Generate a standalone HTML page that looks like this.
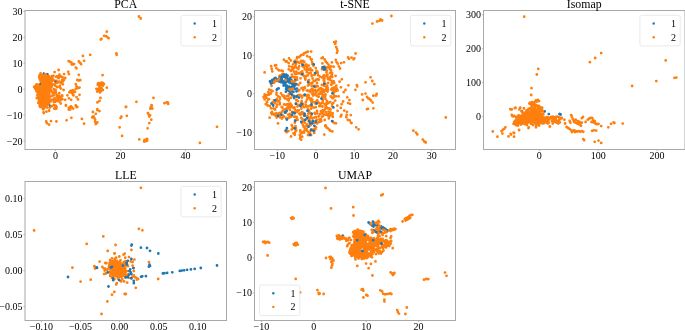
<!DOCTYPE html><html><head><meta charset="utf-8"><style>html,body{margin:0;padding:0;background:#fff;overflow:hidden;}svg{display:block;}text{font-family:"Liberation Serif",serif;fill:#000;}svg{will-change:transform;}</style></head><body>
<svg width="685" height="330" viewBox="0 0 685 330">
<rect width="685" height="330" fill="#fff"/>
<clipPath id="c0"><rect x="25.0" y="10.5" width="201.5" height="139.0"/></clipPath>
<g clip-path="url(#c0)">
<path d="M40.9 74.7L43.7 73.8L46.9 75.1L50.1 76.4L52.6 79.0L51.8 81.7L53.0 84.2L52.2 87.3L50.8 90.3L49.7 93.3L49.3 97.2L48.8 101.2L47.5 104.5L45.0 107.2L41.7 106.6L39.2 103.9L38.0 99.9L38.3 94.6L37.8 90.9L35.1 87.9L34.4 86.0L38.3 84.7L40.3 82.2L39.9 78.5Z" fill="#ff7f0e"/>
<path d="M97.8 84.5L98.6 83.9L99.7 83.4L101.1 83.5L102.5 83.2L103.2 83.9L103.0 84.8L102.2 85.5L100.5 86.1L100.1 87.3L101.8 89.0L102.4 90.1L101.8 90.9L100.4 91.6L98.8 91.3L97.2 90.9L96.6 90.1L97.0 89.2L99.0 88.4L100.0 87.0L98.3 85.4L97.7 84.9Z" fill="#ff7f0e"/>
<path d="M106.8 31.7m-1.40 0a1.40 1.40 0 1 0 2.80 0a1.40 1.40 0 1 0 -2.80 0M104.1 35.8m-1.40 0a1.40 1.40 0 1 0 2.80 0a1.40 1.40 0 1 0 -2.80 0M106.1 36.1m-1.40 0a1.40 1.40 0 1 0 2.80 0a1.40 1.40 0 1 0 -2.80 0M107.6 37.3m-1.40 0a1.40 1.40 0 1 0 2.80 0a1.40 1.40 0 1 0 -2.80 0M108.6 38.2m-1.40 0a1.40 1.40 0 1 0 2.80 0a1.40 1.40 0 1 0 -2.80 0M100.8 39.5m-1.40 0a1.40 1.40 0 1 0 2.80 0a1.40 1.40 0 1 0 -2.80 0M101.5 38.8m-1.40 0a1.40 1.40 0 1 0 2.80 0a1.40 1.40 0 1 0 -2.80 0M116.4 53.5m-1.40 0a1.40 1.40 0 1 0 2.80 0a1.40 1.40 0 1 0 -2.80 0M116.7 54.8m-1.40 0a1.40 1.40 0 1 0 2.80 0a1.40 1.40 0 1 0 -2.80 0M90.2 54.8m-1.40 0a1.40 1.40 0 1 0 2.80 0a1.40 1.40 0 1 0 -2.80 0M82.9 55.9m-1.40 0a1.40 1.40 0 1 0 2.80 0a1.40 1.40 0 1 0 -2.80 0M84.1 60.8m-1.40 0a1.40 1.40 0 1 0 2.80 0a1.40 1.40 0 1 0 -2.80 0M138.9 16.5m-1.40 0a1.40 1.40 0 1 0 2.80 0a1.40 1.40 0 1 0 -2.80 0M140.8 18.5m-1.40 0a1.40 1.40 0 1 0 2.80 0a1.40 1.40 0 1 0 -2.80 0M41.9 75.1m-1.40 0a1.40 1.40 0 1 0 2.80 0a1.40 1.40 0 1 0 -2.80 0M44.1 73.9m-1.40 0a1.40 1.40 0 1 0 2.80 0a1.40 1.40 0 1 0 -2.80 0M46.8 74.2m-1.40 0a1.40 1.40 0 1 0 2.80 0a1.40 1.40 0 1 0 -2.80 0M47.5 75.0m-1.40 0a1.40 1.40 0 1 0 2.80 0a1.40 1.40 0 1 0 -2.80 0M48.8 76.2m-1.40 0a1.40 1.40 0 1 0 2.80 0a1.40 1.40 0 1 0 -2.80 0M50.5 78.2m-1.40 0a1.40 1.40 0 1 0 2.80 0a1.40 1.40 0 1 0 -2.80 0M51.6 78.0m-1.40 0a1.40 1.40 0 1 0 2.80 0a1.40 1.40 0 1 0 -2.80 0M52.9 80.2m-1.40 0a1.40 1.40 0 1 0 2.80 0a1.40 1.40 0 1 0 -2.80 0M51.9 81.4m-1.40 0a1.40 1.40 0 1 0 2.80 0a1.40 1.40 0 1 0 -2.80 0M52.8 84.5m-1.40 0a1.40 1.40 0 1 0 2.80 0a1.40 1.40 0 1 0 -2.80 0M52.0 85.6m-1.40 0a1.40 1.40 0 1 0 2.80 0a1.40 1.40 0 1 0 -2.80 0M51.5 87.2m-1.40 0a1.40 1.40 0 1 0 2.80 0a1.40 1.40 0 1 0 -2.80 0M51.1 90.3m-1.40 0a1.40 1.40 0 1 0 2.80 0a1.40 1.40 0 1 0 -2.80 0M51.5 91.5m-1.40 0a1.40 1.40 0 1 0 2.80 0a1.40 1.40 0 1 0 -2.80 0M49.3 93.9m-1.40 0a1.40 1.40 0 1 0 2.80 0a1.40 1.40 0 1 0 -2.80 0M50.1 96.5m-1.40 0a1.40 1.40 0 1 0 2.80 0a1.40 1.40 0 1 0 -2.80 0M49.4 98.5m-1.40 0a1.40 1.40 0 1 0 2.80 0a1.40 1.40 0 1 0 -2.80 0M49.5 101.0m-1.40 0a1.40 1.40 0 1 0 2.80 0a1.40 1.40 0 1 0 -2.80 0M48.6 101.2m-1.40 0a1.40 1.40 0 1 0 2.80 0a1.40 1.40 0 1 0 -2.80 0M48.5 103.1m-1.40 0a1.40 1.40 0 1 0 2.80 0a1.40 1.40 0 1 0 -2.80 0M47.4 105.1m-1.40 0a1.40 1.40 0 1 0 2.80 0a1.40 1.40 0 1 0 -2.80 0M45.2 106.7m-1.40 0a1.40 1.40 0 1 0 2.80 0a1.40 1.40 0 1 0 -2.80 0M44.7 107.1m-1.40 0a1.40 1.40 0 1 0 2.80 0a1.40 1.40 0 1 0 -2.80 0M42.7 105.9m-1.40 0a1.40 1.40 0 1 0 2.80 0a1.40 1.40 0 1 0 -2.80 0M42.1 107.4m-1.40 0a1.40 1.40 0 1 0 2.80 0a1.40 1.40 0 1 0 -2.80 0M39.5 103.8m-1.40 0a1.40 1.40 0 1 0 2.80 0a1.40 1.40 0 1 0 -2.80 0M39.8 103.4m-1.40 0a1.40 1.40 0 1 0 2.80 0a1.40 1.40 0 1 0 -2.80 0M38.9 100.3m-1.40 0a1.40 1.40 0 1 0 2.80 0a1.40 1.40 0 1 0 -2.80 0M38.9 99.1m-1.40 0a1.40 1.40 0 1 0 2.80 0a1.40 1.40 0 1 0 -2.80 0M37.7 97.4m-1.40 0a1.40 1.40 0 1 0 2.80 0a1.40 1.40 0 1 0 -2.80 0M37.4 95.2m-1.40 0a1.40 1.40 0 1 0 2.80 0a1.40 1.40 0 1 0 -2.80 0M38.8 93.5m-1.40 0a1.40 1.40 0 1 0 2.80 0a1.40 1.40 0 1 0 -2.80 0M37.9 91.4m-1.40 0a1.40 1.40 0 1 0 2.80 0a1.40 1.40 0 1 0 -2.80 0M36.4 91.0m-1.40 0a1.40 1.40 0 1 0 2.80 0a1.40 1.40 0 1 0 -2.80 0M35.1 88.6m-1.40 0a1.40 1.40 0 1 0 2.80 0a1.40 1.40 0 1 0 -2.80 0M34.5 86.7m-1.40 0a1.40 1.40 0 1 0 2.80 0a1.40 1.40 0 1 0 -2.80 0M35.6 85.9m-1.40 0a1.40 1.40 0 1 0 2.80 0a1.40 1.40 0 1 0 -2.80 0M36.4 84.6m-1.40 0a1.40 1.40 0 1 0 2.80 0a1.40 1.40 0 1 0 -2.80 0M38.8 84.9m-1.40 0a1.40 1.40 0 1 0 2.80 0a1.40 1.40 0 1 0 -2.80 0M40.7 81.3m-1.40 0a1.40 1.40 0 1 0 2.80 0a1.40 1.40 0 1 0 -2.80 0M40.7 80.2m-1.40 0a1.40 1.40 0 1 0 2.80 0a1.40 1.40 0 1 0 -2.80 0M39.1 77.4m-1.40 0a1.40 1.40 0 1 0 2.80 0a1.40 1.40 0 1 0 -2.80 0M40.3 74.5m-1.40 0a1.40 1.40 0 1 0 2.80 0a1.40 1.40 0 1 0 -2.80 0M54.6 72.1m-1.40 0a1.40 1.40 0 1 0 2.80 0a1.40 1.40 0 1 0 -2.80 0M58.6 70.0m-1.40 0a1.40 1.40 0 1 0 2.80 0a1.40 1.40 0 1 0 -2.80 0M64.1 74.1m-1.40 0a1.40 1.40 0 1 0 2.80 0a1.40 1.40 0 1 0 -2.80 0M61.4 76.9m-1.40 0a1.40 1.40 0 1 0 2.80 0a1.40 1.40 0 1 0 -2.80 0M58.6 78.2m-1.40 0a1.40 1.40 0 1 0 2.80 0a1.40 1.40 0 1 0 -2.80 0M56.6 81.0m-1.40 0a1.40 1.40 0 1 0 2.80 0a1.40 1.40 0 1 0 -2.80 0M59.3 81.6m-1.40 0a1.40 1.40 0 1 0 2.80 0a1.40 1.40 0 1 0 -2.80 0M62.7 81.6m-1.40 0a1.40 1.40 0 1 0 2.80 0a1.40 1.40 0 1 0 -2.80 0M55.2 85.7m-1.40 0a1.40 1.40 0 1 0 2.80 0a1.40 1.40 0 1 0 -2.80 0M57.3 87.1m-1.40 0a1.40 1.40 0 1 0 2.80 0a1.40 1.40 0 1 0 -2.80 0M60.7 88.5m-1.40 0a1.40 1.40 0 1 0 2.80 0a1.40 1.40 0 1 0 -2.80 0M63.4 89.8m-1.40 0a1.40 1.40 0 1 0 2.80 0a1.40 1.40 0 1 0 -2.80 0M55.9 91.9m-1.40 0a1.40 1.40 0 1 0 2.80 0a1.40 1.40 0 1 0 -2.80 0M59.3 93.2m-1.40 0a1.40 1.40 0 1 0 2.80 0a1.40 1.40 0 1 0 -2.80 0M62.1 95.3m-1.40 0a1.40 1.40 0 1 0 2.80 0a1.40 1.40 0 1 0 -2.80 0M53.9 95.3m-1.40 0a1.40 1.40 0 1 0 2.80 0a1.40 1.40 0 1 0 -2.80 0M57.3 97.3m-1.40 0a1.40 1.40 0 1 0 2.80 0a1.40 1.40 0 1 0 -2.80 0M55.2 100.7m-1.40 0a1.40 1.40 0 1 0 2.80 0a1.40 1.40 0 1 0 -2.80 0M58.6 101.4m-1.40 0a1.40 1.40 0 1 0 2.80 0a1.40 1.40 0 1 0 -2.80 0M60.7 103.5m-1.40 0a1.40 1.40 0 1 0 2.80 0a1.40 1.40 0 1 0 -2.80 0M53.9 104.8m-1.40 0a1.40 1.40 0 1 0 2.80 0a1.40 1.40 0 1 0 -2.80 0M56.6 106.9m-1.40 0a1.40 1.40 0 1 0 2.80 0a1.40 1.40 0 1 0 -2.80 0M55.2 108.9m-1.40 0a1.40 1.40 0 1 0 2.80 0a1.40 1.40 0 1 0 -2.80 0M49.1 110.3m-1.40 0a1.40 1.40 0 1 0 2.80 0a1.40 1.40 0 1 0 -2.80 0M46.4 111.7m-1.40 0a1.40 1.40 0 1 0 2.80 0a1.40 1.40 0 1 0 -2.80 0M43.6 112.3m-1.40 0a1.40 1.40 0 1 0 2.80 0a1.40 1.40 0 1 0 -2.80 0M49.8 107.6m-1.40 0a1.40 1.40 0 1 0 2.80 0a1.40 1.40 0 1 0 -2.80 0M51.8 106.2m-1.40 0a1.40 1.40 0 1 0 2.80 0a1.40 1.40 0 1 0 -2.80 0M40.6 73.5m-1.40 0a1.40 1.40 0 1 0 2.80 0a1.40 1.40 0 1 0 -2.80 0M39.5 75.5m-1.40 0a1.40 1.40 0 1 0 2.80 0a1.40 1.40 0 1 0 -2.80 0M39.8 79.6m-1.40 0a1.40 1.40 0 1 0 2.80 0a1.40 1.40 0 1 0 -2.80 0M36.8 84.4m-1.40 0a1.40 1.40 0 1 0 2.80 0a1.40 1.40 0 1 0 -2.80 0M34.1 87.1m-1.40 0a1.40 1.40 0 1 0 2.80 0a1.40 1.40 0 1 0 -2.80 0M35.5 89.1m-1.40 0a1.40 1.40 0 1 0 2.80 0a1.40 1.40 0 1 0 -2.80 0M37.5 92.6m-1.40 0a1.40 1.40 0 1 0 2.80 0a1.40 1.40 0 1 0 -2.80 0M36.8 98.0m-1.40 0a1.40 1.40 0 1 0 2.80 0a1.40 1.40 0 1 0 -2.80 0M38.2 102.8m-1.40 0a1.40 1.40 0 1 0 2.80 0a1.40 1.40 0 1 0 -2.80 0M40.2 106.9m-1.40 0a1.40 1.40 0 1 0 2.80 0a1.40 1.40 0 1 0 -2.80 0M43.0 108.9m-1.40 0a1.40 1.40 0 1 0 2.80 0a1.40 1.40 0 1 0 -2.80 0M47.1 107.6m-1.40 0a1.40 1.40 0 1 0 2.80 0a1.40 1.40 0 1 0 -2.80 0M49.1 104.2m-1.40 0a1.40 1.40 0 1 0 2.80 0a1.40 1.40 0 1 0 -2.80 0M51.1 100.1m-1.40 0a1.40 1.40 0 1 0 2.80 0a1.40 1.40 0 1 0 -2.80 0M51.8 96.0m-1.40 0a1.40 1.40 0 1 0 2.80 0a1.40 1.40 0 1 0 -2.80 0M52.5 92.6m-1.40 0a1.40 1.40 0 1 0 2.80 0a1.40 1.40 0 1 0 -2.80 0M53.9 89.1m-1.40 0a1.40 1.40 0 1 0 2.80 0a1.40 1.40 0 1 0 -2.80 0M54.6 84.4m-1.40 0a1.40 1.40 0 1 0 2.80 0a1.40 1.40 0 1 0 -2.80 0M53.2 79.6m-1.40 0a1.40 1.40 0 1 0 2.80 0a1.40 1.40 0 1 0 -2.80 0M51.8 76.2m-1.40 0a1.40 1.40 0 1 0 2.80 0a1.40 1.40 0 1 0 -2.80 0M68.2 71.8m-1.40 0a1.40 1.40 0 1 0 2.80 0a1.40 1.40 0 1 0 -2.80 0M68.9 74.1m-1.40 0a1.40 1.40 0 1 0 2.80 0a1.40 1.40 0 1 0 -2.80 0M65.2 77.9m-1.40 0a1.40 1.40 0 1 0 2.80 0a1.40 1.40 0 1 0 -2.80 0M62.1 80.2m-1.40 0a1.40 1.40 0 1 0 2.80 0a1.40 1.40 0 1 0 -2.80 0M65.9 105.2m-1.40 0a1.40 1.40 0 1 0 2.80 0a1.40 1.40 0 1 0 -2.80 0M70.5 106.7m-1.40 0a1.40 1.40 0 1 0 2.80 0a1.40 1.40 0 1 0 -2.80 0M68.9 109.7m-1.40 0a1.40 1.40 0 1 0 2.80 0a1.40 1.40 0 1 0 -2.80 0M70.5 90.8m-1.40 0a1.40 1.40 0 1 0 2.80 0a1.40 1.40 0 1 0 -2.80 0M72.0 93.0m-1.40 0a1.40 1.40 0 1 0 2.80 0a1.40 1.40 0 1 0 -2.80 0M73.5 95.3m-1.40 0a1.40 1.40 0 1 0 2.80 0a1.40 1.40 0 1 0 -2.80 0M67.4 95.3m-1.40 0a1.40 1.40 0 1 0 2.80 0a1.40 1.40 0 1 0 -2.80 0M68.9 98.3m-1.40 0a1.40 1.40 0 1 0 2.80 0a1.40 1.40 0 1 0 -2.80 0M71.2 99.8m-1.40 0a1.40 1.40 0 1 0 2.80 0a1.40 1.40 0 1 0 -2.80 0M65.2 99.8m-1.40 0a1.40 1.40 0 1 0 2.80 0a1.40 1.40 0 1 0 -2.80 0M78.8 61.5m-1.40 0a1.40 1.40 0 1 0 2.80 0a1.40 1.40 0 1 0 -2.80 0M80.3 63.0m-1.40 0a1.40 1.40 0 1 0 2.80 0a1.40 1.40 0 1 0 -2.80 0M81.1 64.2m-1.40 0a1.40 1.40 0 1 0 2.80 0a1.40 1.40 0 1 0 -2.80 0M79.5 62.3m-1.40 0a1.40 1.40 0 1 0 2.80 0a1.40 1.40 0 1 0 -2.80 0M84.1 60.8m-1.40 0a1.40 1.40 0 1 0 2.80 0a1.40 1.40 0 1 0 -2.80 0M76.5 68.3m-1.40 0a1.40 1.40 0 1 0 2.80 0a1.40 1.40 0 1 0 -2.80 0M75.8 67.6m-1.40 0a1.40 1.40 0 1 0 2.80 0a1.40 1.40 0 1 0 -2.80 0M78.8 74.8m-1.40 0a1.40 1.40 0 1 0 2.80 0a1.40 1.40 0 1 0 -2.80 0M77.3 80.0m-1.40 0a1.40 1.40 0 1 0 2.80 0a1.40 1.40 0 1 0 -2.80 0M78.8 80.5m-1.40 0a1.40 1.40 0 1 0 2.80 0a1.40 1.40 0 1 0 -2.80 0M80.3 80.2m-1.40 0a1.40 1.40 0 1 0 2.80 0a1.40 1.40 0 1 0 -2.80 0M75.8 84.2m-1.40 0a1.40 1.40 0 1 0 2.80 0a1.40 1.40 0 1 0 -2.80 0M76.5 86.5m-1.40 0a1.40 1.40 0 1 0 2.80 0a1.40 1.40 0 1 0 -2.80 0M78.0 88.0m-1.40 0a1.40 1.40 0 1 0 2.80 0a1.40 1.40 0 1 0 -2.80 0M79.5 87.6m-1.40 0a1.40 1.40 0 1 0 2.80 0a1.40 1.40 0 1 0 -2.80 0M75.8 88.8m-1.40 0a1.40 1.40 0 1 0 2.80 0a1.40 1.40 0 1 0 -2.80 0M75.0 91.8m-1.40 0a1.40 1.40 0 1 0 2.80 0a1.40 1.40 0 1 0 -2.80 0M79.5 94.8m-1.40 0a1.40 1.40 0 1 0 2.80 0a1.40 1.40 0 1 0 -2.80 0M76.5 97.1m-1.40 0a1.40 1.40 0 1 0 2.80 0a1.40 1.40 0 1 0 -2.80 0M78.0 99.4m-1.40 0a1.40 1.40 0 1 0 2.80 0a1.40 1.40 0 1 0 -2.80 0M75.8 105.5m-1.40 0a1.40 1.40 0 1 0 2.80 0a1.40 1.40 0 1 0 -2.80 0M77.3 107.0m-1.40 0a1.40 1.40 0 1 0 2.80 0a1.40 1.40 0 1 0 -2.80 0M102.6 75.2m-1.40 0a1.40 1.40 0 1 0 2.80 0a1.40 1.40 0 1 0 -2.80 0M106.8 87.7m-1.40 0a1.40 1.40 0 1 0 2.80 0a1.40 1.40 0 1 0 -2.80 0M100.5 97.9m-1.40 0a1.40 1.40 0 1 0 2.80 0a1.40 1.40 0 1 0 -2.80 0M99.5 100.9m-1.40 0a1.40 1.40 0 1 0 2.80 0a1.40 1.40 0 1 0 -2.80 0M97.4 102.4m-1.40 0a1.40 1.40 0 1 0 2.80 0a1.40 1.40 0 1 0 -2.80 0M97.4 109.2m-1.40 0a1.40 1.40 0 1 0 2.80 0a1.40 1.40 0 1 0 -2.80 0M125.8 107.0m-1.40 0a1.40 1.40 0 1 0 2.80 0a1.40 1.40 0 1 0 -2.80 0M136.4 101.8m-1.40 0a1.40 1.40 0 1 0 2.80 0a1.40 1.40 0 1 0 -2.80 0M153.5 97.9m-1.40 0a1.40 1.40 0 1 0 2.80 0a1.40 1.40 0 1 0 -2.80 0M151.5 105.2m-1.40 0a1.40 1.40 0 1 0 2.80 0a1.40 1.40 0 1 0 -2.80 0M150.8 107.7m-1.40 0a1.40 1.40 0 1 0 2.80 0a1.40 1.40 0 1 0 -2.80 0M152.3 108.5m-1.40 0a1.40 1.40 0 1 0 2.80 0a1.40 1.40 0 1 0 -2.80 0M164.4 103.2m-1.40 0a1.40 1.40 0 1 0 2.80 0a1.40 1.40 0 1 0 -2.80 0M166.7 102.4m-1.40 0a1.40 1.40 0 1 0 2.80 0a1.40 1.40 0 1 0 -2.80 0M168.2 103.9m-1.40 0a1.40 1.40 0 1 0 2.80 0a1.40 1.40 0 1 0 -2.80 0M167.7 102.4m-1.40 0a1.40 1.40 0 1 0 2.80 0a1.40 1.40 0 1 0 -2.80 0M98.0 83.3m-1.40 0a1.40 1.40 0 1 0 2.80 0a1.40 1.40 0 1 0 -2.80 0M98.8 83.2m-1.40 0a1.40 1.40 0 1 0 2.80 0a1.40 1.40 0 1 0 -2.80 0M100.5 83.4m-1.40 0a1.40 1.40 0 1 0 2.80 0a1.40 1.40 0 1 0 -2.80 0M101.5 82.6m-1.40 0a1.40 1.40 0 1 0 2.80 0a1.40 1.40 0 1 0 -2.80 0M102.6 82.9m-1.40 0a1.40 1.40 0 1 0 2.80 0a1.40 1.40 0 1 0 -2.80 0M103.9 84.0m-1.40 0a1.40 1.40 0 1 0 2.80 0a1.40 1.40 0 1 0 -2.80 0M103.1 85.5m-1.40 0a1.40 1.40 0 1 0 2.80 0a1.40 1.40 0 1 0 -2.80 0M101.3 84.9m-1.40 0a1.40 1.40 0 1 0 2.80 0a1.40 1.40 0 1 0 -2.80 0M99.6 87.3m-1.40 0a1.40 1.40 0 1 0 2.80 0a1.40 1.40 0 1 0 -2.80 0M101.4 88.0m-1.40 0a1.40 1.40 0 1 0 2.80 0a1.40 1.40 0 1 0 -2.80 0M102.9 90.1m-1.40 0a1.40 1.40 0 1 0 2.80 0a1.40 1.40 0 1 0 -2.80 0M102.6 90.1m-1.40 0a1.40 1.40 0 1 0 2.80 0a1.40 1.40 0 1 0 -2.80 0M100.7 91.5m-1.40 0a1.40 1.40 0 1 0 2.80 0a1.40 1.40 0 1 0 -2.80 0M99.9 92.4m-1.40 0a1.40 1.40 0 1 0 2.80 0a1.40 1.40 0 1 0 -2.80 0M97.1 91.6m-1.40 0a1.40 1.40 0 1 0 2.80 0a1.40 1.40 0 1 0 -2.80 0M97.8 91.1m-1.40 0a1.40 1.40 0 1 0 2.80 0a1.40 1.40 0 1 0 -2.80 0M96.4 88.8m-1.40 0a1.40 1.40 0 1 0 2.80 0a1.40 1.40 0 1 0 -2.80 0M98.0 89.1m-1.40 0a1.40 1.40 0 1 0 2.80 0a1.40 1.40 0 1 0 -2.80 0M100.1 86.5m-1.40 0a1.40 1.40 0 1 0 2.80 0a1.40 1.40 0 1 0 -2.80 0M99.4 86.0m-1.40 0a1.40 1.40 0 1 0 2.80 0a1.40 1.40 0 1 0 -2.80 0M97.8 84.9m-1.40 0a1.40 1.40 0 1 0 2.80 0a1.40 1.40 0 1 0 -2.80 0M98.0 84.7m-1.40 0a1.40 1.40 0 1 0 2.80 0a1.40 1.40 0 1 0 -2.80 0M39.6 105.7m-1.40 0a1.40 1.40 0 1 0 2.80 0a1.40 1.40 0 1 0 -2.80 0M42.5 106.5m-1.40 0a1.40 1.40 0 1 0 2.80 0a1.40 1.40 0 1 0 -2.80 0M44.0 108.6m-1.40 0a1.40 1.40 0 1 0 2.80 0a1.40 1.40 0 1 0 -2.80 0M44.7 107.2m-1.40 0a1.40 1.40 0 1 0 2.80 0a1.40 1.40 0 1 0 -2.80 0M43.2 109.4m-1.40 0a1.40 1.40 0 1 0 2.80 0a1.40 1.40 0 1 0 -2.80 0M49.1 110.8m-1.40 0a1.40 1.40 0 1 0 2.80 0a1.40 1.40 0 1 0 -2.80 0M43.7 113.0m-1.40 0a1.40 1.40 0 1 0 2.80 0a1.40 1.40 0 1 0 -2.80 0M54.9 107.2m-1.40 0a1.40 1.40 0 1 0 2.80 0a1.40 1.40 0 1 0 -2.80 0M56.4 108.6m-1.40 0a1.40 1.40 0 1 0 2.80 0a1.40 1.40 0 1 0 -2.80 0M54.2 108.6m-1.40 0a1.40 1.40 0 1 0 2.80 0a1.40 1.40 0 1 0 -2.80 0M55.7 105.7m-1.40 0a1.40 1.40 0 1 0 2.80 0a1.40 1.40 0 1 0 -2.80 0M65.9 105.7m-1.40 0a1.40 1.40 0 1 0 2.80 0a1.40 1.40 0 1 0 -2.80 0M68.8 107.9m-1.40 0a1.40 1.40 0 1 0 2.80 0a1.40 1.40 0 1 0 -2.80 0M70.3 109.4m-1.40 0a1.40 1.40 0 1 0 2.80 0a1.40 1.40 0 1 0 -2.80 0M71.7 107.2m-1.40 0a1.40 1.40 0 1 0 2.80 0a1.40 1.40 0 1 0 -2.80 0M73.2 108.6m-1.40 0a1.40 1.40 0 1 0 2.80 0a1.40 1.40 0 1 0 -2.80 0M71.0 106.5m-1.40 0a1.40 1.40 0 1 0 2.80 0a1.40 1.40 0 1 0 -2.80 0M68.8 109.4m-1.40 0a1.40 1.40 0 1 0 2.80 0a1.40 1.40 0 1 0 -2.80 0M76.1 106.5m-1.40 0a1.40 1.40 0 1 0 2.80 0a1.40 1.40 0 1 0 -2.80 0M76.8 107.2m-1.40 0a1.40 1.40 0 1 0 2.80 0a1.40 1.40 0 1 0 -2.80 0M46.2 121.4m-1.40 0a1.40 1.40 0 1 0 2.80 0a1.40 1.40 0 1 0 -2.80 0M46.9 123.2m-1.40 0a1.40 1.40 0 1 0 2.80 0a1.40 1.40 0 1 0 -2.80 0M49.1 124.7m-1.40 0a1.40 1.40 0 1 0 2.80 0a1.40 1.40 0 1 0 -2.80 0M51.0 121.1m-1.40 0a1.40 1.40 0 1 0 2.80 0a1.40 1.40 0 1 0 -2.80 0M56.4 121.5m-1.40 0a1.40 1.40 0 1 0 2.80 0a1.40 1.40 0 1 0 -2.80 0M66.6 120.3m-1.40 0a1.40 1.40 0 1 0 2.80 0a1.40 1.40 0 1 0 -2.80 0M71.4 117.8m-1.40 0a1.40 1.40 0 1 0 2.80 0a1.40 1.40 0 1 0 -2.80 0M81.9 118.9m-1.40 0a1.40 1.40 0 1 0 2.80 0a1.40 1.40 0 1 0 -2.80 0M84.1 123.7m-1.40 0a1.40 1.40 0 1 0 2.80 0a1.40 1.40 0 1 0 -2.80 0M92.9 112.0m-1.40 0a1.40 1.40 0 1 0 2.80 0a1.40 1.40 0 1 0 -2.80 0M95.8 113.8m-1.40 0a1.40 1.40 0 1 0 2.80 0a1.40 1.40 0 1 0 -2.80 0M97.3 110.1m-1.40 0a1.40 1.40 0 1 0 2.80 0a1.40 1.40 0 1 0 -2.80 0M99.5 111.1m-1.40 0a1.40 1.40 0 1 0 2.80 0a1.40 1.40 0 1 0 -2.80 0M92.9 116.7m-1.40 0a1.40 1.40 0 1 0 2.80 0a1.40 1.40 0 1 0 -2.80 0M94.3 118.1m-1.40 0a1.40 1.40 0 1 0 2.80 0a1.40 1.40 0 1 0 -2.80 0M95.1 119.6m-1.40 0a1.40 1.40 0 1 0 2.80 0a1.40 1.40 0 1 0 -2.80 0M93.6 116.4m-1.40 0a1.40 1.40 0 1 0 2.80 0a1.40 1.40 0 1 0 -2.80 0M92.2 117.4m-1.40 0a1.40 1.40 0 1 0 2.80 0a1.40 1.40 0 1 0 -2.80 0M95.1 121.8m-1.40 0a1.40 1.40 0 1 0 2.80 0a1.40 1.40 0 1 0 -2.80 0M96.5 123.2m-1.40 0a1.40 1.40 0 1 0 2.80 0a1.40 1.40 0 1 0 -2.80 0M97.3 122.5m-1.40 0a1.40 1.40 0 1 0 2.80 0a1.40 1.40 0 1 0 -2.80 0M95.8 124.0m-1.40 0a1.40 1.40 0 1 0 2.80 0a1.40 1.40 0 1 0 -2.80 0M121.4 116.7m-1.40 0a1.40 1.40 0 1 0 2.80 0a1.40 1.40 0 1 0 -2.80 0M120.6 118.1m-1.40 0a1.40 1.40 0 1 0 2.80 0a1.40 1.40 0 1 0 -2.80 0M119.6 127.3m-1.40 0a1.40 1.40 0 1 0 2.80 0a1.40 1.40 0 1 0 -2.80 0M122.1 135.9m-1.40 0a1.40 1.40 0 1 0 2.80 0a1.40 1.40 0 1 0 -2.80 0M126.2 106.8m-1.40 0a1.40 1.40 0 1 0 2.80 0a1.40 1.40 0 1 0 -2.80 0M126.8 115.8m-1.40 0a1.40 1.40 0 1 0 2.80 0a1.40 1.40 0 1 0 -2.80 0M150.8 107.2m-1.40 0a1.40 1.40 0 1 0 2.80 0a1.40 1.40 0 1 0 -2.80 0M151.5 108.2m-1.40 0a1.40 1.40 0 1 0 2.80 0a1.40 1.40 0 1 0 -2.80 0M151.8 105.7m-1.40 0a1.40 1.40 0 1 0 2.80 0a1.40 1.40 0 1 0 -2.80 0M150.4 108.7m-1.40 0a1.40 1.40 0 1 0 2.80 0a1.40 1.40 0 1 0 -2.80 0M147.9 113.1m-1.40 0a1.40 1.40 0 1 0 2.80 0a1.40 1.40 0 1 0 -2.80 0M148.6 114.6m-1.40 0a1.40 1.40 0 1 0 2.80 0a1.40 1.40 0 1 0 -2.80 0M150.1 115.3m-1.40 0a1.40 1.40 0 1 0 2.80 0a1.40 1.40 0 1 0 -2.80 0M149.3 116.5m-1.40 0a1.40 1.40 0 1 0 2.80 0a1.40 1.40 0 1 0 -2.80 0M148.3 113.8m-1.40 0a1.40 1.40 0 1 0 2.80 0a1.40 1.40 0 1 0 -2.80 0M151.3 119.7m-1.40 0a1.40 1.40 0 1 0 2.80 0a1.40 1.40 0 1 0 -2.80 0M149.3 123.1m-1.40 0a1.40 1.40 0 1 0 2.80 0a1.40 1.40 0 1 0 -2.80 0M147.6 128.3m-1.40 0a1.40 1.40 0 1 0 2.80 0a1.40 1.40 0 1 0 -2.80 0M139.3 139.4m-1.40 0a1.40 1.40 0 1 0 2.80 0a1.40 1.40 0 1 0 -2.80 0M144.2 140.4m-1.40 0a1.40 1.40 0 1 0 2.80 0a1.40 1.40 0 1 0 -2.80 0M145.6 139.7m-1.40 0a1.40 1.40 0 1 0 2.80 0a1.40 1.40 0 1 0 -2.80 0M147.1 138.9m-1.40 0a1.40 1.40 0 1 0 2.80 0a1.40 1.40 0 1 0 -2.80 0M146.4 141.1m-1.40 0a1.40 1.40 0 1 0 2.80 0a1.40 1.40 0 1 0 -2.80 0M144.2 141.6m-1.40 0a1.40 1.40 0 1 0 2.80 0a1.40 1.40 0 1 0 -2.80 0M147.1 140.4m-1.40 0a1.40 1.40 0 1 0 2.80 0a1.40 1.40 0 1 0 -2.80 0M199.9 142.9m-1.40 0a1.40 1.40 0 1 0 2.80 0a1.40 1.40 0 1 0 -2.80 0M217.0 126.8m-1.40 0a1.40 1.40 0 1 0 2.80 0a1.40 1.40 0 1 0 -2.80 0M53.1 76.4m-1.40 0a1.40 1.40 0 1 0 2.80 0a1.40 1.40 0 1 0 -2.80 0M59.5 81.9m-1.40 0a1.40 1.40 0 1 0 2.80 0a1.40 1.40 0 1 0 -2.80 0M57.3 82.8m-1.40 0a1.40 1.40 0 1 0 2.80 0a1.40 1.40 0 1 0 -2.80 0M62.4 99.2m-1.40 0a1.40 1.40 0 1 0 2.80 0a1.40 1.40 0 1 0 -2.80 0M54.9 101.7m-1.40 0a1.40 1.40 0 1 0 2.80 0a1.40 1.40 0 1 0 -2.80 0M61.1 83.2m-1.40 0a1.40 1.40 0 1 0 2.80 0a1.40 1.40 0 1 0 -2.80 0M53.4 92.8m-1.40 0a1.40 1.40 0 1 0 2.80 0a1.40 1.40 0 1 0 -2.80 0M55.2 98.7m-1.40 0a1.40 1.40 0 1 0 2.80 0a1.40 1.40 0 1 0 -2.80 0M59.8 87.3m-1.40 0a1.40 1.40 0 1 0 2.80 0a1.40 1.40 0 1 0 -2.80 0M63.9 80.2m-1.40 0a1.40 1.40 0 1 0 2.80 0a1.40 1.40 0 1 0 -2.80 0M60.4 75.9m-1.40 0a1.40 1.40 0 1 0 2.80 0a1.40 1.40 0 1 0 -2.80 0M52.8 99.6m-1.40 0a1.40 1.40 0 1 0 2.80 0a1.40 1.40 0 1 0 -2.80 0M53.4 95.2m-1.40 0a1.40 1.40 0 1 0 2.80 0a1.40 1.40 0 1 0 -2.80 0M58.7 97.6m-1.40 0a1.40 1.40 0 1 0 2.80 0a1.40 1.40 0 1 0 -2.80 0M55.5 83.2m-1.40 0a1.40 1.40 0 1 0 2.80 0a1.40 1.40 0 1 0 -2.80 0M54.4 98.3m-1.40 0a1.40 1.40 0 1 0 2.80 0a1.40 1.40 0 1 0 -2.80 0M58.7 100.8m-1.40 0a1.40 1.40 0 1 0 2.80 0a1.40 1.40 0 1 0 -2.80 0M62.6 77.3m-1.40 0a1.40 1.40 0 1 0 2.80 0a1.40 1.40 0 1 0 -2.80 0M58.0 76.4m-1.40 0a1.40 1.40 0 1 0 2.80 0a1.40 1.40 0 1 0 -2.80 0M62.3 96.0m-1.40 0a1.40 1.40 0 1 0 2.80 0a1.40 1.40 0 1 0 -2.80 0M61.8 83.2m-1.40 0a1.40 1.40 0 1 0 2.80 0a1.40 1.40 0 1 0 -2.80 0M58.9 95.9m-1.40 0a1.40 1.40 0 1 0 2.80 0a1.40 1.40 0 1 0 -2.80 0M55.6 89.8m-1.40 0a1.40 1.40 0 1 0 2.80 0a1.40 1.40 0 1 0 -2.80 0M53.5 75.8m-1.40 0a1.40 1.40 0 1 0 2.80 0a1.40 1.40 0 1 0 -2.80 0M54.1 99.0m-1.40 0a1.40 1.40 0 1 0 2.80 0a1.40 1.40 0 1 0 -2.80 0M58.2 100.0m-1.40 0a1.40 1.40 0 1 0 2.80 0a1.40 1.40 0 1 0 -2.80 0M56.7 81.4m-1.40 0a1.40 1.40 0 1 0 2.80 0a1.40 1.40 0 1 0 -2.80 0M61.2 97.2m-1.40 0a1.40 1.40 0 1 0 2.80 0a1.40 1.40 0 1 0 -2.80 0M53.7 101.8m-1.40 0a1.40 1.40 0 1 0 2.80 0a1.40 1.40 0 1 0 -2.80 0M56.2 76.8m-1.40 0a1.40 1.40 0 1 0 2.80 0a1.40 1.40 0 1 0 -2.80 0M60.6 76.4m-1.40 0a1.40 1.40 0 1 0 2.80 0a1.40 1.40 0 1 0 -2.80 0M62.9 84.3m-1.40 0a1.40 1.40 0 1 0 2.80 0a1.40 1.40 0 1 0 -2.80 0M54.5 80.7m-1.40 0a1.40 1.40 0 1 0 2.80 0a1.40 1.40 0 1 0 -2.80 0M57.0 76.3m-1.40 0a1.40 1.40 0 1 0 2.80 0a1.40 1.40 0 1 0 -2.80 0M59.4 74.6m-1.40 0a1.40 1.40 0 1 0 2.80 0a1.40 1.40 0 1 0 -2.80 0M50.6 101.6m-1.40 0a1.40 1.40 0 1 0 2.80 0a1.40 1.40 0 1 0 -2.80 0M54.5 90.5m-1.40 0a1.40 1.40 0 1 0 2.80 0a1.40 1.40 0 1 0 -2.80 0M56.6 82.4m-1.40 0a1.40 1.40 0 1 0 2.80 0a1.40 1.40 0 1 0 -2.80 0M68.6 61.1m-1.40 0a1.40 1.40 0 1 0 2.80 0a1.40 1.40 0 1 0 -2.80 0M70.0 61.8m-1.40 0a1.40 1.40 0 1 0 2.80 0a1.40 1.40 0 1 0 -2.80 0M71.4 62.7m-1.40 0a1.40 1.40 0 1 0 2.80 0a1.40 1.40 0 1 0 -2.80 0M72.3 63.6m-1.40 0a1.40 1.40 0 1 0 2.80 0a1.40 1.40 0 1 0 -2.80 0M73.2 64.4m-1.40 0a1.40 1.40 0 1 0 2.80 0a1.40 1.40 0 1 0 -2.80 0M74.1 64.1m-1.40 0a1.40 1.40 0 1 0 2.80 0a1.40 1.40 0 1 0 -2.80 0M71.8 64.5m-1.40 0a1.40 1.40 0 1 0 2.80 0a1.40 1.40 0 1 0 -2.80 0M73.0 95.0m-1.40 0a1.40 1.40 0 1 0 2.80 0a1.40 1.40 0 1 0 -2.80 0M72.5 93.2m-1.40 0a1.40 1.40 0 1 0 2.80 0a1.40 1.40 0 1 0 -2.80 0M73.3 90.4m-1.40 0a1.40 1.40 0 1 0 2.80 0a1.40 1.40 0 1 0 -2.80 0M72.5 90.7m-1.40 0a1.40 1.40 0 1 0 2.80 0a1.40 1.40 0 1 0 -2.80 0M71.9 92.9m-1.40 0a1.40 1.40 0 1 0 2.80 0a1.40 1.40 0 1 0 -2.80 0M73.2 94.8m-1.40 0a1.40 1.40 0 1 0 2.80 0a1.40 1.40 0 1 0 -2.80 0M71.5 90.7m-1.40 0a1.40 1.40 0 1 0 2.80 0a1.40 1.40 0 1 0 -2.80 0M71.0 90.8m-1.40 0a1.40 1.40 0 1 0 2.80 0a1.40 1.40 0 1 0 -2.80 0M70.9 90.9m-1.40 0a1.40 1.40 0 1 0 2.80 0a1.40 1.40 0 1 0 -2.80 0M72.5 92.5m-1.40 0a1.40 1.40 0 1 0 2.80 0a1.40 1.40 0 1 0 -2.80 0M72.9 90.3m-1.40 0a1.40 1.40 0 1 0 2.80 0a1.40 1.40 0 1 0 -2.80 0M69.3 92.3m-1.40 0a1.40 1.40 0 1 0 2.80 0a1.40 1.40 0 1 0 -2.80 0M73.2 90.6m-1.40 0a1.40 1.40 0 1 0 2.80 0a1.40 1.40 0 1 0 -2.80 0M74.2 91.9m-1.40 0a1.40 1.40 0 1 0 2.80 0a1.40 1.40 0 1 0 -2.80 0M64.1 79.3m-1.40 0a1.40 1.40 0 1 0 2.80 0a1.40 1.40 0 1 0 -2.80 0M60.3 96.9m-1.40 0a1.40 1.40 0 1 0 2.80 0a1.40 1.40 0 1 0 -2.80 0M55.8 101.2m-1.40 0a1.40 1.40 0 1 0 2.80 0a1.40 1.40 0 1 0 -2.80 0M56.8 96.4m-1.40 0a1.40 1.40 0 1 0 2.80 0a1.40 1.40 0 1 0 -2.80 0M58.4 77.9m-1.40 0a1.40 1.40 0 1 0 2.80 0a1.40 1.40 0 1 0 -2.80 0M60.5 100.3m-1.40 0a1.40 1.40 0 1 0 2.80 0a1.40 1.40 0 1 0 -2.80 0M58.1 99.6m-1.40 0a1.40 1.40 0 1 0 2.80 0a1.40 1.40 0 1 0 -2.80 0M56.5 100.1m-1.40 0a1.40 1.40 0 1 0 2.80 0a1.40 1.40 0 1 0 -2.80 0M55.3 83.7m-1.40 0a1.40 1.40 0 1 0 2.80 0a1.40 1.40 0 1 0 -2.80 0M56.9 86.9m-1.40 0a1.40 1.40 0 1 0 2.80 0a1.40 1.40 0 1 0 -2.80 0M56.7 94.7m-1.40 0a1.40 1.40 0 1 0 2.80 0a1.40 1.40 0 1 0 -2.80 0M62.1 82.0m-1.40 0a1.40 1.40 0 1 0 2.80 0a1.40 1.40 0 1 0 -2.80 0M55.7 101.6m-1.40 0a1.40 1.40 0 1 0 2.80 0a1.40 1.40 0 1 0 -2.80 0M63.6 90.1m-1.40 0a1.40 1.40 0 1 0 2.80 0a1.40 1.40 0 1 0 -2.80 0M60.7 98.5m-1.40 0a1.40 1.40 0 1 0 2.80 0a1.40 1.40 0 1 0 -2.80 0M59.8 85.9m-1.40 0a1.40 1.40 0 1 0 2.80 0a1.40 1.40 0 1 0 -2.80 0M58.6 82.1m-1.40 0a1.40 1.40 0 1 0 2.80 0a1.40 1.40 0 1 0 -2.80 0M55.3 92.8m-1.40 0a1.40 1.40 0 1 0 2.80 0a1.40 1.40 0 1 0 -2.80 0" fill="#ff7f0e"/>
<path d="M43.6 73.2m-1.00 0a1.00 1.00 0 1 0 2.00 0a1.00 1.00 0 1 0 -2.00 0M47.7 74.1m-1.00 0a1.00 1.00 0 1 0 2.00 0a1.00 1.00 0 1 0 -2.00 0M40.2 84.1m-1.00 0a1.00 1.00 0 1 0 2.00 0a1.00 1.00 0 1 0 -2.00 0M55.6 81.6m-1.00 0a1.00 1.00 0 1 0 2.00 0a1.00 1.00 0 1 0 -2.00 0M49.8 105.5m-1.00 0a1.00 1.00 0 1 0 2.00 0a1.00 1.00 0 1 0 -2.00 0M49.8 105.7m-1.00 0a1.00 1.00 0 1 0 2.00 0a1.00 1.00 0 1 0 -2.00 0" fill="#1f77b4"/>
</g>
<rect x="25.0" y="10.5" width="201.5" height="139.0" fill="none" stroke="#a8a8a8" stroke-width="1"/>
<line x1="55.5" y1="149.5" x2="55.5" y2="151.1" stroke="#a8a8a8" stroke-width="0.8"/>
<text x="55.5" y="159.1" font-size="10.0" text-anchor="middle">0</text>
<line x1="120.5" y1="149.5" x2="120.5" y2="151.1" stroke="#a8a8a8" stroke-width="0.8"/>
<text x="120.5" y="159.1" font-size="10.0" text-anchor="middle">20</text>
<line x1="185.5" y1="149.5" x2="185.5" y2="151.1" stroke="#a8a8a8" stroke-width="0.8"/>
<text x="185.5" y="159.1" font-size="10.0" text-anchor="middle">40</text>
<line x1="23.4" y1="11.3" x2="25.0" y2="11.3" stroke="#a8a8a8" stroke-width="0.8"/>
<text x="22.4" y="14.7" font-size="10.0" text-anchor="end">30</text>
<line x1="23.4" y1="37.3" x2="25.0" y2="37.3" stroke="#a8a8a8" stroke-width="0.8"/>
<text x="22.4" y="40.7" font-size="10.0" text-anchor="end">20</text>
<line x1="23.4" y1="63.2" x2="25.0" y2="63.2" stroke="#a8a8a8" stroke-width="0.8"/>
<text x="22.4" y="66.6" font-size="10.0" text-anchor="end">10</text>
<line x1="23.4" y1="89.2" x2="25.0" y2="89.2" stroke="#a8a8a8" stroke-width="0.8"/>
<text x="22.4" y="92.6" font-size="10.0" text-anchor="end">0</text>
<line x1="23.4" y1="115.2" x2="25.0" y2="115.2" stroke="#a8a8a8" stroke-width="0.8"/>
<text x="22.4" y="118.6" font-size="10.0" text-anchor="end">−10</text>
<line x1="23.4" y1="141.1" x2="25.0" y2="141.1" stroke="#a8a8a8" stroke-width="0.8"/>
<text x="22.4" y="144.5" font-size="10.0" text-anchor="end">−20</text>
<text x="125.8" y="8.3" font-size="11.8" text-anchor="middle">PCA</text>
<rect x="180.9" y="15.3" width="40.3" height="30.6" rx="2" fill="#fff" fill-opacity="0.8" stroke="#e4e4e4" stroke-width="0.8"/>
<circle cx="194.7" cy="23.5" r="1.2" fill="#1f77b4"/>
<circle cx="194.7" cy="37.2" r="1.2" fill="#ff7f0e"/>
<text x="214.5" y="26.9" font-size="10.0" text-anchor="middle">1</text>
<text x="214.5" y="40.6" font-size="10.0" text-anchor="middle">2</text>
<clipPath id="c1"><rect x="254.5" y="10.5" width="201.0" height="139.0"/></clipPath>
<g clip-path="url(#c1)">
<path d="M334.2 42.2m-1.40 0a1.40 1.40 0 1 0 2.80 0a1.40 1.40 0 1 0 -2.80 0M336.0 41.6m-1.40 0a1.40 1.40 0 1 0 2.80 0a1.40 1.40 0 1 0 -2.80 0M335.3 43.9m-1.40 0a1.40 1.40 0 1 0 2.80 0a1.40 1.40 0 1 0 -2.80 0M336.2 47.1m-1.40 0a1.40 1.40 0 1 0 2.80 0a1.40 1.40 0 1 0 -2.80 0M336.9 48.8m-1.40 0a1.40 1.40 0 1 0 2.80 0a1.40 1.40 0 1 0 -2.80 0M337.5 50.8m-1.40 0a1.40 1.40 0 1 0 2.80 0a1.40 1.40 0 1 0 -2.80 0M336.9 52.8m-1.40 0a1.40 1.40 0 1 0 2.80 0a1.40 1.40 0 1 0 -2.80 0M335.8 59.8m-1.40 0a1.40 1.40 0 1 0 2.80 0a1.40 1.40 0 1 0 -2.80 0M336.5 62.1m-1.40 0a1.40 1.40 0 1 0 2.80 0a1.40 1.40 0 1 0 -2.80 0M337.7 63.7m-1.40 0a1.40 1.40 0 1 0 2.80 0a1.40 1.40 0 1 0 -2.80 0M338.8 66.3m-1.40 0a1.40 1.40 0 1 0 2.80 0a1.40 1.40 0 1 0 -2.80 0M340.0 68.5m-1.40 0a1.40 1.40 0 1 0 2.80 0a1.40 1.40 0 1 0 -2.80 0M341.2 63.1m-1.40 0a1.40 1.40 0 1 0 2.80 0a1.40 1.40 0 1 0 -2.80 0M344.0 62.3m-1.40 0a1.40 1.40 0 1 0 2.80 0a1.40 1.40 0 1 0 -2.80 0M348.1 57.4m-1.40 0a1.40 1.40 0 1 0 2.80 0a1.40 1.40 0 1 0 -2.80 0M348.9 58.8m-1.40 0a1.40 1.40 0 1 0 2.80 0a1.40 1.40 0 1 0 -2.80 0M351.5 57.6m-1.40 0a1.40 1.40 0 1 0 2.80 0a1.40 1.40 0 1 0 -2.80 0M353.6 59.3m-1.40 0a1.40 1.40 0 1 0 2.80 0a1.40 1.40 0 1 0 -2.80 0M264.6 72.4m-1.40 0a1.40 1.40 0 1 0 2.80 0a1.40 1.40 0 1 0 -2.80 0M271.2 66.2m-1.40 0a1.40 1.40 0 1 0 2.80 0a1.40 1.40 0 1 0 -2.80 0M271.7 69.0m-1.40 0a1.40 1.40 0 1 0 2.80 0a1.40 1.40 0 1 0 -2.80 0M272.3 71.4m-1.40 0a1.40 1.40 0 1 0 2.80 0a1.40 1.40 0 1 0 -2.80 0M275.0 65.5m-1.40 0a1.40 1.40 0 1 0 2.80 0a1.40 1.40 0 1 0 -2.80 0M276.1 65.2m-1.40 0a1.40 1.40 0 1 0 2.80 0a1.40 1.40 0 1 0 -2.80 0M276.4 68.2m-1.40 0a1.40 1.40 0 1 0 2.80 0a1.40 1.40 0 1 0 -2.80 0M278.3 69.8m-1.40 0a1.40 1.40 0 1 0 2.80 0a1.40 1.40 0 1 0 -2.80 0M279.1 70.4m-1.40 0a1.40 1.40 0 1 0 2.80 0a1.40 1.40 0 1 0 -2.80 0M281.6 70.7m-1.40 0a1.40 1.40 0 1 0 2.80 0a1.40 1.40 0 1 0 -2.80 0M282.8 71.2m-1.40 0a1.40 1.40 0 1 0 2.80 0a1.40 1.40 0 1 0 -2.80 0M283.9 59.7m-1.40 0a1.40 1.40 0 1 0 2.80 0a1.40 1.40 0 1 0 -2.80 0M285.7 61.5m-1.40 0a1.40 1.40 0 1 0 2.80 0a1.40 1.40 0 1 0 -2.80 0M286.8 61.5m-1.40 0a1.40 1.40 0 1 0 2.80 0a1.40 1.40 0 1 0 -2.80 0M288.7 63.2m-1.40 0a1.40 1.40 0 1 0 2.80 0a1.40 1.40 0 1 0 -2.80 0M289.1 58.4m-1.40 0a1.40 1.40 0 1 0 2.80 0a1.40 1.40 0 1 0 -2.80 0M290.8 60.5m-1.40 0a1.40 1.40 0 1 0 2.80 0a1.40 1.40 0 1 0 -2.80 0M289.1 66.3m-1.40 0a1.40 1.40 0 1 0 2.80 0a1.40 1.40 0 1 0 -2.80 0M288.7 69.3m-1.40 0a1.40 1.40 0 1 0 2.80 0a1.40 1.40 0 1 0 -2.80 0M291.7 66.8m-1.40 0a1.40 1.40 0 1 0 2.80 0a1.40 1.40 0 1 0 -2.80 0M292.5 67.4m-1.40 0a1.40 1.40 0 1 0 2.80 0a1.40 1.40 0 1 0 -2.80 0M293.1 69.6m-1.40 0a1.40 1.40 0 1 0 2.80 0a1.40 1.40 0 1 0 -2.80 0M295.5 66.2m-1.40 0a1.40 1.40 0 1 0 2.80 0a1.40 1.40 0 1 0 -2.80 0M295.9 64.2m-1.40 0a1.40 1.40 0 1 0 2.80 0a1.40 1.40 0 1 0 -2.80 0M297.8 62.0m-1.40 0a1.40 1.40 0 1 0 2.80 0a1.40 1.40 0 1 0 -2.80 0M296.9 58.4m-1.40 0a1.40 1.40 0 1 0 2.80 0a1.40 1.40 0 1 0 -2.80 0M299.0 57.3m-1.40 0a1.40 1.40 0 1 0 2.80 0a1.40 1.40 0 1 0 -2.80 0M299.8 56.4m-1.40 0a1.40 1.40 0 1 0 2.80 0a1.40 1.40 0 1 0 -2.80 0M301.1 55.2m-1.40 0a1.40 1.40 0 1 0 2.80 0a1.40 1.40 0 1 0 -2.80 0M303.4 54.7m-1.40 0a1.40 1.40 0 1 0 2.80 0a1.40 1.40 0 1 0 -2.80 0M304.3 53.2m-1.40 0a1.40 1.40 0 1 0 2.80 0a1.40 1.40 0 1 0 -2.80 0M306.3 52.4m-1.40 0a1.40 1.40 0 1 0 2.80 0a1.40 1.40 0 1 0 -2.80 0M307.9 51.6m-1.40 0a1.40 1.40 0 1 0 2.80 0a1.40 1.40 0 1 0 -2.80 0M311.1 51.6m-1.40 0a1.40 1.40 0 1 0 2.80 0a1.40 1.40 0 1 0 -2.80 0M309.7 57.2m-1.40 0a1.40 1.40 0 1 0 2.80 0a1.40 1.40 0 1 0 -2.80 0M310.9 59.5m-1.40 0a1.40 1.40 0 1 0 2.80 0a1.40 1.40 0 1 0 -2.80 0M312.1 62.2m-1.40 0a1.40 1.40 0 1 0 2.80 0a1.40 1.40 0 1 0 -2.80 0M312.4 63.9m-1.40 0a1.40 1.40 0 1 0 2.80 0a1.40 1.40 0 1 0 -2.80 0M313.5 65.8m-1.40 0a1.40 1.40 0 1 0 2.80 0a1.40 1.40 0 1 0 -2.80 0M315.8 68.1m-1.40 0a1.40 1.40 0 1 0 2.80 0a1.40 1.40 0 1 0 -2.80 0M316.5 71.0m-1.40 0a1.40 1.40 0 1 0 2.80 0a1.40 1.40 0 1 0 -2.80 0M315.3 73.5m-1.40 0a1.40 1.40 0 1 0 2.80 0a1.40 1.40 0 1 0 -2.80 0M314.5 74.9m-1.40 0a1.40 1.40 0 1 0 2.80 0a1.40 1.40 0 1 0 -2.80 0M301.0 61.9m-1.40 0a1.40 1.40 0 1 0 2.80 0a1.40 1.40 0 1 0 -2.80 0M302.2 64.1m-1.40 0a1.40 1.40 0 1 0 2.80 0a1.40 1.40 0 1 0 -2.80 0M303.8 67.2m-1.40 0a1.40 1.40 0 1 0 2.80 0a1.40 1.40 0 1 0 -2.80 0M304.8 69.3m-1.40 0a1.40 1.40 0 1 0 2.80 0a1.40 1.40 0 1 0 -2.80 0M307.0 70.6m-1.40 0a1.40 1.40 0 1 0 2.80 0a1.40 1.40 0 1 0 -2.80 0M307.6 68.3m-1.40 0a1.40 1.40 0 1 0 2.80 0a1.40 1.40 0 1 0 -2.80 0M308.8 65.6m-1.40 0a1.40 1.40 0 1 0 2.80 0a1.40 1.40 0 1 0 -2.80 0M306.5 64.7m-1.40 0a1.40 1.40 0 1 0 2.80 0a1.40 1.40 0 1 0 -2.80 0M304.3 61.9m-1.40 0a1.40 1.40 0 1 0 2.80 0a1.40 1.40 0 1 0 -2.80 0M299.1 66.5m-1.40 0a1.40 1.40 0 1 0 2.80 0a1.40 1.40 0 1 0 -2.80 0M298.5 69.1m-1.40 0a1.40 1.40 0 1 0 2.80 0a1.40 1.40 0 1 0 -2.80 0M296.4 71.6m-1.40 0a1.40 1.40 0 1 0 2.80 0a1.40 1.40 0 1 0 -2.80 0M294.9 73.7m-1.40 0a1.40 1.40 0 1 0 2.80 0a1.40 1.40 0 1 0 -2.80 0M299.3 72.8m-1.40 0a1.40 1.40 0 1 0 2.80 0a1.40 1.40 0 1 0 -2.80 0M302.4 72.9m-1.40 0a1.40 1.40 0 1 0 2.80 0a1.40 1.40 0 1 0 -2.80 0M303.5 75.6m-1.40 0a1.40 1.40 0 1 0 2.80 0a1.40 1.40 0 1 0 -2.80 0M306.3 76.0m-1.40 0a1.40 1.40 0 1 0 2.80 0a1.40 1.40 0 1 0 -2.80 0M307.9 75.3m-1.40 0a1.40 1.40 0 1 0 2.80 0a1.40 1.40 0 1 0 -2.80 0M310.7 73.0m-1.40 0a1.40 1.40 0 1 0 2.80 0a1.40 1.40 0 1 0 -2.80 0M312.1 70.3m-1.40 0a1.40 1.40 0 1 0 2.80 0a1.40 1.40 0 1 0 -2.80 0M310.4 68.4m-1.40 0a1.40 1.40 0 1 0 2.80 0a1.40 1.40 0 1 0 -2.80 0M294.5 61.8m-1.40 0a1.40 1.40 0 1 0 2.80 0a1.40 1.40 0 1 0 -2.80 0M293.0 64.3m-1.40 0a1.40 1.40 0 1 0 2.80 0a1.40 1.40 0 1 0 -2.80 0M321.6 58.2m-1.40 0a1.40 1.40 0 1 0 2.80 0a1.40 1.40 0 1 0 -2.80 0M322.8 57.5m-1.40 0a1.40 1.40 0 1 0 2.80 0a1.40 1.40 0 1 0 -2.80 0M324.6 59.4m-1.40 0a1.40 1.40 0 1 0 2.80 0a1.40 1.40 0 1 0 -2.80 0M325.6 61.5m-1.40 0a1.40 1.40 0 1 0 2.80 0a1.40 1.40 0 1 0 -2.80 0M327.1 63.0m-1.40 0a1.40 1.40 0 1 0 2.80 0a1.40 1.40 0 1 0 -2.80 0M328.4 64.6m-1.40 0a1.40 1.40 0 1 0 2.80 0a1.40 1.40 0 1 0 -2.80 0M328.7 67.4m-1.40 0a1.40 1.40 0 1 0 2.80 0a1.40 1.40 0 1 0 -2.80 0M330.3 69.5m-1.40 0a1.40 1.40 0 1 0 2.80 0a1.40 1.40 0 1 0 -2.80 0M330.0 72.9m-1.40 0a1.40 1.40 0 1 0 2.80 0a1.40 1.40 0 1 0 -2.80 0M332.0 74.7m-1.40 0a1.40 1.40 0 1 0 2.80 0a1.40 1.40 0 1 0 -2.80 0M332.2 77.0m-1.40 0a1.40 1.40 0 1 0 2.80 0a1.40 1.40 0 1 0 -2.80 0M325.6 70.0m-1.40 0a1.40 1.40 0 1 0 2.80 0a1.40 1.40 0 1 0 -2.80 0M326.5 72.6m-1.40 0a1.40 1.40 0 1 0 2.80 0a1.40 1.40 0 1 0 -2.80 0M326.8 75.5m-1.40 0a1.40 1.40 0 1 0 2.80 0a1.40 1.40 0 1 0 -2.80 0M323.6 75.7m-1.40 0a1.40 1.40 0 1 0 2.80 0a1.40 1.40 0 1 0 -2.80 0M323.6 78.0m-1.40 0a1.40 1.40 0 1 0 2.80 0a1.40 1.40 0 1 0 -2.80 0M329.9 78.1m-1.40 0a1.40 1.40 0 1 0 2.80 0a1.40 1.40 0 1 0 -2.80 0M324.8 66.9m-1.40 0a1.40 1.40 0 1 0 2.80 0a1.40 1.40 0 1 0 -2.80 0M327.2 67.3m-1.40 0a1.40 1.40 0 1 0 2.80 0a1.40 1.40 0 1 0 -2.80 0M279.5 76.2m-1.40 0a1.40 1.40 0 1 0 2.80 0a1.40 1.40 0 1 0 -2.80 0M280.3 75.5m-1.40 0a1.40 1.40 0 1 0 2.80 0a1.40 1.40 0 1 0 -2.80 0M282.4 74.2m-1.40 0a1.40 1.40 0 1 0 2.80 0a1.40 1.40 0 1 0 -2.80 0M283.8 74.2m-1.40 0a1.40 1.40 0 1 0 2.80 0a1.40 1.40 0 1 0 -2.80 0M290.4 78.0m-1.40 0a1.40 1.40 0 1 0 2.80 0a1.40 1.40 0 1 0 -2.80 0M292.3 76.7m-1.40 0a1.40 1.40 0 1 0 2.80 0a1.40 1.40 0 1 0 -2.80 0M293.2 77.3m-1.40 0a1.40 1.40 0 1 0 2.80 0a1.40 1.40 0 1 0 -2.80 0M372.4 23.6m-1.40 0a1.40 1.40 0 1 0 2.80 0a1.40 1.40 0 1 0 -2.80 0M377.1 21.5m-1.40 0a1.40 1.40 0 1 0 2.80 0a1.40 1.40 0 1 0 -2.80 0M379.5 20.8m-1.40 0a1.40 1.40 0 1 0 2.80 0a1.40 1.40 0 1 0 -2.80 0M380.5 19.3m-1.40 0a1.40 1.40 0 1 0 2.80 0a1.40 1.40 0 1 0 -2.80 0M382.1 20.5m-1.40 0a1.40 1.40 0 1 0 2.80 0a1.40 1.40 0 1 0 -2.80 0M391.4 16.0m-1.40 0a1.40 1.40 0 1 0 2.80 0a1.40 1.40 0 1 0 -2.80 0M355.6 53.5m-1.40 0a1.40 1.40 0 1 0 2.80 0a1.40 1.40 0 1 0 -2.80 0M354.3 58.4m-1.40 0a1.40 1.40 0 1 0 2.80 0a1.40 1.40 0 1 0 -2.80 0M370.6 77.3m-1.40 0a1.40 1.40 0 1 0 2.80 0a1.40 1.40 0 1 0 -2.80 0M270.3 81.5m-1.40 0a1.40 1.40 0 1 0 2.80 0a1.40 1.40 0 1 0 -2.80 0M272.3 79.8m-1.40 0a1.40 1.40 0 1 0 2.80 0a1.40 1.40 0 1 0 -2.80 0M273.5 81.0m-1.40 0a1.40 1.40 0 1 0 2.80 0a1.40 1.40 0 1 0 -2.80 0M274.1 82.1m-1.40 0a1.40 1.40 0 1 0 2.80 0a1.40 1.40 0 1 0 -2.80 0M279.8 81.0m-1.40 0a1.40 1.40 0 1 0 2.80 0a1.40 1.40 0 1 0 -2.80 0M269.1 89.6m-1.40 0a1.40 1.40 0 1 0 2.80 0a1.40 1.40 0 1 0 -2.80 0M271.0 90.6m-1.40 0a1.40 1.40 0 1 0 2.80 0a1.40 1.40 0 1 0 -2.80 0M271.6 90.7m-1.40 0a1.40 1.40 0 1 0 2.80 0a1.40 1.40 0 1 0 -2.80 0M270.8 93.5m-1.40 0a1.40 1.40 0 1 0 2.80 0a1.40 1.40 0 1 0 -2.80 0M264.7 94.5m-1.40 0a1.40 1.40 0 1 0 2.80 0a1.40 1.40 0 1 0 -2.80 0M264.1 96.7m-1.40 0a1.40 1.40 0 1 0 2.80 0a1.40 1.40 0 1 0 -2.80 0M263.6 97.2m-1.40 0a1.40 1.40 0 1 0 2.80 0a1.40 1.40 0 1 0 -2.80 0M266.0 95.9m-1.40 0a1.40 1.40 0 1 0 2.80 0a1.40 1.40 0 1 0 -2.80 0M267.4 94.8m-1.40 0a1.40 1.40 0 1 0 2.80 0a1.40 1.40 0 1 0 -2.80 0M268.9 94.8m-1.40 0a1.40 1.40 0 1 0 2.80 0a1.40 1.40 0 1 0 -2.80 0M276.5 92.7m-1.40 0a1.40 1.40 0 1 0 2.80 0a1.40 1.40 0 1 0 -2.80 0M276.5 94.6m-1.40 0a1.40 1.40 0 1 0 2.80 0a1.40 1.40 0 1 0 -2.80 0M278.2 96.3m-1.40 0a1.40 1.40 0 1 0 2.80 0a1.40 1.40 0 1 0 -2.80 0M279.8 97.3m-1.40 0a1.40 1.40 0 1 0 2.80 0a1.40 1.40 0 1 0 -2.80 0M281.0 93.3m-1.40 0a1.40 1.40 0 1 0 2.80 0a1.40 1.40 0 1 0 -2.80 0M282.5 95.5m-1.40 0a1.40 1.40 0 1 0 2.80 0a1.40 1.40 0 1 0 -2.80 0M282.8 95.8m-1.40 0a1.40 1.40 0 1 0 2.80 0a1.40 1.40 0 1 0 -2.80 0M284.2 97.5m-1.40 0a1.40 1.40 0 1 0 2.80 0a1.40 1.40 0 1 0 -2.80 0M285.0 98.4m-1.40 0a1.40 1.40 0 1 0 2.80 0a1.40 1.40 0 1 0 -2.80 0M286.9 96.2m-1.40 0a1.40 1.40 0 1 0 2.80 0a1.40 1.40 0 1 0 -2.80 0M288.4 95.8m-1.40 0a1.40 1.40 0 1 0 2.80 0a1.40 1.40 0 1 0 -2.80 0M288.9 94.1m-1.40 0a1.40 1.40 0 1 0 2.80 0a1.40 1.40 0 1 0 -2.80 0M290.2 93.0m-1.40 0a1.40 1.40 0 1 0 2.80 0a1.40 1.40 0 1 0 -2.80 0M292.0 95.0m-1.40 0a1.40 1.40 0 1 0 2.80 0a1.40 1.40 0 1 0 -2.80 0M292.9 95.7m-1.40 0a1.40 1.40 0 1 0 2.80 0a1.40 1.40 0 1 0 -2.80 0M291.0 97.8m-1.40 0a1.40 1.40 0 1 0 2.80 0a1.40 1.40 0 1 0 -2.80 0M289.0 98.7m-1.40 0a1.40 1.40 0 1 0 2.80 0a1.40 1.40 0 1 0 -2.80 0M288.7 100.5m-1.40 0a1.40 1.40 0 1 0 2.80 0a1.40 1.40 0 1 0 -2.80 0M295.8 96.8m-1.40 0a1.40 1.40 0 1 0 2.80 0a1.40 1.40 0 1 0 -2.80 0M297.7 95.5m-1.40 0a1.40 1.40 0 1 0 2.80 0a1.40 1.40 0 1 0 -2.80 0M299.5 95.0m-1.40 0a1.40 1.40 0 1 0 2.80 0a1.40 1.40 0 1 0 -2.80 0M301.1 95.7m-1.40 0a1.40 1.40 0 1 0 2.80 0a1.40 1.40 0 1 0 -2.80 0M302.0 97.6m-1.40 0a1.40 1.40 0 1 0 2.80 0a1.40 1.40 0 1 0 -2.80 0M303.8 95.4m-1.40 0a1.40 1.40 0 1 0 2.80 0a1.40 1.40 0 1 0 -2.80 0M298.0 91.1m-1.40 0a1.40 1.40 0 1 0 2.80 0a1.40 1.40 0 1 0 -2.80 0M299.3 90.2m-1.40 0a1.40 1.40 0 1 0 2.80 0a1.40 1.40 0 1 0 -2.80 0M301.5 88.2m-1.40 0a1.40 1.40 0 1 0 2.80 0a1.40 1.40 0 1 0 -2.80 0M302.5 87.8m-1.40 0a1.40 1.40 0 1 0 2.80 0a1.40 1.40 0 1 0 -2.80 0M303.2 90.3m-1.40 0a1.40 1.40 0 1 0 2.80 0a1.40 1.40 0 1 0 -2.80 0M298.4 85.0m-1.40 0a1.40 1.40 0 1 0 2.80 0a1.40 1.40 0 1 0 -2.80 0M300.2 82.9m-1.40 0a1.40 1.40 0 1 0 2.80 0a1.40 1.40 0 1 0 -2.80 0M297.2 79.7m-1.40 0a1.40 1.40 0 1 0 2.80 0a1.40 1.40 0 1 0 -2.80 0M268.9 99.2m-1.40 0a1.40 1.40 0 1 0 2.80 0a1.40 1.40 0 1 0 -2.80 0M266.8 101.8m-1.40 0a1.40 1.40 0 1 0 2.80 0a1.40 1.40 0 1 0 -2.80 0M265.8 104.2m-1.40 0a1.40 1.40 0 1 0 2.80 0a1.40 1.40 0 1 0 -2.80 0M267.6 105.5m-1.40 0a1.40 1.40 0 1 0 2.80 0a1.40 1.40 0 1 0 -2.80 0M269.8 106.0m-1.40 0a1.40 1.40 0 1 0 2.80 0a1.40 1.40 0 1 0 -2.80 0M271.0 108.3m-1.40 0a1.40 1.40 0 1 0 2.80 0a1.40 1.40 0 1 0 -2.80 0M273.6 108.5m-1.40 0a1.40 1.40 0 1 0 2.80 0a1.40 1.40 0 1 0 -2.80 0M275.1 109.5m-1.40 0a1.40 1.40 0 1 0 2.80 0a1.40 1.40 0 1 0 -2.80 0M272.0 111.9m-1.40 0a1.40 1.40 0 1 0 2.80 0a1.40 1.40 0 1 0 -2.80 0M271.3 112.9m-1.40 0a1.40 1.40 0 1 0 2.80 0a1.40 1.40 0 1 0 -2.80 0M274.0 114.0m-1.40 0a1.40 1.40 0 1 0 2.80 0a1.40 1.40 0 1 0 -2.80 0M276.4 113.2m-1.40 0a1.40 1.40 0 1 0 2.80 0a1.40 1.40 0 1 0 -2.80 0M275.1 103.2m-1.40 0a1.40 1.40 0 1 0 2.80 0a1.40 1.40 0 1 0 -2.80 0M277.1 104.7m-1.40 0a1.40 1.40 0 1 0 2.80 0a1.40 1.40 0 1 0 -2.80 0M278.7 101.4m-1.40 0a1.40 1.40 0 1 0 2.80 0a1.40 1.40 0 1 0 -2.80 0M279.9 103.0m-1.40 0a1.40 1.40 0 1 0 2.80 0a1.40 1.40 0 1 0 -2.80 0M279.8 104.3m-1.40 0a1.40 1.40 0 1 0 2.80 0a1.40 1.40 0 1 0 -2.80 0M281.7 106.9m-1.40 0a1.40 1.40 0 1 0 2.80 0a1.40 1.40 0 1 0 -2.80 0M282.5 107.7m-1.40 0a1.40 1.40 0 1 0 2.80 0a1.40 1.40 0 1 0 -2.80 0M283.6 110.1m-1.40 0a1.40 1.40 0 1 0 2.80 0a1.40 1.40 0 1 0 -2.80 0M282.3 111.5m-1.40 0a1.40 1.40 0 1 0 2.80 0a1.40 1.40 0 1 0 -2.80 0M279.4 113.1m-1.40 0a1.40 1.40 0 1 0 2.80 0a1.40 1.40 0 1 0 -2.80 0M278.2 114.0m-1.40 0a1.40 1.40 0 1 0 2.80 0a1.40 1.40 0 1 0 -2.80 0M284.1 104.4m-1.40 0a1.40 1.40 0 1 0 2.80 0a1.40 1.40 0 1 0 -2.80 0M285.5 104.8m-1.40 0a1.40 1.40 0 1 0 2.80 0a1.40 1.40 0 1 0 -2.80 0M287.7 107.1m-1.40 0a1.40 1.40 0 1 0 2.80 0a1.40 1.40 0 1 0 -2.80 0M289.5 105.4m-1.40 0a1.40 1.40 0 1 0 2.80 0a1.40 1.40 0 1 0 -2.80 0M290.5 103.6m-1.40 0a1.40 1.40 0 1 0 2.80 0a1.40 1.40 0 1 0 -2.80 0M291.7 105.4m-1.40 0a1.40 1.40 0 1 0 2.80 0a1.40 1.40 0 1 0 -2.80 0M292.9 107.6m-1.40 0a1.40 1.40 0 1 0 2.80 0a1.40 1.40 0 1 0 -2.80 0M294.7 108.9m-1.40 0a1.40 1.40 0 1 0 2.80 0a1.40 1.40 0 1 0 -2.80 0M295.4 110.5m-1.40 0a1.40 1.40 0 1 0 2.80 0a1.40 1.40 0 1 0 -2.80 0M296.8 112.0m-1.40 0a1.40 1.40 0 1 0 2.80 0a1.40 1.40 0 1 0 -2.80 0M299.0 110.3m-1.40 0a1.40 1.40 0 1 0 2.80 0a1.40 1.40 0 1 0 -2.80 0M301.4 108.5m-1.40 0a1.40 1.40 0 1 0 2.80 0a1.40 1.40 0 1 0 -2.80 0M302.1 112.1m-1.40 0a1.40 1.40 0 1 0 2.80 0a1.40 1.40 0 1 0 -2.80 0M302.9 113.9m-1.40 0a1.40 1.40 0 1 0 2.80 0a1.40 1.40 0 1 0 -2.80 0M299.3 113.7m-1.40 0a1.40 1.40 0 1 0 2.80 0a1.40 1.40 0 1 0 -2.80 0M292.2 112.0m-1.40 0a1.40 1.40 0 1 0 2.80 0a1.40 1.40 0 1 0 -2.80 0M290.0 113.8m-1.40 0a1.40 1.40 0 1 0 2.80 0a1.40 1.40 0 1 0 -2.80 0M288.6 114.9m-1.40 0a1.40 1.40 0 1 0 2.80 0a1.40 1.40 0 1 0 -2.80 0M297.5 106.5m-1.40 0a1.40 1.40 0 1 0 2.80 0a1.40 1.40 0 1 0 -2.80 0M299.9 105.2m-1.40 0a1.40 1.40 0 1 0 2.80 0a1.40 1.40 0 1 0 -2.80 0M301.1 102.9m-1.40 0a1.40 1.40 0 1 0 2.80 0a1.40 1.40 0 1 0 -2.80 0M301.7 101.0m-1.40 0a1.40 1.40 0 1 0 2.80 0a1.40 1.40 0 1 0 -2.80 0M303.2 103.9m-1.40 0a1.40 1.40 0 1 0 2.80 0a1.40 1.40 0 1 0 -2.80 0M289.1 108.3m-1.40 0a1.40 1.40 0 1 0 2.80 0a1.40 1.40 0 1 0 -2.80 0M289.9 109.9m-1.40 0a1.40 1.40 0 1 0 2.80 0a1.40 1.40 0 1 0 -2.80 0M287.3 108.5m-1.40 0a1.40 1.40 0 1 0 2.80 0a1.40 1.40 0 1 0 -2.80 0M296.8 100.0m-1.40 0a1.40 1.40 0 1 0 2.80 0a1.40 1.40 0 1 0 -2.80 0M298.0 101.1m-1.40 0a1.40 1.40 0 1 0 2.80 0a1.40 1.40 0 1 0 -2.80 0M276.8 98.9m-1.40 0a1.40 1.40 0 1 0 2.80 0a1.40 1.40 0 1 0 -2.80 0M273.9 100.3m-1.40 0a1.40 1.40 0 1 0 2.80 0a1.40 1.40 0 1 0 -2.80 0M320.2 103.7m-1.40 0a1.40 1.40 0 1 0 2.80 0a1.40 1.40 0 1 0 -2.80 0M320.4 113.9m-1.40 0a1.40 1.40 0 1 0 2.80 0a1.40 1.40 0 1 0 -2.80 0M327.9 78.7m-1.40 0a1.40 1.40 0 1 0 2.80 0a1.40 1.40 0 1 0 -2.80 0M308.3 113.7m-1.40 0a1.40 1.40 0 1 0 2.80 0a1.40 1.40 0 1 0 -2.80 0M311.7 76.0m-1.40 0a1.40 1.40 0 1 0 2.80 0a1.40 1.40 0 1 0 -2.80 0M312.5 94.2m-1.40 0a1.40 1.40 0 1 0 2.80 0a1.40 1.40 0 1 0 -2.80 0M335.8 91.0m-1.40 0a1.40 1.40 0 1 0 2.80 0a1.40 1.40 0 1 0 -2.80 0M328.1 108.4m-1.40 0a1.40 1.40 0 1 0 2.80 0a1.40 1.40 0 1 0 -2.80 0M307.0 99.5m-1.40 0a1.40 1.40 0 1 0 2.80 0a1.40 1.40 0 1 0 -2.80 0M321.8 88.9m-1.40 0a1.40 1.40 0 1 0 2.80 0a1.40 1.40 0 1 0 -2.80 0M307.4 97.1m-1.40 0a1.40 1.40 0 1 0 2.80 0a1.40 1.40 0 1 0 -2.80 0M318.0 101.9m-1.40 0a1.40 1.40 0 1 0 2.80 0a1.40 1.40 0 1 0 -2.80 0M308.0 85.6m-1.40 0a1.40 1.40 0 1 0 2.80 0a1.40 1.40 0 1 0 -2.80 0M313.3 94.2m-1.40 0a1.40 1.40 0 1 0 2.80 0a1.40 1.40 0 1 0 -2.80 0M330.5 109.4m-1.40 0a1.40 1.40 0 1 0 2.80 0a1.40 1.40 0 1 0 -2.80 0M330.2 102.1m-1.40 0a1.40 1.40 0 1 0 2.80 0a1.40 1.40 0 1 0 -2.80 0M306.9 90.6m-1.40 0a1.40 1.40 0 1 0 2.80 0a1.40 1.40 0 1 0 -2.80 0M326.3 86.8m-1.40 0a1.40 1.40 0 1 0 2.80 0a1.40 1.40 0 1 0 -2.80 0M320.9 111.2m-1.40 0a1.40 1.40 0 1 0 2.80 0a1.40 1.40 0 1 0 -2.80 0M307.9 109.2m-1.40 0a1.40 1.40 0 1 0 2.80 0a1.40 1.40 0 1 0 -2.80 0M307.5 90.5m-1.40 0a1.40 1.40 0 1 0 2.80 0a1.40 1.40 0 1 0 -2.80 0M334.2 83.1m-1.40 0a1.40 1.40 0 1 0 2.80 0a1.40 1.40 0 1 0 -2.80 0M321.4 91.7m-1.40 0a1.40 1.40 0 1 0 2.80 0a1.40 1.40 0 1 0 -2.80 0M313.6 94.7m-1.40 0a1.40 1.40 0 1 0 2.80 0a1.40 1.40 0 1 0 -2.80 0M333.9 96.8m-1.40 0a1.40 1.40 0 1 0 2.80 0a1.40 1.40 0 1 0 -2.80 0M311.2 105.4m-1.40 0a1.40 1.40 0 1 0 2.80 0a1.40 1.40 0 1 0 -2.80 0M315.2 94.5m-1.40 0a1.40 1.40 0 1 0 2.80 0a1.40 1.40 0 1 0 -2.80 0M304.3 114.6m-1.40 0a1.40 1.40 0 1 0 2.80 0a1.40 1.40 0 1 0 -2.80 0M325.9 112.1m-1.40 0a1.40 1.40 0 1 0 2.80 0a1.40 1.40 0 1 0 -2.80 0M336.3 85.7m-1.40 0a1.40 1.40 0 1 0 2.80 0a1.40 1.40 0 1 0 -2.80 0M322.0 92.6m-1.40 0a1.40 1.40 0 1 0 2.80 0a1.40 1.40 0 1 0 -2.80 0M329.4 108.7m-1.40 0a1.40 1.40 0 1 0 2.80 0a1.40 1.40 0 1 0 -2.80 0M311.6 86.0m-1.40 0a1.40 1.40 0 1 0 2.80 0a1.40 1.40 0 1 0 -2.80 0M327.6 91.5m-1.40 0a1.40 1.40 0 1 0 2.80 0a1.40 1.40 0 1 0 -2.80 0M308.3 82.8m-1.40 0a1.40 1.40 0 1 0 2.80 0a1.40 1.40 0 1 0 -2.80 0M322.7 99.0m-1.40 0a1.40 1.40 0 1 0 2.80 0a1.40 1.40 0 1 0 -2.80 0M336.0 96.3m-1.40 0a1.40 1.40 0 1 0 2.80 0a1.40 1.40 0 1 0 -2.80 0M324.3 81.0m-1.40 0a1.40 1.40 0 1 0 2.80 0a1.40 1.40 0 1 0 -2.80 0M317.8 86.2m-1.40 0a1.40 1.40 0 1 0 2.80 0a1.40 1.40 0 1 0 -2.80 0M327.2 85.7m-1.40 0a1.40 1.40 0 1 0 2.80 0a1.40 1.40 0 1 0 -2.80 0M311.2 89.7m-1.40 0a1.40 1.40 0 1 0 2.80 0a1.40 1.40 0 1 0 -2.80 0M319.7 88.6m-1.40 0a1.40 1.40 0 1 0 2.80 0a1.40 1.40 0 1 0 -2.80 0M324.2 82.3m-1.40 0a1.40 1.40 0 1 0 2.80 0a1.40 1.40 0 1 0 -2.80 0M333.4 102.8m-1.40 0a1.40 1.40 0 1 0 2.80 0a1.40 1.40 0 1 0 -2.80 0M321.8 77.3m-1.40 0a1.40 1.40 0 1 0 2.80 0a1.40 1.40 0 1 0 -2.80 0M314.9 102.6m-1.40 0a1.40 1.40 0 1 0 2.80 0a1.40 1.40 0 1 0 -2.80 0M325.5 107.5m-1.40 0a1.40 1.40 0 1 0 2.80 0a1.40 1.40 0 1 0 -2.80 0M333.8 87.6m-1.40 0a1.40 1.40 0 1 0 2.80 0a1.40 1.40 0 1 0 -2.80 0M320.5 88.2m-1.40 0a1.40 1.40 0 1 0 2.80 0a1.40 1.40 0 1 0 -2.80 0M308.3 80.6m-1.40 0a1.40 1.40 0 1 0 2.80 0a1.40 1.40 0 1 0 -2.80 0M312.6 78.5m-1.40 0a1.40 1.40 0 1 0 2.80 0a1.40 1.40 0 1 0 -2.80 0M322.0 103.2m-1.40 0a1.40 1.40 0 1 0 2.80 0a1.40 1.40 0 1 0 -2.80 0M322.8 102.4m-1.40 0a1.40 1.40 0 1 0 2.80 0a1.40 1.40 0 1 0 -2.80 0M311.6 83.0m-1.40 0a1.40 1.40 0 1 0 2.80 0a1.40 1.40 0 1 0 -2.80 0M322.9 110.4m-1.40 0a1.40 1.40 0 1 0 2.80 0a1.40 1.40 0 1 0 -2.80 0M318.1 75.2m-1.40 0a1.40 1.40 0 1 0 2.80 0a1.40 1.40 0 1 0 -2.80 0M304.7 87.2m-1.40 0a1.40 1.40 0 1 0 2.80 0a1.40 1.40 0 1 0 -2.80 0M324.5 78.4m-1.40 0a1.40 1.40 0 1 0 2.80 0a1.40 1.40 0 1 0 -2.80 0M311.5 102.3m-1.40 0a1.40 1.40 0 1 0 2.80 0a1.40 1.40 0 1 0 -2.80 0M336.9 88.7m-1.40 0a1.40 1.40 0 1 0 2.80 0a1.40 1.40 0 1 0 -2.80 0M324.1 95.8m-1.40 0a1.40 1.40 0 1 0 2.80 0a1.40 1.40 0 1 0 -2.80 0M304.8 88.2m-1.40 0a1.40 1.40 0 1 0 2.80 0a1.40 1.40 0 1 0 -2.80 0M308.7 85.0m-1.40 0a1.40 1.40 0 1 0 2.80 0a1.40 1.40 0 1 0 -2.80 0M329.7 102.3m-1.40 0a1.40 1.40 0 1 0 2.80 0a1.40 1.40 0 1 0 -2.80 0M305.4 78.1m-1.40 0a1.40 1.40 0 1 0 2.80 0a1.40 1.40 0 1 0 -2.80 0M328.2 79.1m-1.40 0a1.40 1.40 0 1 0 2.80 0a1.40 1.40 0 1 0 -2.80 0M314.6 85.8m-1.40 0a1.40 1.40 0 1 0 2.80 0a1.40 1.40 0 1 0 -2.80 0M305.7 76.2m-1.40 0a1.40 1.40 0 1 0 2.80 0a1.40 1.40 0 1 0 -2.80 0M308.6 91.0m-1.40 0a1.40 1.40 0 1 0 2.80 0a1.40 1.40 0 1 0 -2.80 0M335.2 100.6m-1.40 0a1.40 1.40 0 1 0 2.80 0a1.40 1.40 0 1 0 -2.80 0M312.1 102.2m-1.40 0a1.40 1.40 0 1 0 2.80 0a1.40 1.40 0 1 0 -2.80 0M313.1 95.6m-1.40 0a1.40 1.40 0 1 0 2.80 0a1.40 1.40 0 1 0 -2.80 0M314.7 113.0m-1.40 0a1.40 1.40 0 1 0 2.80 0a1.40 1.40 0 1 0 -2.80 0M315.8 107.2m-1.40 0a1.40 1.40 0 1 0 2.80 0a1.40 1.40 0 1 0 -2.80 0M325.4 108.8m-1.40 0a1.40 1.40 0 1 0 2.80 0a1.40 1.40 0 1 0 -2.80 0M324.2 109.9m-1.40 0a1.40 1.40 0 1 0 2.80 0a1.40 1.40 0 1 0 -2.80 0M317.5 102.2m-1.40 0a1.40 1.40 0 1 0 2.80 0a1.40 1.40 0 1 0 -2.80 0M324.7 96.1m-1.40 0a1.40 1.40 0 1 0 2.80 0a1.40 1.40 0 1 0 -2.80 0M322.8 96.5m-1.40 0a1.40 1.40 0 1 0 2.80 0a1.40 1.40 0 1 0 -2.80 0M317.1 111.0m-1.40 0a1.40 1.40 0 1 0 2.80 0a1.40 1.40 0 1 0 -2.80 0M325.1 97.0m-1.40 0a1.40 1.40 0 1 0 2.80 0a1.40 1.40 0 1 0 -2.80 0M305.8 95.4m-1.40 0a1.40 1.40 0 1 0 2.80 0a1.40 1.40 0 1 0 -2.80 0M309.8 83.6m-1.40 0a1.40 1.40 0 1 0 2.80 0a1.40 1.40 0 1 0 -2.80 0M318.5 96.9m-1.40 0a1.40 1.40 0 1 0 2.80 0a1.40 1.40 0 1 0 -2.80 0M312.4 85.9m-1.40 0a1.40 1.40 0 1 0 2.80 0a1.40 1.40 0 1 0 -2.80 0M321.7 94.0m-1.40 0a1.40 1.40 0 1 0 2.80 0a1.40 1.40 0 1 0 -2.80 0M317.5 79.2m-1.40 0a1.40 1.40 0 1 0 2.80 0a1.40 1.40 0 1 0 -2.80 0M316.5 101.2m-1.40 0a1.40 1.40 0 1 0 2.80 0a1.40 1.40 0 1 0 -2.80 0M322.2 96.8m-1.40 0a1.40 1.40 0 1 0 2.80 0a1.40 1.40 0 1 0 -2.80 0M332.2 104.0m-1.40 0a1.40 1.40 0 1 0 2.80 0a1.40 1.40 0 1 0 -2.80 0M326.8 76.2m-1.40 0a1.40 1.40 0 1 0 2.80 0a1.40 1.40 0 1 0 -2.80 0M314.3 102.3m-1.40 0a1.40 1.40 0 1 0 2.80 0a1.40 1.40 0 1 0 -2.80 0M309.2 111.6m-1.40 0a1.40 1.40 0 1 0 2.80 0a1.40 1.40 0 1 0 -2.80 0M308.7 110.2m-1.40 0a1.40 1.40 0 1 0 2.80 0a1.40 1.40 0 1 0 -2.80 0M311.2 108.7m-1.40 0a1.40 1.40 0 1 0 2.80 0a1.40 1.40 0 1 0 -2.80 0M332.3 88.4m-1.40 0a1.40 1.40 0 1 0 2.80 0a1.40 1.40 0 1 0 -2.80 0M333.7 81.4m-1.40 0a1.40 1.40 0 1 0 2.80 0a1.40 1.40 0 1 0 -2.80 0M332.3 90.3m-1.40 0a1.40 1.40 0 1 0 2.80 0a1.40 1.40 0 1 0 -2.80 0M318.7 79.7m-1.40 0a1.40 1.40 0 1 0 2.80 0a1.40 1.40 0 1 0 -2.80 0M324.1 85.8m-1.40 0a1.40 1.40 0 1 0 2.80 0a1.40 1.40 0 1 0 -2.80 0M326.3 107.0m-1.40 0a1.40 1.40 0 1 0 2.80 0a1.40 1.40 0 1 0 -2.80 0M324.1 75.3m-1.40 0a1.40 1.40 0 1 0 2.80 0a1.40 1.40 0 1 0 -2.80 0M325.5 90.2m-1.40 0a1.40 1.40 0 1 0 2.80 0a1.40 1.40 0 1 0 -2.80 0M322.8 110.4m-1.40 0a1.40 1.40 0 1 0 2.80 0a1.40 1.40 0 1 0 -2.80 0M319.3 106.2m-1.40 0a1.40 1.40 0 1 0 2.80 0a1.40 1.40 0 1 0 -2.80 0M324.0 91.9m-1.40 0a1.40 1.40 0 1 0 2.80 0a1.40 1.40 0 1 0 -2.80 0M335.2 91.4m-1.40 0a1.40 1.40 0 1 0 2.80 0a1.40 1.40 0 1 0 -2.80 0M324.2 77.1m-1.40 0a1.40 1.40 0 1 0 2.80 0a1.40 1.40 0 1 0 -2.80 0M319.7 76.5m-1.40 0a1.40 1.40 0 1 0 2.80 0a1.40 1.40 0 1 0 -2.80 0M327.5 75.0m-1.40 0a1.40 1.40 0 1 0 2.80 0a1.40 1.40 0 1 0 -2.80 0M305.4 79.5m-1.40 0a1.40 1.40 0 1 0 2.80 0a1.40 1.40 0 1 0 -2.80 0M308.7 95.3m-1.40 0a1.40 1.40 0 1 0 2.80 0a1.40 1.40 0 1 0 -2.80 0M315.9 85.8m-1.40 0a1.40 1.40 0 1 0 2.80 0a1.40 1.40 0 1 0 -2.80 0M325.9 107.1m-1.40 0a1.40 1.40 0 1 0 2.80 0a1.40 1.40 0 1 0 -2.80 0M331.4 84.8m-1.40 0a1.40 1.40 0 1 0 2.80 0a1.40 1.40 0 1 0 -2.80 0M331.0 84.6m-1.40 0a1.40 1.40 0 1 0 2.80 0a1.40 1.40 0 1 0 -2.80 0M322.8 89.3m-1.40 0a1.40 1.40 0 1 0 2.80 0a1.40 1.40 0 1 0 -2.80 0M309.3 106.1m-1.40 0a1.40 1.40 0 1 0 2.80 0a1.40 1.40 0 1 0 -2.80 0M334.6 87.6m-1.40 0a1.40 1.40 0 1 0 2.80 0a1.40 1.40 0 1 0 -2.80 0M333.4 88.9m-1.40 0a1.40 1.40 0 1 0 2.80 0a1.40 1.40 0 1 0 -2.80 0M325.9 114.9m-1.40 0a1.40 1.40 0 1 0 2.80 0a1.40 1.40 0 1 0 -2.80 0M329.8 77.2m-1.40 0a1.40 1.40 0 1 0 2.80 0a1.40 1.40 0 1 0 -2.80 0M318.5 90.1m-1.40 0a1.40 1.40 0 1 0 2.80 0a1.40 1.40 0 1 0 -2.80 0M313.8 107.7m-1.40 0a1.40 1.40 0 1 0 2.80 0a1.40 1.40 0 1 0 -2.80 0M318.7 103.0m-1.40 0a1.40 1.40 0 1 0 2.80 0a1.40 1.40 0 1 0 -2.80 0M325.2 95.8m-1.40 0a1.40 1.40 0 1 0 2.80 0a1.40 1.40 0 1 0 -2.80 0M305.9 102.0m-1.40 0a1.40 1.40 0 1 0 2.80 0a1.40 1.40 0 1 0 -2.80 0M333.7 81.9m-1.40 0a1.40 1.40 0 1 0 2.80 0a1.40 1.40 0 1 0 -2.80 0M325.5 94.5m-1.40 0a1.40 1.40 0 1 0 2.80 0a1.40 1.40 0 1 0 -2.80 0M315.4 103.5m-1.40 0a1.40 1.40 0 1 0 2.80 0a1.40 1.40 0 1 0 -2.80 0M333.9 90.3m-1.40 0a1.40 1.40 0 1 0 2.80 0a1.40 1.40 0 1 0 -2.80 0M331.8 82.0m-1.40 0a1.40 1.40 0 1 0 2.80 0a1.40 1.40 0 1 0 -2.80 0M327.9 79.0m-1.40 0a1.40 1.40 0 1 0 2.80 0a1.40 1.40 0 1 0 -2.80 0M315.2 113.8m-1.40 0a1.40 1.40 0 1 0 2.80 0a1.40 1.40 0 1 0 -2.80 0M325.9 106.4m-1.40 0a1.40 1.40 0 1 0 2.80 0a1.40 1.40 0 1 0 -2.80 0M319.4 93.9m-1.40 0a1.40 1.40 0 1 0 2.80 0a1.40 1.40 0 1 0 -2.80 0M320.4 106.0m-1.40 0a1.40 1.40 0 1 0 2.80 0a1.40 1.40 0 1 0 -2.80 0M328.1 82.8m-1.40 0a1.40 1.40 0 1 0 2.80 0a1.40 1.40 0 1 0 -2.80 0M318.7 96.7m-1.40 0a1.40 1.40 0 1 0 2.80 0a1.40 1.40 0 1 0 -2.80 0M323.1 112.1m-1.40 0a1.40 1.40 0 1 0 2.80 0a1.40 1.40 0 1 0 -2.80 0M332.0 81.0m-1.40 0a1.40 1.40 0 1 0 2.80 0a1.40 1.40 0 1 0 -2.80 0M316.6 79.4m-1.40 0a1.40 1.40 0 1 0 2.80 0a1.40 1.40 0 1 0 -2.80 0M304.9 78.0m-1.40 0a1.40 1.40 0 1 0 2.80 0a1.40 1.40 0 1 0 -2.80 0M310.1 105.7m-1.40 0a1.40 1.40 0 1 0 2.80 0a1.40 1.40 0 1 0 -2.80 0M326.3 107.0m-1.40 0a1.40 1.40 0 1 0 2.80 0a1.40 1.40 0 1 0 -2.80 0M313.6 81.2m-1.40 0a1.40 1.40 0 1 0 2.80 0a1.40 1.40 0 1 0 -2.80 0M335.6 75.8m-1.40 0a1.40 1.40 0 1 0 2.80 0a1.40 1.40 0 1 0 -2.80 0M317.2 100.4m-1.40 0a1.40 1.40 0 1 0 2.80 0a1.40 1.40 0 1 0 -2.80 0M328.6 111.6m-1.40 0a1.40 1.40 0 1 0 2.80 0a1.40 1.40 0 1 0 -2.80 0M321.9 90.7m-1.40 0a1.40 1.40 0 1 0 2.80 0a1.40 1.40 0 1 0 -2.80 0M304.2 107.2m-1.40 0a1.40 1.40 0 1 0 2.80 0a1.40 1.40 0 1 0 -2.80 0M326.1 88.7m-1.40 0a1.40 1.40 0 1 0 2.80 0a1.40 1.40 0 1 0 -2.80 0M312.0 106.0m-1.40 0a1.40 1.40 0 1 0 2.80 0a1.40 1.40 0 1 0 -2.80 0M309.9 98.4m-1.40 0a1.40 1.40 0 1 0 2.80 0a1.40 1.40 0 1 0 -2.80 0M321.1 92.1m-1.40 0a1.40 1.40 0 1 0 2.80 0a1.40 1.40 0 1 0 -2.80 0M330.5 112.5m-1.40 0a1.40 1.40 0 1 0 2.80 0a1.40 1.40 0 1 0 -2.80 0M328.2 103.0m-1.40 0a1.40 1.40 0 1 0 2.80 0a1.40 1.40 0 1 0 -2.80 0M327.0 101.2m-1.40 0a1.40 1.40 0 1 0 2.80 0a1.40 1.40 0 1 0 -2.80 0M321.9 84.9m-1.40 0a1.40 1.40 0 1 0 2.80 0a1.40 1.40 0 1 0 -2.80 0M330.0 79.8m-1.40 0a1.40 1.40 0 1 0 2.80 0a1.40 1.40 0 1 0 -2.80 0M325.5 90.5m-1.40 0a1.40 1.40 0 1 0 2.80 0a1.40 1.40 0 1 0 -2.80 0M322.7 100.7m-1.40 0a1.40 1.40 0 1 0 2.80 0a1.40 1.40 0 1 0 -2.80 0M320.0 114.2m-1.40 0a1.40 1.40 0 1 0 2.80 0a1.40 1.40 0 1 0 -2.80 0M312.0 75.5m-1.40 0a1.40 1.40 0 1 0 2.80 0a1.40 1.40 0 1 0 -2.80 0M335.9 87.5m-1.40 0a1.40 1.40 0 1 0 2.80 0a1.40 1.40 0 1 0 -2.80 0M313.3 91.6m-1.40 0a1.40 1.40 0 1 0 2.80 0a1.40 1.40 0 1 0 -2.80 0M323.9 114.5m-1.40 0a1.40 1.40 0 1 0 2.80 0a1.40 1.40 0 1 0 -2.80 0M327.6 87.7m-1.40 0a1.40 1.40 0 1 0 2.80 0a1.40 1.40 0 1 0 -2.80 0M321.8 93.0m-1.40 0a1.40 1.40 0 1 0 2.80 0a1.40 1.40 0 1 0 -2.80 0M320.7 91.7m-1.40 0a1.40 1.40 0 1 0 2.80 0a1.40 1.40 0 1 0 -2.80 0M309.6 90.8m-1.40 0a1.40 1.40 0 1 0 2.80 0a1.40 1.40 0 1 0 -2.80 0M317.0 83.0m-1.40 0a1.40 1.40 0 1 0 2.80 0a1.40 1.40 0 1 0 -2.80 0M331.3 89.4m-1.40 0a1.40 1.40 0 1 0 2.80 0a1.40 1.40 0 1 0 -2.80 0M309.1 97.7m-1.40 0a1.40 1.40 0 1 0 2.80 0a1.40 1.40 0 1 0 -2.80 0M332.2 106.3m-1.40 0a1.40 1.40 0 1 0 2.80 0a1.40 1.40 0 1 0 -2.80 0M324.8 104.3m-1.40 0a1.40 1.40 0 1 0 2.80 0a1.40 1.40 0 1 0 -2.80 0M315.2 80.7m-1.40 0a1.40 1.40 0 1 0 2.80 0a1.40 1.40 0 1 0 -2.80 0M312.5 89.0m-1.40 0a1.40 1.40 0 1 0 2.80 0a1.40 1.40 0 1 0 -2.80 0M313.3 93.7m-1.40 0a1.40 1.40 0 1 0 2.80 0a1.40 1.40 0 1 0 -2.80 0M309.0 80.2m-1.40 0a1.40 1.40 0 1 0 2.80 0a1.40 1.40 0 1 0 -2.80 0M312.4 82.9m-1.40 0a1.40 1.40 0 1 0 2.80 0a1.40 1.40 0 1 0 -2.80 0M330.8 96.5m-1.40 0a1.40 1.40 0 1 0 2.80 0a1.40 1.40 0 1 0 -2.80 0M310.6 92.2m-1.40 0a1.40 1.40 0 1 0 2.80 0a1.40 1.40 0 1 0 -2.80 0M333.1 98.1m-1.40 0a1.40 1.40 0 1 0 2.80 0a1.40 1.40 0 1 0 -2.80 0M322.5 90.7m-1.40 0a1.40 1.40 0 1 0 2.80 0a1.40 1.40 0 1 0 -2.80 0M310.5 100.0m-1.40 0a1.40 1.40 0 1 0 2.80 0a1.40 1.40 0 1 0 -2.80 0M306.6 106.5m-1.40 0a1.40 1.40 0 1 0 2.80 0a1.40 1.40 0 1 0 -2.80 0M305.9 104.9m-1.40 0a1.40 1.40 0 1 0 2.80 0a1.40 1.40 0 1 0 -2.80 0M316.8 102.3m-1.40 0a1.40 1.40 0 1 0 2.80 0a1.40 1.40 0 1 0 -2.80 0M323.7 80.2m-1.40 0a1.40 1.40 0 1 0 2.80 0a1.40 1.40 0 1 0 -2.80 0M348.4 85.3m-1.40 0a1.40 1.40 0 1 0 2.80 0a1.40 1.40 0 1 0 -2.80 0M345.5 90.0m-1.40 0a1.40 1.40 0 1 0 2.80 0a1.40 1.40 0 1 0 -2.80 0M343.7 92.2m-1.40 0a1.40 1.40 0 1 0 2.80 0a1.40 1.40 0 1 0 -2.80 0M347.2 97.3m-1.40 0a1.40 1.40 0 1 0 2.80 0a1.40 1.40 0 1 0 -2.80 0M349.4 100.1m-1.40 0a1.40 1.40 0 1 0 2.80 0a1.40 1.40 0 1 0 -2.80 0M343.1 101.5m-1.40 0a1.40 1.40 0 1 0 2.80 0a1.40 1.40 0 1 0 -2.80 0M341.7 104.2m-1.40 0a1.40 1.40 0 1 0 2.80 0a1.40 1.40 0 1 0 -2.80 0M348.1 103.1m-1.40 0a1.40 1.40 0 1 0 2.80 0a1.40 1.40 0 1 0 -2.80 0M350.1 103.8m-1.40 0a1.40 1.40 0 1 0 2.80 0a1.40 1.40 0 1 0 -2.80 0M340.8 107.9m-1.40 0a1.40 1.40 0 1 0 2.80 0a1.40 1.40 0 1 0 -2.80 0M344.2 110.6m-1.40 0a1.40 1.40 0 1 0 2.80 0a1.40 1.40 0 1 0 -2.80 0M337.6 110.8m-1.40 0a1.40 1.40 0 1 0 2.80 0a1.40 1.40 0 1 0 -2.80 0M346.9 111.8m-1.40 0a1.40 1.40 0 1 0 2.80 0a1.40 1.40 0 1 0 -2.80 0M339.6 81.7m-1.40 0a1.40 1.40 0 1 0 2.80 0a1.40 1.40 0 1 0 -2.80 0M341.8 79.3m-1.40 0a1.40 1.40 0 1 0 2.80 0a1.40 1.40 0 1 0 -2.80 0M340.9 87.3m-1.40 0a1.40 1.40 0 1 0 2.80 0a1.40 1.40 0 1 0 -2.80 0M337.6 90.4m-1.40 0a1.40 1.40 0 1 0 2.80 0a1.40 1.40 0 1 0 -2.80 0M338.6 96.3m-1.40 0a1.40 1.40 0 1 0 2.80 0a1.40 1.40 0 1 0 -2.80 0M337.3 105.6m-1.40 0a1.40 1.40 0 1 0 2.80 0a1.40 1.40 0 1 0 -2.80 0M271.9 114.3m-1.40 0a1.40 1.40 0 1 0 2.80 0a1.40 1.40 0 1 0 -2.80 0M274.5 114.9m-1.40 0a1.40 1.40 0 1 0 2.80 0a1.40 1.40 0 1 0 -2.80 0M275.9 116.0m-1.40 0a1.40 1.40 0 1 0 2.80 0a1.40 1.40 0 1 0 -2.80 0M277.0 116.3m-1.40 0a1.40 1.40 0 1 0 2.80 0a1.40 1.40 0 1 0 -2.80 0M279.9 117.3m-1.40 0a1.40 1.40 0 1 0 2.80 0a1.40 1.40 0 1 0 -2.80 0M281.9 118.5m-1.40 0a1.40 1.40 0 1 0 2.80 0a1.40 1.40 0 1 0 -2.80 0M282.6 117.5m-1.40 0a1.40 1.40 0 1 0 2.80 0a1.40 1.40 0 1 0 -2.80 0M283.7 116.6m-1.40 0a1.40 1.40 0 1 0 2.80 0a1.40 1.40 0 1 0 -2.80 0M286.1 117.9m-1.40 0a1.40 1.40 0 1 0 2.80 0a1.40 1.40 0 1 0 -2.80 0M288.1 118.1m-1.40 0a1.40 1.40 0 1 0 2.80 0a1.40 1.40 0 1 0 -2.80 0M289.8 117.3m-1.40 0a1.40 1.40 0 1 0 2.80 0a1.40 1.40 0 1 0 -2.80 0M291.2 116.5m-1.40 0a1.40 1.40 0 1 0 2.80 0a1.40 1.40 0 1 0 -2.80 0M294.0 116.7m-1.40 0a1.40 1.40 0 1 0 2.80 0a1.40 1.40 0 1 0 -2.80 0M295.6 116.7m-1.40 0a1.40 1.40 0 1 0 2.80 0a1.40 1.40 0 1 0 -2.80 0M297.0 118.4m-1.40 0a1.40 1.40 0 1 0 2.80 0a1.40 1.40 0 1 0 -2.80 0M297.6 119.9m-1.40 0a1.40 1.40 0 1 0 2.80 0a1.40 1.40 0 1 0 -2.80 0M294.8 122.7m-1.40 0a1.40 1.40 0 1 0 2.80 0a1.40 1.40 0 1 0 -2.80 0M300.4 114.8m-1.40 0a1.40 1.40 0 1 0 2.80 0a1.40 1.40 0 1 0 -2.80 0M301.3 118.0m-1.40 0a1.40 1.40 0 1 0 2.80 0a1.40 1.40 0 1 0 -2.80 0M302.4 119.0m-1.40 0a1.40 1.40 0 1 0 2.80 0a1.40 1.40 0 1 0 -2.80 0M303.2 121.3m-1.40 0a1.40 1.40 0 1 0 2.80 0a1.40 1.40 0 1 0 -2.80 0M301.8 122.9m-1.40 0a1.40 1.40 0 1 0 2.80 0a1.40 1.40 0 1 0 -2.80 0M303.0 125.1m-1.40 0a1.40 1.40 0 1 0 2.80 0a1.40 1.40 0 1 0 -2.80 0M303.7 127.0m-1.40 0a1.40 1.40 0 1 0 2.80 0a1.40 1.40 0 1 0 -2.80 0M291.7 125.1m-1.40 0a1.40 1.40 0 1 0 2.80 0a1.40 1.40 0 1 0 -2.80 0M292.2 126.3m-1.40 0a1.40 1.40 0 1 0 2.80 0a1.40 1.40 0 1 0 -2.80 0M293.0 127.9m-1.40 0a1.40 1.40 0 1 0 2.80 0a1.40 1.40 0 1 0 -2.80 0M291.7 129.5m-1.40 0a1.40 1.40 0 1 0 2.80 0a1.40 1.40 0 1 0 -2.80 0M285.4 130.9m-1.40 0a1.40 1.40 0 1 0 2.80 0a1.40 1.40 0 1 0 -2.80 0M286.7 132.2m-1.40 0a1.40 1.40 0 1 0 2.80 0a1.40 1.40 0 1 0 -2.80 0M288.4 131.1m-1.40 0a1.40 1.40 0 1 0 2.80 0a1.40 1.40 0 1 0 -2.80 0M293.5 133.5m-1.40 0a1.40 1.40 0 1 0 2.80 0a1.40 1.40 0 1 0 -2.80 0M294.2 133.7m-1.40 0a1.40 1.40 0 1 0 2.80 0a1.40 1.40 0 1 0 -2.80 0M294.8 134.8m-1.40 0a1.40 1.40 0 1 0 2.80 0a1.40 1.40 0 1 0 -2.80 0M291.0 136.5m-1.40 0a1.40 1.40 0 1 0 2.80 0a1.40 1.40 0 1 0 -2.80 0M299.9 134.9m-1.40 0a1.40 1.40 0 1 0 2.80 0a1.40 1.40 0 1 0 -2.80 0M300.9 136.8m-1.40 0a1.40 1.40 0 1 0 2.80 0a1.40 1.40 0 1 0 -2.80 0M300.1 138.7m-1.40 0a1.40 1.40 0 1 0 2.80 0a1.40 1.40 0 1 0 -2.80 0M301.2 139.7m-1.40 0a1.40 1.40 0 1 0 2.80 0a1.40 1.40 0 1 0 -2.80 0M275.2 114.1m-1.40 0a1.40 1.40 0 1 0 2.80 0a1.40 1.40 0 1 0 -2.80 0M277.6 114.4m-1.40 0a1.40 1.40 0 1 0 2.80 0a1.40 1.40 0 1 0 -2.80 0M280.5 115.1m-1.40 0a1.40 1.40 0 1 0 2.80 0a1.40 1.40 0 1 0 -2.80 0M283.1 115.6m-1.40 0a1.40 1.40 0 1 0 2.80 0a1.40 1.40 0 1 0 -2.80 0M304.6 115.6m-1.40 0a1.40 1.40 0 1 0 2.80 0a1.40 1.40 0 1 0 -2.80 0M307.6 116.3m-1.40 0a1.40 1.40 0 1 0 2.80 0a1.40 1.40 0 1 0 -2.80 0M308.3 117.0m-1.40 0a1.40 1.40 0 1 0 2.80 0a1.40 1.40 0 1 0 -2.80 0M311.0 117.6m-1.40 0a1.40 1.40 0 1 0 2.80 0a1.40 1.40 0 1 0 -2.80 0M312.1 118.2m-1.40 0a1.40 1.40 0 1 0 2.80 0a1.40 1.40 0 1 0 -2.80 0M314.3 117.6m-1.40 0a1.40 1.40 0 1 0 2.80 0a1.40 1.40 0 1 0 -2.80 0M315.9 117.2m-1.40 0a1.40 1.40 0 1 0 2.80 0a1.40 1.40 0 1 0 -2.80 0M318.6 116.5m-1.40 0a1.40 1.40 0 1 0 2.80 0a1.40 1.40 0 1 0 -2.80 0M305.8 119.5m-1.40 0a1.40 1.40 0 1 0 2.80 0a1.40 1.40 0 1 0 -2.80 0M308.8 121.4m-1.40 0a1.40 1.40 0 1 0 2.80 0a1.40 1.40 0 1 0 -2.80 0M309.6 120.2m-1.40 0a1.40 1.40 0 1 0 2.80 0a1.40 1.40 0 1 0 -2.80 0M311.7 121.9m-1.40 0a1.40 1.40 0 1 0 2.80 0a1.40 1.40 0 1 0 -2.80 0M313.0 120.7m-1.40 0a1.40 1.40 0 1 0 2.80 0a1.40 1.40 0 1 0 -2.80 0M315.9 120.9m-1.40 0a1.40 1.40 0 1 0 2.80 0a1.40 1.40 0 1 0 -2.80 0M316.7 119.8m-1.40 0a1.40 1.40 0 1 0 2.80 0a1.40 1.40 0 1 0 -2.80 0M319.4 119.6m-1.40 0a1.40 1.40 0 1 0 2.80 0a1.40 1.40 0 1 0 -2.80 0M320.9 119.2m-1.40 0a1.40 1.40 0 1 0 2.80 0a1.40 1.40 0 1 0 -2.80 0M321.8 116.7m-1.40 0a1.40 1.40 0 1 0 2.80 0a1.40 1.40 0 1 0 -2.80 0M322.9 116.2m-1.40 0a1.40 1.40 0 1 0 2.80 0a1.40 1.40 0 1 0 -2.80 0M323.5 114.5m-1.40 0a1.40 1.40 0 1 0 2.80 0a1.40 1.40 0 1 0 -2.80 0M304.8 122.7m-1.40 0a1.40 1.40 0 1 0 2.80 0a1.40 1.40 0 1 0 -2.80 0M307.1 124.3m-1.40 0a1.40 1.40 0 1 0 2.80 0a1.40 1.40 0 1 0 -2.80 0M308.3 126.1m-1.40 0a1.40 1.40 0 1 0 2.80 0a1.40 1.40 0 1 0 -2.80 0M309.1 125.8m-1.40 0a1.40 1.40 0 1 0 2.80 0a1.40 1.40 0 1 0 -2.80 0M310.6 125.2m-1.40 0a1.40 1.40 0 1 0 2.80 0a1.40 1.40 0 1 0 -2.80 0M312.4 123.6m-1.40 0a1.40 1.40 0 1 0 2.80 0a1.40 1.40 0 1 0 -2.80 0M315.0 122.7m-1.40 0a1.40 1.40 0 1 0 2.80 0a1.40 1.40 0 1 0 -2.80 0M317.1 123.4m-1.40 0a1.40 1.40 0 1 0 2.80 0a1.40 1.40 0 1 0 -2.80 0M319.0 122.1m-1.40 0a1.40 1.40 0 1 0 2.80 0a1.40 1.40 0 1 0 -2.80 0M320.4 121.7m-1.40 0a1.40 1.40 0 1 0 2.80 0a1.40 1.40 0 1 0 -2.80 0M321.3 120.9m-1.40 0a1.40 1.40 0 1 0 2.80 0a1.40 1.40 0 1 0 -2.80 0M305.0 128.1m-1.40 0a1.40 1.40 0 1 0 2.80 0a1.40 1.40 0 1 0 -2.80 0M306.6 129.0m-1.40 0a1.40 1.40 0 1 0 2.80 0a1.40 1.40 0 1 0 -2.80 0M307.2 130.9m-1.40 0a1.40 1.40 0 1 0 2.80 0a1.40 1.40 0 1 0 -2.80 0M308.6 132.5m-1.40 0a1.40 1.40 0 1 0 2.80 0a1.40 1.40 0 1 0 -2.80 0M310.0 133.0m-1.40 0a1.40 1.40 0 1 0 2.80 0a1.40 1.40 0 1 0 -2.80 0M310.6 130.6m-1.40 0a1.40 1.40 0 1 0 2.80 0a1.40 1.40 0 1 0 -2.80 0M311.9 129.6m-1.40 0a1.40 1.40 0 1 0 2.80 0a1.40 1.40 0 1 0 -2.80 0M314.5 128.8m-1.40 0a1.40 1.40 0 1 0 2.80 0a1.40 1.40 0 1 0 -2.80 0M316.0 127.3m-1.40 0a1.40 1.40 0 1 0 2.80 0a1.40 1.40 0 1 0 -2.80 0M315.3 129.4m-1.40 0a1.40 1.40 0 1 0 2.80 0a1.40 1.40 0 1 0 -2.80 0M314.2 132.1m-1.40 0a1.40 1.40 0 1 0 2.80 0a1.40 1.40 0 1 0 -2.80 0M311.1 134.9m-1.40 0a1.40 1.40 0 1 0 2.80 0a1.40 1.40 0 1 0 -2.80 0M309.9 133.8m-1.40 0a1.40 1.40 0 1 0 2.80 0a1.40 1.40 0 1 0 -2.80 0M304.1 132.5m-1.40 0a1.40 1.40 0 1 0 2.80 0a1.40 1.40 0 1 0 -2.80 0M325.2 126.0m-1.40 0a1.40 1.40 0 1 0 2.80 0a1.40 1.40 0 1 0 -2.80 0M326.6 127.5m-1.40 0a1.40 1.40 0 1 0 2.80 0a1.40 1.40 0 1 0 -2.80 0M327.6 128.2m-1.40 0a1.40 1.40 0 1 0 2.80 0a1.40 1.40 0 1 0 -2.80 0M329.3 129.7m-1.40 0a1.40 1.40 0 1 0 2.80 0a1.40 1.40 0 1 0 -2.80 0M330.1 130.7m-1.40 0a1.40 1.40 0 1 0 2.80 0a1.40 1.40 0 1 0 -2.80 0M332.3 131.4m-1.40 0a1.40 1.40 0 1 0 2.80 0a1.40 1.40 0 1 0 -2.80 0M324.3 134.6m-1.40 0a1.40 1.40 0 1 0 2.80 0a1.40 1.40 0 1 0 -2.80 0M328.4 116.0m-1.40 0a1.40 1.40 0 1 0 2.80 0a1.40 1.40 0 1 0 -2.80 0M328.8 118.4m-1.40 0a1.40 1.40 0 1 0 2.80 0a1.40 1.40 0 1 0 -2.80 0M329.7 114.2m-1.40 0a1.40 1.40 0 1 0 2.80 0a1.40 1.40 0 1 0 -2.80 0M332.2 115.5m-1.40 0a1.40 1.40 0 1 0 2.80 0a1.40 1.40 0 1 0 -2.80 0M332.8 116.9m-1.40 0a1.40 1.40 0 1 0 2.80 0a1.40 1.40 0 1 0 -2.80 0M333.0 122.0m-1.40 0a1.40 1.40 0 1 0 2.80 0a1.40 1.40 0 1 0 -2.80 0M334.5 123.1m-1.40 0a1.40 1.40 0 1 0 2.80 0a1.40 1.40 0 1 0 -2.80 0M336.0 123.3m-1.40 0a1.40 1.40 0 1 0 2.80 0a1.40 1.40 0 1 0 -2.80 0M340.8 116.4m-1.40 0a1.40 1.40 0 1 0 2.80 0a1.40 1.40 0 1 0 -2.80 0M340.7 116.6m-1.40 0a1.40 1.40 0 1 0 2.80 0a1.40 1.40 0 1 0 -2.80 0M341.4 115.0m-1.40 0a1.40 1.40 0 1 0 2.80 0a1.40 1.40 0 1 0 -2.80 0M346.3 117.2m-1.40 0a1.40 1.40 0 1 0 2.80 0a1.40 1.40 0 1 0 -2.80 0M346.7 114.9m-1.40 0a1.40 1.40 0 1 0 2.80 0a1.40 1.40 0 1 0 -2.80 0M347.8 119.8m-1.40 0a1.40 1.40 0 1 0 2.80 0a1.40 1.40 0 1 0 -2.80 0M349.7 120.4m-1.40 0a1.40 1.40 0 1 0 2.80 0a1.40 1.40 0 1 0 -2.80 0M351.0 122.8m-1.40 0a1.40 1.40 0 1 0 2.80 0a1.40 1.40 0 1 0 -2.80 0M351.5 123.0m-1.40 0a1.40 1.40 0 1 0 2.80 0a1.40 1.40 0 1 0 -2.80 0M350.8 115.1m-1.40 0a1.40 1.40 0 1 0 2.80 0a1.40 1.40 0 1 0 -2.80 0M372.3 81.0m-1.40 0a1.40 1.40 0 1 0 2.80 0a1.40 1.40 0 1 0 -2.80 0M374.3 84.2m-1.40 0a1.40 1.40 0 1 0 2.80 0a1.40 1.40 0 1 0 -2.80 0M365.5 82.3m-1.40 0a1.40 1.40 0 1 0 2.80 0a1.40 1.40 0 1 0 -2.80 0M357.2 86.4m-1.40 0a1.40 1.40 0 1 0 2.80 0a1.40 1.40 0 1 0 -2.80 0M355.4 89.8m-1.40 0a1.40 1.40 0 1 0 2.80 0a1.40 1.40 0 1 0 -2.80 0M356.8 85.1m-1.40 0a1.40 1.40 0 1 0 2.80 0a1.40 1.40 0 1 0 -2.80 0M362.1 94.4m-1.40 0a1.40 1.40 0 1 0 2.80 0a1.40 1.40 0 1 0 -2.80 0M365.5 93.6m-1.40 0a1.40 1.40 0 1 0 2.80 0a1.40 1.40 0 1 0 -2.80 0M367.1 96.9m-1.40 0a1.40 1.40 0 1 0 2.80 0a1.40 1.40 0 1 0 -2.80 0M368.1 98.3m-1.40 0a1.40 1.40 0 1 0 2.80 0a1.40 1.40 0 1 0 -2.80 0M369.5 99.0m-1.40 0a1.40 1.40 0 1 0 2.80 0a1.40 1.40 0 1 0 -2.80 0M371.0 100.5m-1.40 0a1.40 1.40 0 1 0 2.80 0a1.40 1.40 0 1 0 -2.80 0M372.7 102.6m-1.40 0a1.40 1.40 0 1 0 2.80 0a1.40 1.40 0 1 0 -2.80 0M373.3 95.7m-1.40 0a1.40 1.40 0 1 0 2.80 0a1.40 1.40 0 1 0 -2.80 0M376.0 95.5m-1.40 0a1.40 1.40 0 1 0 2.80 0a1.40 1.40 0 1 0 -2.80 0M376.7 94.0m-1.40 0a1.40 1.40 0 1 0 2.80 0a1.40 1.40 0 1 0 -2.80 0M362.8 100.0m-1.40 0a1.40 1.40 0 1 0 2.80 0a1.40 1.40 0 1 0 -2.80 0M367.0 109.2m-1.40 0a1.40 1.40 0 1 0 2.80 0a1.40 1.40 0 1 0 -2.80 0M367.9 108.9m-1.40 0a1.40 1.40 0 1 0 2.80 0a1.40 1.40 0 1 0 -2.80 0M373.4 108.3m-1.40 0a1.40 1.40 0 1 0 2.80 0a1.40 1.40 0 1 0 -2.80 0M356.2 127.3m-1.40 0a1.40 1.40 0 1 0 2.80 0a1.40 1.40 0 1 0 -2.80 0M358.6 129.3m-1.40 0a1.40 1.40 0 1 0 2.80 0a1.40 1.40 0 1 0 -2.80 0M413.3 130.7m-1.40 0a1.40 1.40 0 1 0 2.80 0a1.40 1.40 0 1 0 -2.80 0M416.0 132.6m-1.40 0a1.40 1.40 0 1 0 2.80 0a1.40 1.40 0 1 0 -2.80 0M417.3 134.4m-1.40 0a1.40 1.40 0 1 0 2.80 0a1.40 1.40 0 1 0 -2.80 0M422.8 139.6m-1.40 0a1.40 1.40 0 1 0 2.80 0a1.40 1.40 0 1 0 -2.80 0M424.3 141.5m-1.40 0a1.40 1.40 0 1 0 2.80 0a1.40 1.40 0 1 0 -2.80 0M425.7 142.5m-1.40 0a1.40 1.40 0 1 0 2.80 0a1.40 1.40 0 1 0 -2.80 0M445.8 117.5m-1.40 0a1.40 1.40 0 1 0 2.80 0a1.40 1.40 0 1 0 -2.80 0M280.6 112.8m-1.40 0a1.40 1.40 0 1 0 2.80 0a1.40 1.40 0 1 0 -2.80 0M296.2 100.3m-1.40 0a1.40 1.40 0 1 0 2.80 0a1.40 1.40 0 1 0 -2.80 0M276.7 117.5m-1.40 0a1.40 1.40 0 1 0 2.80 0a1.40 1.40 0 1 0 -2.80 0M318.7 94.0m-1.40 0a1.40 1.40 0 1 0 2.80 0a1.40 1.40 0 1 0 -2.80 0M327.1 90.0m-1.40 0a1.40 1.40 0 1 0 2.80 0a1.40 1.40 0 1 0 -2.80 0M323.9 90.2m-1.40 0a1.40 1.40 0 1 0 2.80 0a1.40 1.40 0 1 0 -2.80 0M266.4 97.8m-1.40 0a1.40 1.40 0 1 0 2.80 0a1.40 1.40 0 1 0 -2.80 0M288.3 114.7m-1.40 0a1.40 1.40 0 1 0 2.80 0a1.40 1.40 0 1 0 -2.80 0M295.5 126.1m-1.40 0a1.40 1.40 0 1 0 2.80 0a1.40 1.40 0 1 0 -2.80 0M278.0 123.4m-1.40 0a1.40 1.40 0 1 0 2.80 0a1.40 1.40 0 1 0 -2.80 0M322.3 94.1m-1.40 0a1.40 1.40 0 1 0 2.80 0a1.40 1.40 0 1 0 -2.80 0M284.1 95.9m-1.40 0a1.40 1.40 0 1 0 2.80 0a1.40 1.40 0 1 0 -2.80 0M265.6 95.9m-1.40 0a1.40 1.40 0 1 0 2.80 0a1.40 1.40 0 1 0 -2.80 0M277.4 101.3m-1.40 0a1.40 1.40 0 1 0 2.80 0a1.40 1.40 0 1 0 -2.80 0M296.3 130.6m-1.40 0a1.40 1.40 0 1 0 2.80 0a1.40 1.40 0 1 0 -2.80 0M311.2 116.1m-1.40 0a1.40 1.40 0 1 0 2.80 0a1.40 1.40 0 1 0 -2.80 0M326.1 103.4m-1.40 0a1.40 1.40 0 1 0 2.80 0a1.40 1.40 0 1 0 -2.80 0M329.5 115.5m-1.40 0a1.40 1.40 0 1 0 2.80 0a1.40 1.40 0 1 0 -2.80 0M271.6 85.8m-1.40 0a1.40 1.40 0 1 0 2.80 0a1.40 1.40 0 1 0 -2.80 0M302.0 133.2m-1.40 0a1.40 1.40 0 1 0 2.80 0a1.40 1.40 0 1 0 -2.80 0M290.2 107.3m-1.40 0a1.40 1.40 0 1 0 2.80 0a1.40 1.40 0 1 0 -2.80 0M288.9 103.9m-1.40 0a1.40 1.40 0 1 0 2.80 0a1.40 1.40 0 1 0 -2.80 0M272.5 91.2m-1.40 0a1.40 1.40 0 1 0 2.80 0a1.40 1.40 0 1 0 -2.80 0M304.5 130.4m-1.40 0a1.40 1.40 0 1 0 2.80 0a1.40 1.40 0 1 0 -2.80 0M315.0 90.2m-1.40 0a1.40 1.40 0 1 0 2.80 0a1.40 1.40 0 1 0 -2.80 0M296.6 116.8m-1.40 0a1.40 1.40 0 1 0 2.80 0a1.40 1.40 0 1 0 -2.80 0M307.8 94.9m-1.40 0a1.40 1.40 0 1 0 2.80 0a1.40 1.40 0 1 0 -2.80 0M310.2 91.4m-1.40 0a1.40 1.40 0 1 0 2.80 0a1.40 1.40 0 1 0 -2.80 0M325.5 99.1m-1.40 0a1.40 1.40 0 1 0 2.80 0a1.40 1.40 0 1 0 -2.80 0M294.4 112.5m-1.40 0a1.40 1.40 0 1 0 2.80 0a1.40 1.40 0 1 0 -2.80 0M324.7 120.0m-1.40 0a1.40 1.40 0 1 0 2.80 0a1.40 1.40 0 1 0 -2.80 0M268.3 92.2m-1.40 0a1.40 1.40 0 1 0 2.80 0a1.40 1.40 0 1 0 -2.80 0M302.2 136.7m-1.40 0a1.40 1.40 0 1 0 2.80 0a1.40 1.40 0 1 0 -2.80 0M316.1 92.5m-1.40 0a1.40 1.40 0 1 0 2.80 0a1.40 1.40 0 1 0 -2.80 0M300.2 130.3m-1.40 0a1.40 1.40 0 1 0 2.80 0a1.40 1.40 0 1 0 -2.80 0M325.7 125.4m-1.40 0a1.40 1.40 0 1 0 2.80 0a1.40 1.40 0 1 0 -2.80 0M308.9 118.9m-1.40 0a1.40 1.40 0 1 0 2.80 0a1.40 1.40 0 1 0 -2.80 0M332.3 83.6m-1.40 0a1.40 1.40 0 1 0 2.80 0a1.40 1.40 0 1 0 -2.80 0M283.0 116.0m-1.40 0a1.40 1.40 0 1 0 2.80 0a1.40 1.40 0 1 0 -2.80 0M333.4 93.5m-1.40 0a1.40 1.40 0 1 0 2.80 0a1.40 1.40 0 1 0 -2.80 0M287.1 104.3m-1.40 0a1.40 1.40 0 1 0 2.80 0a1.40 1.40 0 1 0 -2.80 0M273.1 102.4m-1.40 0a1.40 1.40 0 1 0 2.80 0a1.40 1.40 0 1 0 -2.80 0M328.0 89.7m-1.40 0a1.40 1.40 0 1 0 2.80 0a1.40 1.40 0 1 0 -2.80 0M279.9 99.2m-1.40 0a1.40 1.40 0 1 0 2.80 0a1.40 1.40 0 1 0 -2.80 0M300.4 132.1m-1.40 0a1.40 1.40 0 1 0 2.80 0a1.40 1.40 0 1 0 -2.80 0M302.5 132.2m-1.40 0a1.40 1.40 0 1 0 2.80 0a1.40 1.40 0 1 0 -2.80 0M302.7 105.9m-1.40 0a1.40 1.40 0 1 0 2.80 0a1.40 1.40 0 1 0 -2.80 0M326.7 114.2m-1.40 0a1.40 1.40 0 1 0 2.80 0a1.40 1.40 0 1 0 -2.80 0M297.8 110.4m-1.40 0a1.40 1.40 0 1 0 2.80 0a1.40 1.40 0 1 0 -2.80 0M289.1 106.0m-1.40 0a1.40 1.40 0 1 0 2.80 0a1.40 1.40 0 1 0 -2.80 0M268.7 93.3m-1.40 0a1.40 1.40 0 1 0 2.80 0a1.40 1.40 0 1 0 -2.80 0M318.8 89.3m-1.40 0a1.40 1.40 0 1 0 2.80 0a1.40 1.40 0 1 0 -2.80 0M289.5 115.8m-1.40 0a1.40 1.40 0 1 0 2.80 0a1.40 1.40 0 1 0 -2.80 0M312.6 130.2m-1.40 0a1.40 1.40 0 1 0 2.80 0a1.40 1.40 0 1 0 -2.80 0M269.6 117.7m-1.40 0a1.40 1.40 0 1 0 2.80 0a1.40 1.40 0 1 0 -2.80 0M277.6 100.9m-1.40 0a1.40 1.40 0 1 0 2.80 0a1.40 1.40 0 1 0 -2.80 0M305.1 128.5m-1.40 0a1.40 1.40 0 1 0 2.80 0a1.40 1.40 0 1 0 -2.80 0M264.6 99.4m-1.40 0a1.40 1.40 0 1 0 2.80 0a1.40 1.40 0 1 0 -2.80 0M267.1 102.3m-1.40 0a1.40 1.40 0 1 0 2.80 0a1.40 1.40 0 1 0 -2.80 0M268.2 99.6m-1.40 0a1.40 1.40 0 1 0 2.80 0a1.40 1.40 0 1 0 -2.80 0M317.2 113.4m-1.40 0a1.40 1.40 0 1 0 2.80 0a1.40 1.40 0 1 0 -2.80 0M328.0 113.8m-1.40 0a1.40 1.40 0 1 0 2.80 0a1.40 1.40 0 1 0 -2.80 0M298.2 105.0m-1.40 0a1.40 1.40 0 1 0 2.80 0a1.40 1.40 0 1 0 -2.80 0M311.2 129.7m-1.40 0a1.40 1.40 0 1 0 2.80 0a1.40 1.40 0 1 0 -2.80 0M287.1 99.3m-1.40 0a1.40 1.40 0 1 0 2.80 0a1.40 1.40 0 1 0 -2.80 0M323.9 95.9m-1.40 0a1.40 1.40 0 1 0 2.80 0a1.40 1.40 0 1 0 -2.80 0M285.5 109.0m-1.40 0a1.40 1.40 0 1 0 2.80 0a1.40 1.40 0 1 0 -2.80 0M332.4 98.2m-1.40 0a1.40 1.40 0 1 0 2.80 0a1.40 1.40 0 1 0 -2.80 0M294.7 133.5m-1.40 0a1.40 1.40 0 1 0 2.80 0a1.40 1.40 0 1 0 -2.80 0M279.1 101.7m-1.40 0a1.40 1.40 0 1 0 2.80 0a1.40 1.40 0 1 0 -2.80 0M310.8 113.4m-1.40 0a1.40 1.40 0 1 0 2.80 0a1.40 1.40 0 1 0 -2.80 0M305.2 115.7m-1.40 0a1.40 1.40 0 1 0 2.80 0a1.40 1.40 0 1 0 -2.80 0M312.4 99.8m-1.40 0a1.40 1.40 0 1 0 2.80 0a1.40 1.40 0 1 0 -2.80 0M288.9 104.0m-1.40 0a1.40 1.40 0 1 0 2.80 0a1.40 1.40 0 1 0 -2.80 0M301.3 113.4m-1.40 0a1.40 1.40 0 1 0 2.80 0a1.40 1.40 0 1 0 -2.80 0M326.8 103.9m-1.40 0a1.40 1.40 0 1 0 2.80 0a1.40 1.40 0 1 0 -2.80 0M295.9 128.2m-1.40 0a1.40 1.40 0 1 0 2.80 0a1.40 1.40 0 1 0 -2.80 0M333.9 95.4m-1.40 0a1.40 1.40 0 1 0 2.80 0a1.40 1.40 0 1 0 -2.80 0M316.4 95.6m-1.40 0a1.40 1.40 0 1 0 2.80 0a1.40 1.40 0 1 0 -2.80 0M300.2 113.6m-1.40 0a1.40 1.40 0 1 0 2.80 0a1.40 1.40 0 1 0 -2.80 0M314.2 132.9m-1.40 0a1.40 1.40 0 1 0 2.80 0a1.40 1.40 0 1 0 -2.80 0M321.1 113.2m-1.40 0a1.40 1.40 0 1 0 2.80 0a1.40 1.40 0 1 0 -2.80 0M303.5 113.2m-1.40 0a1.40 1.40 0 1 0 2.80 0a1.40 1.40 0 1 0 -2.80 0M317.2 91.0m-1.40 0a1.40 1.40 0 1 0 2.80 0a1.40 1.40 0 1 0 -2.80 0M316.1 127.6m-1.40 0a1.40 1.40 0 1 0 2.80 0a1.40 1.40 0 1 0 -2.80 0M295.1 120.2m-1.40 0a1.40 1.40 0 1 0 2.80 0a1.40 1.40 0 1 0 -2.80 0M311.4 98.7m-1.40 0a1.40 1.40 0 1 0 2.80 0a1.40 1.40 0 1 0 -2.80 0M295.4 128.3m-1.40 0a1.40 1.40 0 1 0 2.80 0a1.40 1.40 0 1 0 -2.80 0M332.7 113.5m-1.40 0a1.40 1.40 0 1 0 2.80 0a1.40 1.40 0 1 0 -2.80 0M333.8 91.5m-1.40 0a1.40 1.40 0 1 0 2.80 0a1.40 1.40 0 1 0 -2.80 0M300.3 136.9m-1.40 0a1.40 1.40 0 1 0 2.80 0a1.40 1.40 0 1 0 -2.80 0M335.5 88.7m-1.40 0a1.40 1.40 0 1 0 2.80 0a1.40 1.40 0 1 0 -2.80 0M329.6 116.2m-1.40 0a1.40 1.40 0 1 0 2.80 0a1.40 1.40 0 1 0 -2.80 0M285.7 112.7m-1.40 0a1.40 1.40 0 1 0 2.80 0a1.40 1.40 0 1 0 -2.80 0M294.4 107.4m-1.40 0a1.40 1.40 0 1 0 2.80 0a1.40 1.40 0 1 0 -2.80 0M308.0 135.1m-1.40 0a1.40 1.40 0 1 0 2.80 0a1.40 1.40 0 1 0 -2.80 0M306.3 125.7m-1.40 0a1.40 1.40 0 1 0 2.80 0a1.40 1.40 0 1 0 -2.80 0M271.9 103.0m-1.40 0a1.40 1.40 0 1 0 2.80 0a1.40 1.40 0 1 0 -2.80 0M310.9 122.8m-1.40 0a1.40 1.40 0 1 0 2.80 0a1.40 1.40 0 1 0 -2.80 0M308.2 106.3m-1.40 0a1.40 1.40 0 1 0 2.80 0a1.40 1.40 0 1 0 -2.80 0M322.5 106.5m-1.40 0a1.40 1.40 0 1 0 2.80 0a1.40 1.40 0 1 0 -2.80 0M324.0 84.8m-1.40 0a1.40 1.40 0 1 0 2.80 0a1.40 1.40 0 1 0 -2.80 0M315.8 87.2m-1.40 0a1.40 1.40 0 1 0 2.80 0a1.40 1.40 0 1 0 -2.80 0M291.5 106.5m-1.40 0a1.40 1.40 0 1 0 2.80 0a1.40 1.40 0 1 0 -2.80 0M276.5 106.9m-1.40 0a1.40 1.40 0 1 0 2.80 0a1.40 1.40 0 1 0 -2.80 0M325.3 83.8m-1.40 0a1.40 1.40 0 1 0 2.80 0a1.40 1.40 0 1 0 -2.80 0M296.0 103.5m-1.40 0a1.40 1.40 0 1 0 2.80 0a1.40 1.40 0 1 0 -2.80 0M275.9 115.2m-1.40 0a1.40 1.40 0 1 0 2.80 0a1.40 1.40 0 1 0 -2.80 0M303.7 126.3m-1.40 0a1.40 1.40 0 1 0 2.80 0a1.40 1.40 0 1 0 -2.80 0M295.4 131.4m-1.40 0a1.40 1.40 0 1 0 2.80 0a1.40 1.40 0 1 0 -2.80 0M302.5 66.1m-1.40 0a1.40 1.40 0 1 0 2.80 0a1.40 1.40 0 1 0 -2.80 0M297.2 57.2m-1.40 0a1.40 1.40 0 1 0 2.80 0a1.40 1.40 0 1 0 -2.80 0M296.7 67.8m-1.40 0a1.40 1.40 0 1 0 2.80 0a1.40 1.40 0 1 0 -2.80 0M298.0 73.4m-1.40 0a1.40 1.40 0 1 0 2.80 0a1.40 1.40 0 1 0 -2.80 0M317.8 72.8m-1.40 0a1.40 1.40 0 1 0 2.80 0a1.40 1.40 0 1 0 -2.80 0M300.5 78.3m-1.40 0a1.40 1.40 0 1 0 2.80 0a1.40 1.40 0 1 0 -2.80 0M301.0 60.8m-1.40 0a1.40 1.40 0 1 0 2.80 0a1.40 1.40 0 1 0 -2.80 0M308.5 69.8m-1.40 0a1.40 1.40 0 1 0 2.80 0a1.40 1.40 0 1 0 -2.80 0M302.9 73.6m-1.40 0a1.40 1.40 0 1 0 2.80 0a1.40 1.40 0 1 0 -2.80 0M297.4 61.9m-1.40 0a1.40 1.40 0 1 0 2.80 0a1.40 1.40 0 1 0 -2.80 0M311.6 70.1m-1.40 0a1.40 1.40 0 1 0 2.80 0a1.40 1.40 0 1 0 -2.80 0M295.9 61.7m-1.40 0a1.40 1.40 0 1 0 2.80 0a1.40 1.40 0 1 0 -2.80 0M308.8 73.4m-1.40 0a1.40 1.40 0 1 0 2.80 0a1.40 1.40 0 1 0 -2.80 0M292.6 68.3m-1.40 0a1.40 1.40 0 1 0 2.80 0a1.40 1.40 0 1 0 -2.80 0M302.2 71.3m-1.40 0a1.40 1.40 0 1 0 2.80 0a1.40 1.40 0 1 0 -2.80 0M299.5 63.0m-1.40 0a1.40 1.40 0 1 0 2.80 0a1.40 1.40 0 1 0 -2.80 0M302.9 54.6m-1.40 0a1.40 1.40 0 1 0 2.80 0a1.40 1.40 0 1 0 -2.80 0M306.7 72.0m-1.40 0a1.40 1.40 0 1 0 2.80 0a1.40 1.40 0 1 0 -2.80 0M295.0 63.1m-1.40 0a1.40 1.40 0 1 0 2.80 0a1.40 1.40 0 1 0 -2.80 0M306.9 69.1m-1.40 0a1.40 1.40 0 1 0 2.80 0a1.40 1.40 0 1 0 -2.80 0M295.4 79.1m-1.40 0a1.40 1.40 0 1 0 2.80 0a1.40 1.40 0 1 0 -2.80 0M295.5 79.0m-1.40 0a1.40 1.40 0 1 0 2.80 0a1.40 1.40 0 1 0 -2.80 0M294.3 67.5m-1.40 0a1.40 1.40 0 1 0 2.80 0a1.40 1.40 0 1 0 -2.80 0M300.7 73.8m-1.40 0a1.40 1.40 0 1 0 2.80 0a1.40 1.40 0 1 0 -2.80 0M311.7 59.5m-1.40 0a1.40 1.40 0 1 0 2.80 0a1.40 1.40 0 1 0 -2.80 0M294.8 60.8m-1.40 0a1.40 1.40 0 1 0 2.80 0a1.40 1.40 0 1 0 -2.80 0M305.6 64.7m-1.40 0a1.40 1.40 0 1 0 2.80 0a1.40 1.40 0 1 0 -2.80 0M306.7 66.9m-1.40 0a1.40 1.40 0 1 0 2.80 0a1.40 1.40 0 1 0 -2.80 0M294.9 60.8m-1.40 0a1.40 1.40 0 1 0 2.80 0a1.40 1.40 0 1 0 -2.80 0M294.8 76.8m-1.40 0a1.40 1.40 0 1 0 2.80 0a1.40 1.40 0 1 0 -2.80 0M304.9 65.9m-1.40 0a1.40 1.40 0 1 0 2.80 0a1.40 1.40 0 1 0 -2.80 0M317.3 71.6m-1.40 0a1.40 1.40 0 1 0 2.80 0a1.40 1.40 0 1 0 -2.80 0M296.9 77.3m-1.40 0a1.40 1.40 0 1 0 2.80 0a1.40 1.40 0 1 0 -2.80 0M290.8 70.9m-1.40 0a1.40 1.40 0 1 0 2.80 0a1.40 1.40 0 1 0 -2.80 0M291.9 74.6m-1.40 0a1.40 1.40 0 1 0 2.80 0a1.40 1.40 0 1 0 -2.80 0M296.3 73.9m-1.40 0a1.40 1.40 0 1 0 2.80 0a1.40 1.40 0 1 0 -2.80 0M315.1 73.1m-1.40 0a1.40 1.40 0 1 0 2.80 0a1.40 1.40 0 1 0 -2.80 0M294.0 62.0m-1.40 0a1.40 1.40 0 1 0 2.80 0a1.40 1.40 0 1 0 -2.80 0M293.8 71.6m-1.40 0a1.40 1.40 0 1 0 2.80 0a1.40 1.40 0 1 0 -2.80 0M310.2 70.0m-1.40 0a1.40 1.40 0 1 0 2.80 0a1.40 1.40 0 1 0 -2.80 0M294.9 61.1m-1.40 0a1.40 1.40 0 1 0 2.80 0a1.40 1.40 0 1 0 -2.80 0M301.1 72.5m-1.40 0a1.40 1.40 0 1 0 2.80 0a1.40 1.40 0 1 0 -2.80 0M303.0 61.0m-1.40 0a1.40 1.40 0 1 0 2.80 0a1.40 1.40 0 1 0 -2.80 0M307.1 56.2m-1.40 0a1.40 1.40 0 1 0 2.80 0a1.40 1.40 0 1 0 -2.80 0M291.3 70.1m-1.40 0a1.40 1.40 0 1 0 2.80 0a1.40 1.40 0 1 0 -2.80 0M326.8 71.1m-1.40 0a1.40 1.40 0 1 0 2.80 0a1.40 1.40 0 1 0 -2.80 0M331.5 75.8m-1.40 0a1.40 1.40 0 1 0 2.80 0a1.40 1.40 0 1 0 -2.80 0M331.1 66.4m-1.40 0a1.40 1.40 0 1 0 2.80 0a1.40 1.40 0 1 0 -2.80 0M332.1 72.9m-1.40 0a1.40 1.40 0 1 0 2.80 0a1.40 1.40 0 1 0 -2.80 0M329.5 77.8m-1.40 0a1.40 1.40 0 1 0 2.80 0a1.40 1.40 0 1 0 -2.80 0M331.1 70.3m-1.40 0a1.40 1.40 0 1 0 2.80 0a1.40 1.40 0 1 0 -2.80 0M329.8 68.9m-1.40 0a1.40 1.40 0 1 0 2.80 0a1.40 1.40 0 1 0 -2.80 0M328.5 64.8m-1.40 0a1.40 1.40 0 1 0 2.80 0a1.40 1.40 0 1 0 -2.80 0M331.9 62.4m-1.40 0a1.40 1.40 0 1 0 2.80 0a1.40 1.40 0 1 0 -2.80 0M329.2 66.9m-1.40 0a1.40 1.40 0 1 0 2.80 0a1.40 1.40 0 1 0 -2.80 0M322.4 63.4m-1.40 0a1.40 1.40 0 1 0 2.80 0a1.40 1.40 0 1 0 -2.80 0M333.7 66.7m-1.40 0a1.40 1.40 0 1 0 2.80 0a1.40 1.40 0 1 0 -2.80 0M326.9 70.7m-1.40 0a1.40 1.40 0 1 0 2.80 0a1.40 1.40 0 1 0 -2.80 0M322.0 69.2m-1.40 0a1.40 1.40 0 1 0 2.80 0a1.40 1.40 0 1 0 -2.80 0M329.7 78.7m-1.40 0a1.40 1.40 0 1 0 2.80 0a1.40 1.40 0 1 0 -2.80 0" fill="#ff7f0e"/>
<path d="M278.2 78.8L280.3 77.1L282.4 76.1L284.5 75.1L286.2 74.8L287.2 76.3L288.5 77.8L289.7 79.2L290.9 80.5L292.3 81.7L293.7 82.9L295.2 83.9L296.0 84.9L295.3 86.3L293.9 87.3L292.5 87.9L290.4 87.3L289.1 88.0L288.2 90.2L287.2 91.7L286.2 91.0L285.9 88.7L284.7 86.6L283.5 84.8L282.1 82.9L280.6 81.6L279.0 80.5Z" fill="#1f77b4"/>
<path d="M295.3 62.1m-1.40 0a1.40 1.40 0 1 0 2.80 0a1.40 1.40 0 1 0 -2.80 0M302.7 64.9m-1.40 0a1.40 1.40 0 1 0 2.80 0a1.40 1.40 0 1 0 -2.80 0M313.7 64.3m-1.40 0a1.40 1.40 0 1 0 2.80 0a1.40 1.40 0 1 0 -2.80 0M315.1 73.1m-1.40 0a1.40 1.40 0 1 0 2.80 0a1.40 1.40 0 1 0 -2.80 0M302.1 74.3m-1.40 0a1.40 1.40 0 1 0 2.80 0a1.40 1.40 0 1 0 -2.80 0M322.5 67.3m-1.40 0a1.40 1.40 0 1 0 2.80 0a1.40 1.40 0 1 0 -2.80 0M324.0 67.0m-1.40 0a1.40 1.40 0 1 0 2.80 0a1.40 1.40 0 1 0 -2.80 0M325.1 68.5m-1.40 0a1.40 1.40 0 1 0 2.80 0a1.40 1.40 0 1 0 -2.80 0M324.0 69.5m-1.40 0a1.40 1.40 0 1 0 2.80 0a1.40 1.40 0 1 0 -2.80 0M291.5 90.9m-1.40 0a1.40 1.40 0 1 0 2.80 0a1.40 1.40 0 1 0 -2.80 0M293.4 91.9m-1.40 0a1.40 1.40 0 1 0 2.80 0a1.40 1.40 0 1 0 -2.80 0M295.1 80.5m-1.40 0a1.40 1.40 0 1 0 2.80 0a1.40 1.40 0 1 0 -2.80 0M297.0 88.6m-1.40 0a1.40 1.40 0 1 0 2.80 0a1.40 1.40 0 1 0 -2.80 0M271.6 103.6m-1.40 0a1.40 1.40 0 1 0 2.80 0a1.40 1.40 0 1 0 -2.80 0M273.2 105.5m-1.40 0a1.40 1.40 0 1 0 2.80 0a1.40 1.40 0 1 0 -2.80 0M294.1 98.1m-1.40 0a1.40 1.40 0 1 0 2.80 0a1.40 1.40 0 1 0 -2.80 0M295.9 103.9m-1.40 0a1.40 1.40 0 1 0 2.80 0a1.40 1.40 0 1 0 -2.80 0M286.6 111.0m-1.40 0a1.40 1.40 0 1 0 2.80 0a1.40 1.40 0 1 0 -2.80 0M284.9 112.5m-1.40 0a1.40 1.40 0 1 0 2.80 0a1.40 1.40 0 1 0 -2.80 0M294.7 89.1m-1.40 0a1.40 1.40 0 1 0 2.80 0a1.40 1.40 0 1 0 -2.80 0M296.5 91.3m-1.40 0a1.40 1.40 0 1 0 2.80 0a1.40 1.40 0 1 0 -2.80 0M308.1 82.1m-1.40 0a1.40 1.40 0 1 0 2.80 0a1.40 1.40 0 1 0 -2.80 0M314.3 86.6m-1.40 0a1.40 1.40 0 1 0 2.80 0a1.40 1.40 0 1 0 -2.80 0M324.3 83.8m-1.40 0a1.40 1.40 0 1 0 2.80 0a1.40 1.40 0 1 0 -2.80 0M332.4 93.3m-1.40 0a1.40 1.40 0 1 0 2.80 0a1.40 1.40 0 1 0 -2.80 0M311.5 104.5m-1.40 0a1.40 1.40 0 1 0 2.80 0a1.40 1.40 0 1 0 -2.80 0M316.6 103.5m-1.40 0a1.40 1.40 0 1 0 2.80 0a1.40 1.40 0 1 0 -2.80 0M333.3 107.4m-1.40 0a1.40 1.40 0 1 0 2.80 0a1.40 1.40 0 1 0 -2.80 0M304.8 94.7m-1.40 0a1.40 1.40 0 1 0 2.80 0a1.40 1.40 0 1 0 -2.80 0M311.9 113.8m-1.40 0a1.40 1.40 0 1 0 2.80 0a1.40 1.40 0 1 0 -2.80 0M307.5 110.8m-1.40 0a1.40 1.40 0 1 0 2.80 0a1.40 1.40 0 1 0 -2.80 0M321.4 98.6m-1.40 0a1.40 1.40 0 1 0 2.80 0a1.40 1.40 0 1 0 -2.80 0M281.4 114.6m-1.40 0a1.40 1.40 0 1 0 2.80 0a1.40 1.40 0 1 0 -2.80 0M286.8 119.6m-1.40 0a1.40 1.40 0 1 0 2.80 0a1.40 1.40 0 1 0 -2.80 0M295.3 120.8m-1.40 0a1.40 1.40 0 1 0 2.80 0a1.40 1.40 0 1 0 -2.80 0M286.9 128.2m-1.40 0a1.40 1.40 0 1 0 2.80 0a1.40 1.40 0 1 0 -2.80 0M294.7 128.4m-1.40 0a1.40 1.40 0 1 0 2.80 0a1.40 1.40 0 1 0 -2.80 0M301.2 121.8m-1.40 0a1.40 1.40 0 1 0 2.80 0a1.40 1.40 0 1 0 -2.80 0M285.6 111.9m-1.40 0a1.40 1.40 0 1 0 2.80 0a1.40 1.40 0 1 0 -2.80 0M292.9 112.6m-1.40 0a1.40 1.40 0 1 0 2.80 0a1.40 1.40 0 1 0 -2.80 0M304.8 120.1m-1.40 0a1.40 1.40 0 1 0 2.80 0a1.40 1.40 0 1 0 -2.80 0M310.1 123.5m-1.40 0a1.40 1.40 0 1 0 2.80 0a1.40 1.40 0 1 0 -2.80 0M312.9 121.2m-1.40 0a1.40 1.40 0 1 0 2.80 0a1.40 1.40 0 1 0 -2.80 0M316.0 121.6m-1.40 0a1.40 1.40 0 1 0 2.80 0a1.40 1.40 0 1 0 -2.80 0M311.2 129.9m-1.40 0a1.40 1.40 0 1 0 2.80 0a1.40 1.40 0 1 0 -2.80 0M313.7 130.8m-1.40 0a1.40 1.40 0 1 0 2.80 0a1.40 1.40 0 1 0 -2.80 0M310.1 135.0m-1.40 0a1.40 1.40 0 1 0 2.80 0a1.40 1.40 0 1 0 -2.80 0M332.1 121.1m-1.40 0a1.40 1.40 0 1 0 2.80 0a1.40 1.40 0 1 0 -2.80 0M308.5 126.8m-1.40 0a1.40 1.40 0 1 0 2.80 0a1.40 1.40 0 1 0 -2.80 0M275.2 100.5m-1.40 0a1.40 1.40 0 1 0 2.80 0a1.40 1.40 0 1 0 -2.80 0M292.0 114.8m-1.40 0a1.40 1.40 0 1 0 2.80 0a1.40 1.40 0 1 0 -2.80 0M278.1 115.8m-1.40 0a1.40 1.40 0 1 0 2.80 0a1.40 1.40 0 1 0 -2.80 0M304.7 113.8m-1.40 0a1.40 1.40 0 1 0 2.80 0a1.40 1.40 0 1 0 -2.80 0M290.5 93.4m-1.40 0a1.40 1.40 0 1 0 2.80 0a1.40 1.40 0 1 0 -2.80 0M291.8 94.5m-1.40 0a1.40 1.40 0 1 0 2.80 0a1.40 1.40 0 1 0 -2.80 0M294.3 96.2m-1.40 0a1.40 1.40 0 1 0 2.80 0a1.40 1.40 0 1 0 -2.80 0M297.0 96.5m-1.40 0a1.40 1.40 0 1 0 2.80 0a1.40 1.40 0 1 0 -2.80 0M299.0 97.6m-1.40 0a1.40 1.40 0 1 0 2.80 0a1.40 1.40 0 1 0 -2.80 0M301.8 104.0m-1.40 0a1.40 1.40 0 1 0 2.80 0a1.40 1.40 0 1 0 -2.80 0M300.4 106.0m-1.40 0a1.40 1.40 0 1 0 2.80 0a1.40 1.40 0 1 0 -2.80 0M304.4 115.7m-1.40 0a1.40 1.40 0 1 0 2.80 0a1.40 1.40 0 1 0 -2.80 0M307.0 118.2m-1.40 0a1.40 1.40 0 1 0 2.80 0a1.40 1.40 0 1 0 -2.80 0M309.1 121.1m-1.40 0a1.40 1.40 0 1 0 2.80 0a1.40 1.40 0 1 0 -2.80 0M312.4 123.1m-1.40 0a1.40 1.40 0 1 0 2.80 0a1.40 1.40 0 1 0 -2.80 0M314.4 125.8m-1.40 0a1.40 1.40 0 1 0 2.80 0a1.40 1.40 0 1 0 -2.80 0M286.1 130.4m-1.40 0a1.40 1.40 0 1 0 2.80 0a1.40 1.40 0 1 0 -2.80 0M294.7 113.3m-1.40 0a1.40 1.40 0 1 0 2.80 0a1.40 1.40 0 1 0 -2.80 0M279.7 77.5m-1.40 0a1.40 1.40 0 1 0 2.80 0a1.40 1.40 0 1 0 -2.80 0M282.3 76.2m-1.40 0a1.40 1.40 0 1 0 2.80 0a1.40 1.40 0 1 0 -2.80 0M283.8 74.6m-1.40 0a1.40 1.40 0 1 0 2.80 0a1.40 1.40 0 1 0 -2.80 0M286.1 74.7m-1.40 0a1.40 1.40 0 1 0 2.80 0a1.40 1.40 0 1 0 -2.80 0M285.6 75.7m-1.40 0a1.40 1.40 0 1 0 2.80 0a1.40 1.40 0 1 0 -2.80 0M287.6 75.7m-1.40 0a1.40 1.40 0 1 0 2.80 0a1.40 1.40 0 1 0 -2.80 0M289.9 78.0m-1.40 0a1.40 1.40 0 1 0 2.80 0a1.40 1.40 0 1 0 -2.80 0M290.3 79.7m-1.40 0a1.40 1.40 0 1 0 2.80 0a1.40 1.40 0 1 0 -2.80 0M291.5 80.3m-1.40 0a1.40 1.40 0 1 0 2.80 0a1.40 1.40 0 1 0 -2.80 0M292.7 82.6m-1.40 0a1.40 1.40 0 1 0 2.80 0a1.40 1.40 0 1 0 -2.80 0M294.0 84.2m-1.40 0a1.40 1.40 0 1 0 2.80 0a1.40 1.40 0 1 0 -2.80 0M296.3 84.2m-1.40 0a1.40 1.40 0 1 0 2.80 0a1.40 1.40 0 1 0 -2.80 0M295.2 85.1m-1.40 0a1.40 1.40 0 1 0 2.80 0a1.40 1.40 0 1 0 -2.80 0M294.2 87.1m-1.40 0a1.40 1.40 0 1 0 2.80 0a1.40 1.40 0 1 0 -2.80 0M293.7 87.7m-1.40 0a1.40 1.40 0 1 0 2.80 0a1.40 1.40 0 1 0 -2.80 0M291.2 87.3m-1.40 0a1.40 1.40 0 1 0 2.80 0a1.40 1.40 0 1 0 -2.80 0M289.7 87.7m-1.40 0a1.40 1.40 0 1 0 2.80 0a1.40 1.40 0 1 0 -2.80 0M288.2 88.6m-1.40 0a1.40 1.40 0 1 0 2.80 0a1.40 1.40 0 1 0 -2.80 0M288.9 91.1m-1.40 0a1.40 1.40 0 1 0 2.80 0a1.40 1.40 0 1 0 -2.80 0M285.9 91.7m-1.40 0a1.40 1.40 0 1 0 2.80 0a1.40 1.40 0 1 0 -2.80 0M286.1 88.9m-1.40 0a1.40 1.40 0 1 0 2.80 0a1.40 1.40 0 1 0 -2.80 0M286.7 89.4m-1.40 0a1.40 1.40 0 1 0 2.80 0a1.40 1.40 0 1 0 -2.80 0M283.6 85.5m-1.40 0a1.40 1.40 0 1 0 2.80 0a1.40 1.40 0 1 0 -2.80 0M282.3 82.4m-1.40 0a1.40 1.40 0 1 0 2.80 0a1.40 1.40 0 1 0 -2.80 0M280.7 82.1m-1.40 0a1.40 1.40 0 1 0 2.80 0a1.40 1.40 0 1 0 -2.80 0M278.8 80.9m-1.40 0a1.40 1.40 0 1 0 2.80 0a1.40 1.40 0 1 0 -2.80 0M278.6 81.3m-1.40 0a1.40 1.40 0 1 0 2.80 0a1.40 1.40 0 1 0 -2.80 0M276.8 89.8m-1.40 0a1.40 1.40 0 1 0 2.80 0a1.40 1.40 0 1 0 -2.80 0M277.1 89.2m-1.40 0a1.40 1.40 0 1 0 2.80 0a1.40 1.40 0 1 0 -2.80 0M278.6 88.4m-1.40 0a1.40 1.40 0 1 0 2.80 0a1.40 1.40 0 1 0 -2.80 0M273.0 82.7m-1.40 0a1.40 1.40 0 1 0 2.80 0a1.40 1.40 0 1 0 -2.80 0M270.0 81.5m-1.40 0a1.40 1.40 0 1 0 2.80 0a1.40 1.40 0 1 0 -2.80 0M272.0 80.5m-1.40 0a1.40 1.40 0 1 0 2.80 0a1.40 1.40 0 1 0 -2.80 0M274.0 79.0m-1.40 0a1.40 1.40 0 1 0 2.80 0a1.40 1.40 0 1 0 -2.80 0M275.5 78.0m-1.40 0a1.40 1.40 0 1 0 2.80 0a1.40 1.40 0 1 0 -2.80 0M273.0 82.3m-1.40 0a1.40 1.40 0 1 0 2.80 0a1.40 1.40 0 1 0 -2.80 0M276.0 80.8m-1.40 0a1.40 1.40 0 1 0 2.80 0a1.40 1.40 0 1 0 -2.80 0M277.5 79.5m-1.40 0a1.40 1.40 0 1 0 2.80 0a1.40 1.40 0 1 0 -2.80 0M271.0 83.5m-1.40 0a1.40 1.40 0 1 0 2.80 0a1.40 1.40 0 1 0 -2.80 0" fill="#1f77b4"/>
<path d="M283.8 78.9m-0.90 0a0.90 0.90 0 1 0 1.80 0a0.90 0.90 0 1 0 -1.80 0M288.8 84.5m-0.90 0a0.90 0.90 0 1 0 1.80 0a0.90 0.90 0 1 0 -1.80 0M290.6 85.1m-0.90 0a0.90 0.90 0 1 0 1.80 0a0.90 0.90 0 1 0 -1.80 0M287.4 83.7m-0.90 0a0.90 0.90 0 1 0 1.80 0a0.90 0.90 0 1 0 -1.80 0" fill="#fff"/>
<path d="M285.6 80.0m-1.40 0a1.40 1.40 0 1 0 2.80 0a1.40 1.40 0 1 0 -2.80 0M291.7 81.5m-1.40 0a1.40 1.40 0 1 0 2.80 0a1.40 1.40 0 1 0 -2.80 0M293.5 81.7m-1.40 0a1.40 1.40 0 1 0 2.80 0a1.40 1.40 0 1 0 -2.80 0M294.9 81.6m-1.40 0a1.40 1.40 0 1 0 2.80 0a1.40 1.40 0 1 0 -2.80 0M278.9 78.4m-1.40 0a1.40 1.40 0 1 0 2.80 0a1.40 1.40 0 1 0 -2.80 0M278.5 79.9m-1.40 0a1.40 1.40 0 1 0 2.80 0a1.40 1.40 0 1 0 -2.80 0M276.1 80.9m-1.40 0a1.40 1.40 0 1 0 2.80 0a1.40 1.40 0 1 0 -2.80 0M275.5 80.4m-1.40 0a1.40 1.40 0 1 0 2.80 0a1.40 1.40 0 1 0 -2.80 0M274.1 82.4m-1.40 0a1.40 1.40 0 1 0 2.80 0a1.40 1.40 0 1 0 -2.80 0M289.5 89.4m-1.40 0a1.40 1.40 0 1 0 2.80 0a1.40 1.40 0 1 0 -2.80 0M291.2 89.8m-1.40 0a1.40 1.40 0 1 0 2.80 0a1.40 1.40 0 1 0 -2.80 0M292.9 88.7m-1.40 0a1.40 1.40 0 1 0 2.80 0a1.40 1.40 0 1 0 -2.80 0" fill="#ff7f0e"/>
</g>
<rect x="254.5" y="10.5" width="201.0" height="139.0" fill="none" stroke="#a8a8a8" stroke-width="1"/>
<line x1="277.3" y1="149.5" x2="277.3" y2="151.1" stroke="#a8a8a8" stroke-width="0.8"/>
<text x="277.3" y="159.1" font-size="10.0" text-anchor="middle">−10</text>
<line x1="315.9" y1="149.5" x2="315.9" y2="151.1" stroke="#a8a8a8" stroke-width="0.8"/>
<text x="315.9" y="159.1" font-size="10.0" text-anchor="middle">0</text>
<line x1="354.5" y1="149.5" x2="354.5" y2="151.1" stroke="#a8a8a8" stroke-width="0.8"/>
<text x="354.5" y="159.1" font-size="10.0" text-anchor="middle">10</text>
<line x1="393.1" y1="149.5" x2="393.1" y2="151.1" stroke="#a8a8a8" stroke-width="0.8"/>
<text x="393.1" y="159.1" font-size="10.0" text-anchor="middle">20</text>
<line x1="431.7" y1="149.5" x2="431.7" y2="151.1" stroke="#a8a8a8" stroke-width="0.8"/>
<text x="431.7" y="159.1" font-size="10.0" text-anchor="middle">30</text>
<line x1="252.9" y1="16.8" x2="254.5" y2="16.8" stroke="#a8a8a8" stroke-width="0.8"/>
<text x="251.9" y="20.2" font-size="10.0" text-anchor="end">20</text>
<line x1="252.9" y1="55.3" x2="254.5" y2="55.3" stroke="#a8a8a8" stroke-width="0.8"/>
<text x="251.9" y="58.7" font-size="10.0" text-anchor="end">10</text>
<line x1="252.9" y1="93.8" x2="254.5" y2="93.8" stroke="#a8a8a8" stroke-width="0.8"/>
<text x="251.9" y="97.2" font-size="10.0" text-anchor="end">0</text>
<line x1="252.9" y1="132.3" x2="254.5" y2="132.3" stroke="#a8a8a8" stroke-width="0.8"/>
<text x="251.9" y="135.7" font-size="10.0" text-anchor="end">−10</text>
<text x="355.0" y="8.3" font-size="11.8" text-anchor="middle">t-SNE</text>
<rect x="410.5" y="15.3" width="40.3" height="30.6" rx="2" fill="#fff" fill-opacity="0.8" stroke="#e4e4e4" stroke-width="0.8"/>
<circle cx="424.3" cy="23.5" r="1.2" fill="#1f77b4"/>
<circle cx="424.3" cy="37.2" r="1.2" fill="#ff7f0e"/>
<text x="444.1" y="26.9" font-size="10.0" text-anchor="middle">1</text>
<text x="444.1" y="40.6" font-size="10.0" text-anchor="middle">2</text>
<clipPath id="c2"><rect x="483.5" y="10.5" width="201.5" height="139.0"/></clipPath>
<g clip-path="url(#c2)">
<path d="M521.9 111.1m-1.40 0a1.40 1.40 0 1 0 2.80 0a1.40 1.40 0 1 0 -2.80 0M541.8 110.8m-1.40 0a1.40 1.40 0 1 0 2.80 0a1.40 1.40 0 1 0 -2.80 0M544.6 111.4m-1.40 0a1.40 1.40 0 1 0 2.80 0a1.40 1.40 0 1 0 -2.80 0M548.8 114.1m-1.40 0a1.40 1.40 0 1 0 2.80 0a1.40 1.40 0 1 0 -2.80 0M559.5 114.1m-1.40 0a1.40 1.40 0 1 0 2.80 0a1.40 1.40 0 1 0 -2.80 0M559.8 114.1m-1.40 0a1.40 1.40 0 1 0 2.80 0a1.40 1.40 0 1 0 -2.80 0M560.6 114.5m-1.40 0a1.40 1.40 0 1 0 2.80 0a1.40 1.40 0 1 0 -2.80 0" fill="#1f77b4"/>
<path d="M523.0 113.7L526.4 111.6L528.6 111.1L530.7 109.6L532.9 109.1L534.5 108.7L536.2 109.0L537.9 109.7L539.0 110.5L540.7 111.9L542.4 113.6L543.0 115.8L545.4 117.5L547.8 117.1L549.7 118.0L549.7 120.9L547.9 122.1L544.2 122.0L541.9 123.1L539.6 124.7L536.7 125.1L533.9 123.8L531.2 123.1L528.6 123.8L525.8 124.0L523.0 123.6L520.6 124.2L517.6 124.9L515.2 124.4L514.0 122.6L516.4 120.9L519.5 119.7L518.3 118.0L515.9 116.9L516.5 115.8L520.1 116.4L522.5 115.3Z" fill="#ff7f0e"/>
<path d="M524.2 16.7m-1.40 0a1.40 1.40 0 1 0 2.80 0a1.40 1.40 0 1 0 -2.80 0M589.9 62.2m-1.40 0a1.40 1.40 0 1 0 2.80 0a1.40 1.40 0 1 0 -2.80 0M595.2 58.0m-1.40 0a1.40 1.40 0 1 0 2.80 0a1.40 1.40 0 1 0 -2.80 0M601.2 53.1m-1.40 0a1.40 1.40 0 1 0 2.80 0a1.40 1.40 0 1 0 -2.80 0M665.7 60.4m-1.40 0a1.40 1.40 0 1 0 2.80 0a1.40 1.40 0 1 0 -2.80 0M656.3 81.1m-1.40 0a1.40 1.40 0 1 0 2.80 0a1.40 1.40 0 1 0 -2.80 0M632.1 86.0m-1.40 0a1.40 1.40 0 1 0 2.80 0a1.40 1.40 0 1 0 -2.80 0M674.5 77.8m-1.40 0a1.40 1.40 0 1 0 2.80 0a1.40 1.40 0 1 0 -2.80 0M676.3 77.6m-1.40 0a1.40 1.40 0 1 0 2.80 0a1.40 1.40 0 1 0 -2.80 0M538.3 68.8m-1.40 0a1.40 1.40 0 1 0 2.80 0a1.40 1.40 0 1 0 -2.80 0M536.8 74.5m-1.40 0a1.40 1.40 0 1 0 2.80 0a1.40 1.40 0 1 0 -2.80 0M531.5 88.2m-1.40 0a1.40 1.40 0 1 0 2.80 0a1.40 1.40 0 1 0 -2.80 0M531.2 94.8m-1.40 0a1.40 1.40 0 1 0 2.80 0a1.40 1.40 0 1 0 -2.80 0M537.5 100.6m-1.40 0a1.40 1.40 0 1 0 2.80 0a1.40 1.40 0 1 0 -2.80 0M538.8 100.9m-1.40 0a1.40 1.40 0 1 0 2.80 0a1.40 1.40 0 1 0 -2.80 0M536.8 101.7m-1.40 0a1.40 1.40 0 1 0 2.80 0a1.40 1.40 0 1 0 -2.80 0M533.0 102.4m-1.40 0a1.40 1.40 0 1 0 2.80 0a1.40 1.40 0 1 0 -2.80 0M531.5 103.2m-1.40 0a1.40 1.40 0 1 0 2.80 0a1.40 1.40 0 1 0 -2.80 0M530.0 103.9m-1.40 0a1.40 1.40 0 1 0 2.80 0a1.40 1.40 0 1 0 -2.80 0M534.5 103.9m-1.40 0a1.40 1.40 0 1 0 2.80 0a1.40 1.40 0 1 0 -2.80 0M536.0 105.5m-1.40 0a1.40 1.40 0 1 0 2.80 0a1.40 1.40 0 1 0 -2.80 0M533.0 105.5m-1.40 0a1.40 1.40 0 1 0 2.80 0a1.40 1.40 0 1 0 -2.80 0M535.3 107.0m-1.40 0a1.40 1.40 0 1 0 2.80 0a1.40 1.40 0 1 0 -2.80 0M537.5 106.2m-1.40 0a1.40 1.40 0 1 0 2.80 0a1.40 1.40 0 1 0 -2.80 0M539.1 107.7m-1.40 0a1.40 1.40 0 1 0 2.80 0a1.40 1.40 0 1 0 -2.80 0M540.6 108.5m-1.40 0a1.40 1.40 0 1 0 2.80 0a1.40 1.40 0 1 0 -2.80 0M542.1 108.8m-1.40 0a1.40 1.40 0 1 0 2.80 0a1.40 1.40 0 1 0 -2.80 0M528.5 108.8m-1.40 0a1.40 1.40 0 1 0 2.80 0a1.40 1.40 0 1 0 -2.80 0M530.0 108.5m-1.40 0a1.40 1.40 0 1 0 2.80 0a1.40 1.40 0 1 0 -2.80 0M531.5 108.2m-1.40 0a1.40 1.40 0 1 0 2.80 0a1.40 1.40 0 1 0 -2.80 0M533.8 108.8m-1.40 0a1.40 1.40 0 1 0 2.80 0a1.40 1.40 0 1 0 -2.80 0M510.3 109.2m-1.40 0a1.40 1.40 0 1 0 2.80 0a1.40 1.40 0 1 0 -2.80 0M514.8 108.2m-1.40 0a1.40 1.40 0 1 0 2.80 0a1.40 1.40 0 1 0 -2.80 0M520.1 108.2m-1.40 0a1.40 1.40 0 1 0 2.80 0a1.40 1.40 0 1 0 -2.80 0M523.9 108.5m-1.40 0a1.40 1.40 0 1 0 2.80 0a1.40 1.40 0 1 0 -2.80 0M523.8 112.6m-1.40 0a1.40 1.40 0 1 0 2.80 0a1.40 1.40 0 1 0 -2.80 0M526.4 111.8m-1.40 0a1.40 1.40 0 1 0 2.80 0a1.40 1.40 0 1 0 -2.80 0M528.0 110.9m-1.40 0a1.40 1.40 0 1 0 2.80 0a1.40 1.40 0 1 0 -2.80 0M531.4 110.2m-1.40 0a1.40 1.40 0 1 0 2.80 0a1.40 1.40 0 1 0 -2.80 0M532.0 109.2m-1.40 0a1.40 1.40 0 1 0 2.80 0a1.40 1.40 0 1 0 -2.80 0M534.0 108.2m-1.40 0a1.40 1.40 0 1 0 2.80 0a1.40 1.40 0 1 0 -2.80 0M535.3 109.6m-1.40 0a1.40 1.40 0 1 0 2.80 0a1.40 1.40 0 1 0 -2.80 0M536.4 109.7m-1.40 0a1.40 1.40 0 1 0 2.80 0a1.40 1.40 0 1 0 -2.80 0M539.4 109.5m-1.40 0a1.40 1.40 0 1 0 2.80 0a1.40 1.40 0 1 0 -2.80 0M540.0 111.3m-1.40 0a1.40 1.40 0 1 0 2.80 0a1.40 1.40 0 1 0 -2.80 0M543.2 114.1m-1.40 0a1.40 1.40 0 1 0 2.80 0a1.40 1.40 0 1 0 -2.80 0M542.6 114.3m-1.40 0a1.40 1.40 0 1 0 2.80 0a1.40 1.40 0 1 0 -2.80 0M544.8 117.7m-1.40 0a1.40 1.40 0 1 0 2.80 0a1.40 1.40 0 1 0 -2.80 0M546.4 117.7m-1.40 0a1.40 1.40 0 1 0 2.80 0a1.40 1.40 0 1 0 -2.80 0M549.8 117.8m-1.40 0a1.40 1.40 0 1 0 2.80 0a1.40 1.40 0 1 0 -2.80 0M548.9 119.1m-1.40 0a1.40 1.40 0 1 0 2.80 0a1.40 1.40 0 1 0 -2.80 0M548.1 121.3m-1.40 0a1.40 1.40 0 1 0 2.80 0a1.40 1.40 0 1 0 -2.80 0M546.9 122.8m-1.40 0a1.40 1.40 0 1 0 2.80 0a1.40 1.40 0 1 0 -2.80 0M545.4 121.9m-1.40 0a1.40 1.40 0 1 0 2.80 0a1.40 1.40 0 1 0 -2.80 0M542.7 123.6m-1.40 0a1.40 1.40 0 1 0 2.80 0a1.40 1.40 0 1 0 -2.80 0M540.9 122.9m-1.40 0a1.40 1.40 0 1 0 2.80 0a1.40 1.40 0 1 0 -2.80 0M538.1 124.4m-1.40 0a1.40 1.40 0 1 0 2.80 0a1.40 1.40 0 1 0 -2.80 0M536.1 124.4m-1.40 0a1.40 1.40 0 1 0 2.80 0a1.40 1.40 0 1 0 -2.80 0M531.0 123.8m-1.40 0a1.40 1.40 0 1 0 2.80 0a1.40 1.40 0 1 0 -2.80 0M531.2 123.7m-1.40 0a1.40 1.40 0 1 0 2.80 0a1.40 1.40 0 1 0 -2.80 0M526.7 123.1m-1.40 0a1.40 1.40 0 1 0 2.80 0a1.40 1.40 0 1 0 -2.80 0M524.7 124.2m-1.40 0a1.40 1.40 0 1 0 2.80 0a1.40 1.40 0 1 0 -2.80 0M522.3 123.5m-1.40 0a1.40 1.40 0 1 0 2.80 0a1.40 1.40 0 1 0 -2.80 0M518.0 125.6m-1.40 0a1.40 1.40 0 1 0 2.80 0a1.40 1.40 0 1 0 -2.80 0M517.6 124.2m-1.40 0a1.40 1.40 0 1 0 2.80 0a1.40 1.40 0 1 0 -2.80 0M515.1 123.0m-1.40 0a1.40 1.40 0 1 0 2.80 0a1.40 1.40 0 1 0 -2.80 0M515.6 120.3m-1.40 0a1.40 1.40 0 1 0 2.80 0a1.40 1.40 0 1 0 -2.80 0M517.5 119.7m-1.40 0a1.40 1.40 0 1 0 2.80 0a1.40 1.40 0 1 0 -2.80 0M519.7 119.2m-1.40 0a1.40 1.40 0 1 0 2.80 0a1.40 1.40 0 1 0 -2.80 0M518.5 117.9m-1.40 0a1.40 1.40 0 1 0 2.80 0a1.40 1.40 0 1 0 -2.80 0M517.3 117.6m-1.40 0a1.40 1.40 0 1 0 2.80 0a1.40 1.40 0 1 0 -2.80 0M516.1 116.8m-1.40 0a1.40 1.40 0 1 0 2.80 0a1.40 1.40 0 1 0 -2.80 0M518.6 115.4m-1.40 0a1.40 1.40 0 1 0 2.80 0a1.40 1.40 0 1 0 -2.80 0M520.1 115.8m-1.40 0a1.40 1.40 0 1 0 2.80 0a1.40 1.40 0 1 0 -2.80 0M522.4 116.0m-1.40 0a1.40 1.40 0 1 0 2.80 0a1.40 1.40 0 1 0 -2.80 0M522.5 115.0m-1.40 0a1.40 1.40 0 1 0 2.80 0a1.40 1.40 0 1 0 -2.80 0M529.4 103.5m-1.40 0a1.40 1.40 0 1 0 2.80 0a1.40 1.40 0 1 0 -2.80 0M531.2 102.9m-1.40 0a1.40 1.40 0 1 0 2.80 0a1.40 1.40 0 1 0 -2.80 0M536.1 100.5m-1.40 0a1.40 1.40 0 1 0 2.80 0a1.40 1.40 0 1 0 -2.80 0M537.9 99.9m-1.40 0a1.40 1.40 0 1 0 2.80 0a1.40 1.40 0 1 0 -2.80 0M539.1 101.1m-1.40 0a1.40 1.40 0 1 0 2.80 0a1.40 1.40 0 1 0 -2.80 0M531.8 102.3m-1.40 0a1.40 1.40 0 1 0 2.80 0a1.40 1.40 0 1 0 -2.80 0M515.5 107.7m-1.40 0a1.40 1.40 0 1 0 2.80 0a1.40 1.40 0 1 0 -2.80 0M520.3 107.7m-1.40 0a1.40 1.40 0 1 0 2.80 0a1.40 1.40 0 1 0 -2.80 0M524.0 108.3m-1.40 0a1.40 1.40 0 1 0 2.80 0a1.40 1.40 0 1 0 -2.80 0M511.2 109.6m-1.40 0a1.40 1.40 0 1 0 2.80 0a1.40 1.40 0 1 0 -2.80 0M511.8 115.0m-1.40 0a1.40 1.40 0 1 0 2.80 0a1.40 1.40 0 1 0 -2.80 0M512.4 116.2m-1.40 0a1.40 1.40 0 1 0 2.80 0a1.40 1.40 0 1 0 -2.80 0M514.9 124.1m-1.40 0a1.40 1.40 0 1 0 2.80 0a1.40 1.40 0 1 0 -2.80 0M519.1 130.2m-1.40 0a1.40 1.40 0 1 0 2.80 0a1.40 1.40 0 1 0 -2.80 0M528.8 127.5m-1.40 0a1.40 1.40 0 1 0 2.80 0a1.40 1.40 0 1 0 -2.80 0M536.1 126.6m-1.40 0a1.40 1.40 0 1 0 2.80 0a1.40 1.40 0 1 0 -2.80 0M550.0 126.6m-1.40 0a1.40 1.40 0 1 0 2.80 0a1.40 1.40 0 1 0 -2.80 0M510.6 133.8m-1.40 0a1.40 1.40 0 1 0 2.80 0a1.40 1.40 0 1 0 -2.80 0M513.6 132.6m-1.40 0a1.40 1.40 0 1 0 2.80 0a1.40 1.40 0 1 0 -2.80 0M531.2 95.0m-1.40 0a1.40 1.40 0 1 0 2.80 0a1.40 1.40 0 1 0 -2.80 0M522.7 113.0m-1.40 0a1.40 1.40 0 1 0 2.80 0a1.40 1.40 0 1 0 -2.80 0M526.4 110.5m-1.40 0a1.40 1.40 0 1 0 2.80 0a1.40 1.40 0 1 0 -2.80 0M531.2 108.3m-1.40 0a1.40 1.40 0 1 0 2.80 0a1.40 1.40 0 1 0 -2.80 0M534.9 107.5m-1.40 0a1.40 1.40 0 1 0 2.80 0a1.40 1.40 0 1 0 -2.80 0M538.2 108.6m-1.40 0a1.40 1.40 0 1 0 2.80 0a1.40 1.40 0 1 0 -2.80 0M540.3 110.2m-1.40 0a1.40 1.40 0 1 0 2.80 0a1.40 1.40 0 1 0 -2.80 0M543.4 114.4m-1.40 0a1.40 1.40 0 1 0 2.80 0a1.40 1.40 0 1 0 -2.80 0M547.0 117.1m-1.40 0a1.40 1.40 0 1 0 2.80 0a1.40 1.40 0 1 0 -2.80 0M551.3 116.8m-1.40 0a1.40 1.40 0 1 0 2.80 0a1.40 1.40 0 1 0 -2.80 0M552.5 118.7m-1.40 0a1.40 1.40 0 1 0 2.80 0a1.40 1.40 0 1 0 -2.80 0M551.9 121.1m-1.40 0a1.40 1.40 0 1 0 2.80 0a1.40 1.40 0 1 0 -2.80 0M553.7 119.9m-1.40 0a1.40 1.40 0 1 0 2.80 0a1.40 1.40 0 1 0 -2.80 0M548.8 122.7m-1.40 0a1.40 1.40 0 1 0 2.80 0a1.40 1.40 0 1 0 -2.80 0M544.0 123.2m-1.40 0a1.40 1.40 0 1 0 2.80 0a1.40 1.40 0 1 0 -2.80 0M539.1 125.6m-1.40 0a1.40 1.40 0 1 0 2.80 0a1.40 1.40 0 1 0 -2.80 0M533.1 125.0m-1.40 0a1.40 1.40 0 1 0 2.80 0a1.40 1.40 0 1 0 -2.80 0M527.0 125.0m-1.40 0a1.40 1.40 0 1 0 2.80 0a1.40 1.40 0 1 0 -2.80 0M520.9 124.5m-1.40 0a1.40 1.40 0 1 0 2.80 0a1.40 1.40 0 1 0 -2.80 0M516.1 125.3m-1.40 0a1.40 1.40 0 1 0 2.80 0a1.40 1.40 0 1 0 -2.80 0M513.6 123.9m-1.40 0a1.40 1.40 0 1 0 2.80 0a1.40 1.40 0 1 0 -2.80 0M514.2 121.9m-1.40 0a1.40 1.40 0 1 0 2.80 0a1.40 1.40 0 1 0 -2.80 0M516.1 117.5m-1.40 0a1.40 1.40 0 1 0 2.80 0a1.40 1.40 0 1 0 -2.80 0M514.2 115.9m-1.40 0a1.40 1.40 0 1 0 2.80 0a1.40 1.40 0 1 0 -2.80 0M518.5 115.6m-1.40 0a1.40 1.40 0 1 0 2.80 0a1.40 1.40 0 1 0 -2.80 0M510.3 109.1m-1.40 0a1.40 1.40 0 1 0 2.80 0a1.40 1.40 0 1 0 -2.80 0M511.8 109.4m-1.40 0a1.40 1.40 0 1 0 2.80 0a1.40 1.40 0 1 0 -2.80 0M515.6 107.9m-1.40 0a1.40 1.40 0 1 0 2.80 0a1.40 1.40 0 1 0 -2.80 0M520.1 107.9m-1.40 0a1.40 1.40 0 1 0 2.80 0a1.40 1.40 0 1 0 -2.80 0M523.9 108.3m-1.40 0a1.40 1.40 0 1 0 2.80 0a1.40 1.40 0 1 0 -2.80 0M511.8 115.2m-1.40 0a1.40 1.40 0 1 0 2.80 0a1.40 1.40 0 1 0 -2.80 0M513.3 116.4m-1.40 0a1.40 1.40 0 1 0 2.80 0a1.40 1.40 0 1 0 -2.80 0M530.0 103.0m-1.40 0a1.40 1.40 0 1 0 2.80 0a1.40 1.40 0 1 0 -2.80 0M533.0 102.7m-1.40 0a1.40 1.40 0 1 0 2.80 0a1.40 1.40 0 1 0 -2.80 0M536.8 100.8m-1.40 0a1.40 1.40 0 1 0 2.80 0a1.40 1.40 0 1 0 -2.80 0M528.5 128.0m-1.40 0a1.40 1.40 0 1 0 2.80 0a1.40 1.40 0 1 0 -2.80 0M536.0 127.3m-1.40 0a1.40 1.40 0 1 0 2.80 0a1.40 1.40 0 1 0 -2.80 0M549.7 126.5m-1.40 0a1.40 1.40 0 1 0 2.80 0a1.40 1.40 0 1 0 -2.80 0M519.1 130.0m-1.40 0a1.40 1.40 0 1 0 2.80 0a1.40 1.40 0 1 0 -2.80 0M505.4 127.3m-1.40 0a1.40 1.40 0 1 0 2.80 0a1.40 1.40 0 1 0 -2.80 0M504.2 128.8m-1.40 0a1.40 1.40 0 1 0 2.80 0a1.40 1.40 0 1 0 -2.80 0M502.7 130.0m-1.40 0a1.40 1.40 0 1 0 2.80 0a1.40 1.40 0 1 0 -2.80 0M501.5 131.1m-1.40 0a1.40 1.40 0 1 0 2.80 0a1.40 1.40 0 1 0 -2.80 0M502.4 133.6m-1.40 0a1.40 1.40 0 1 0 2.80 0a1.40 1.40 0 1 0 -2.80 0M492.8 131.5m-1.40 0a1.40 1.40 0 1 0 2.80 0a1.40 1.40 0 1 0 -2.80 0M497.4 136.7m-1.40 0a1.40 1.40 0 1 0 2.80 0a1.40 1.40 0 1 0 -2.80 0M508.5 136.4m-1.40 0a1.40 1.40 0 1 0 2.80 0a1.40 1.40 0 1 0 -2.80 0M511.0 134.5m-1.40 0a1.40 1.40 0 1 0 2.80 0a1.40 1.40 0 1 0 -2.80 0M514.1 133.0m-1.40 0a1.40 1.40 0 1 0 2.80 0a1.40 1.40 0 1 0 -2.80 0M514.1 136.7m-1.40 0a1.40 1.40 0 1 0 2.80 0a1.40 1.40 0 1 0 -2.80 0M519.4 109.4m-1.40 0a1.40 1.40 0 1 0 2.80 0a1.40 1.40 0 1 0 -2.80 0M521.6 111.4m-1.40 0a1.40 1.40 0 1 0 2.80 0a1.40 1.40 0 1 0 -2.80 0M542.1 107.6m-1.40 0a1.40 1.40 0 1 0 2.80 0a1.40 1.40 0 1 0 -2.80 0M541.3 110.9m-1.40 0a1.40 1.40 0 1 0 2.80 0a1.40 1.40 0 1 0 -2.80 0M542.8 111.4m-1.40 0a1.40 1.40 0 1 0 2.80 0a1.40 1.40 0 1 0 -2.80 0M553.0 116.7m-1.40 0a1.40 1.40 0 1 0 2.80 0a1.40 1.40 0 1 0 -2.80 0M554.5 117.4m-1.40 0a1.40 1.40 0 1 0 2.80 0a1.40 1.40 0 1 0 -2.80 0M556.0 117.0m-1.40 0a1.40 1.40 0 1 0 2.80 0a1.40 1.40 0 1 0 -2.80 0M557.5 116.7m-1.40 0a1.40 1.40 0 1 0 2.80 0a1.40 1.40 0 1 0 -2.80 0M559.1 117.4m-1.40 0a1.40 1.40 0 1 0 2.80 0a1.40 1.40 0 1 0 -2.80 0M560.6 118.2m-1.40 0a1.40 1.40 0 1 0 2.80 0a1.40 1.40 0 1 0 -2.80 0M553.8 121.2m-1.40 0a1.40 1.40 0 1 0 2.80 0a1.40 1.40 0 1 0 -2.80 0M555.3 122.0m-1.40 0a1.40 1.40 0 1 0 2.80 0a1.40 1.40 0 1 0 -2.80 0M556.8 122.7m-1.40 0a1.40 1.40 0 1 0 2.80 0a1.40 1.40 0 1 0 -2.80 0M558.3 123.5m-1.40 0a1.40 1.40 0 1 0 2.80 0a1.40 1.40 0 1 0 -2.80 0M559.8 122.4m-1.40 0a1.40 1.40 0 1 0 2.80 0a1.40 1.40 0 1 0 -2.80 0M564.4 119.7m-1.40 0a1.40 1.40 0 1 0 2.80 0a1.40 1.40 0 1 0 -2.80 0M565.1 123.5m-1.40 0a1.40 1.40 0 1 0 2.80 0a1.40 1.40 0 1 0 -2.80 0M569.7 120.9m-1.40 0a1.40 1.40 0 1 0 2.80 0a1.40 1.40 0 1 0 -2.80 0M570.4 122.7m-1.40 0a1.40 1.40 0 1 0 2.80 0a1.40 1.40 0 1 0 -2.80 0M571.2 115.2m-1.40 0a1.40 1.40 0 1 0 2.80 0a1.40 1.40 0 1 0 -2.80 0M571.9 116.7m-1.40 0a1.40 1.40 0 1 0 2.80 0a1.40 1.40 0 1 0 -2.80 0M572.7 118.9m-1.40 0a1.40 1.40 0 1 0 2.80 0a1.40 1.40 0 1 0 -2.80 0M573.5 120.5m-1.40 0a1.40 1.40 0 1 0 2.80 0a1.40 1.40 0 1 0 -2.80 0M574.2 122.0m-1.40 0a1.40 1.40 0 1 0 2.80 0a1.40 1.40 0 1 0 -2.80 0M575.7 122.7m-1.40 0a1.40 1.40 0 1 0 2.80 0a1.40 1.40 0 1 0 -2.80 0M577.2 123.5m-1.40 0a1.40 1.40 0 1 0 2.80 0a1.40 1.40 0 1 0 -2.80 0M578.8 124.2m-1.40 0a1.40 1.40 0 1 0 2.80 0a1.40 1.40 0 1 0 -2.80 0M580.3 125.0m-1.40 0a1.40 1.40 0 1 0 2.80 0a1.40 1.40 0 1 0 -2.80 0M581.0 125.8m-1.40 0a1.40 1.40 0 1 0 2.80 0a1.40 1.40 0 1 0 -2.80 0M575.7 119.7m-1.40 0a1.40 1.40 0 1 0 2.80 0a1.40 1.40 0 1 0 -2.80 0M578.0 121.2m-1.40 0a1.40 1.40 0 1 0 2.80 0a1.40 1.40 0 1 0 -2.80 0M579.5 122.0m-1.40 0a1.40 1.40 0 1 0 2.80 0a1.40 1.40 0 1 0 -2.80 0M581.8 122.7m-1.40 0a1.40 1.40 0 1 0 2.80 0a1.40 1.40 0 1 0 -2.80 0M581.8 118.2m-1.40 0a1.40 1.40 0 1 0 2.80 0a1.40 1.40 0 1 0 -2.80 0M583.0 117.0m-1.40 0a1.40 1.40 0 1 0 2.80 0a1.40 1.40 0 1 0 -2.80 0M585.6 122.0m-1.40 0a1.40 1.40 0 1 0 2.80 0a1.40 1.40 0 1 0 -2.80 0M587.8 119.7m-1.40 0a1.40 1.40 0 1 0 2.80 0a1.40 1.40 0 1 0 -2.80 0M589.4 118.5m-1.40 0a1.40 1.40 0 1 0 2.80 0a1.40 1.40 0 1 0 -2.80 0M590.9 117.9m-1.40 0a1.40 1.40 0 1 0 2.80 0a1.40 1.40 0 1 0 -2.80 0M592.4 118.2m-1.40 0a1.40 1.40 0 1 0 2.80 0a1.40 1.40 0 1 0 -2.80 0M593.2 120.5m-1.40 0a1.40 1.40 0 1 0 2.80 0a1.40 1.40 0 1 0 -2.80 0M593.9 122.7m-1.40 0a1.40 1.40 0 1 0 2.80 0a1.40 1.40 0 1 0 -2.80 0M595.4 123.5m-1.40 0a1.40 1.40 0 1 0 2.80 0a1.40 1.40 0 1 0 -2.80 0M596.9 124.2m-1.40 0a1.40 1.40 0 1 0 2.80 0a1.40 1.40 0 1 0 -2.80 0M598.5 123.9m-1.40 0a1.40 1.40 0 1 0 2.80 0a1.40 1.40 0 1 0 -2.80 0M591.6 122.0m-1.40 0a1.40 1.40 0 1 0 2.80 0a1.40 1.40 0 1 0 -2.80 0M594.7 121.2m-1.40 0a1.40 1.40 0 1 0 2.80 0a1.40 1.40 0 1 0 -2.80 0M601.2 126.1m-1.40 0a1.40 1.40 0 1 0 2.80 0a1.40 1.40 0 1 0 -2.80 0M608.3 127.3m-1.40 0a1.40 1.40 0 1 0 2.80 0a1.40 1.40 0 1 0 -2.80 0M611.0 123.8m-1.40 0a1.40 1.40 0 1 0 2.80 0a1.40 1.40 0 1 0 -2.80 0M613.6 122.4m-1.40 0a1.40 1.40 0 1 0 2.80 0a1.40 1.40 0 1 0 -2.80 0M614.4 123.0m-1.40 0a1.40 1.40 0 1 0 2.80 0a1.40 1.40 0 1 0 -2.80 0M622.7 123.6m-1.40 0a1.40 1.40 0 1 0 2.80 0a1.40 1.40 0 1 0 -2.80 0M566.6 127.0m-1.40 0a1.40 1.40 0 1 0 2.80 0a1.40 1.40 0 1 0 -2.80 0M568.2 128.0m-1.40 0a1.40 1.40 0 1 0 2.80 0a1.40 1.40 0 1 0 -2.80 0M569.7 129.1m-1.40 0a1.40 1.40 0 1 0 2.80 0a1.40 1.40 0 1 0 -2.80 0M571.2 130.3m-1.40 0a1.40 1.40 0 1 0 2.80 0a1.40 1.40 0 1 0 -2.80 0M572.7 131.1m-1.40 0a1.40 1.40 0 1 0 2.80 0a1.40 1.40 0 1 0 -2.80 0M574.2 130.3m-1.40 0a1.40 1.40 0 1 0 2.80 0a1.40 1.40 0 1 0 -2.80 0M575.7 131.1m-1.40 0a1.40 1.40 0 1 0 2.80 0a1.40 1.40 0 1 0 -2.80 0M577.2 131.5m-1.40 0a1.40 1.40 0 1 0 2.80 0a1.40 1.40 0 1 0 -2.80 0M578.8 131.1m-1.40 0a1.40 1.40 0 1 0 2.80 0a1.40 1.40 0 1 0 -2.80 0M580.3 131.8m-1.40 0a1.40 1.40 0 1 0 2.80 0a1.40 1.40 0 1 0 -2.80 0M581.8 131.1m-1.40 0a1.40 1.40 0 1 0 2.80 0a1.40 1.40 0 1 0 -2.80 0M583.3 131.8m-1.40 0a1.40 1.40 0 1 0 2.80 0a1.40 1.40 0 1 0 -2.80 0M571.9 132.1m-1.40 0a1.40 1.40 0 1 0 2.80 0a1.40 1.40 0 1 0 -2.80 0M575.0 132.1m-1.40 0a1.40 1.40 0 1 0 2.80 0a1.40 1.40 0 1 0 -2.80 0M592.1 130.8m-1.40 0a1.40 1.40 0 1 0 2.80 0a1.40 1.40 0 1 0 -2.80 0M593.9 130.3m-1.40 0a1.40 1.40 0 1 0 2.80 0a1.40 1.40 0 1 0 -2.80 0M596.2 130.6m-1.40 0a1.40 1.40 0 1 0 2.80 0a1.40 1.40 0 1 0 -2.80 0M583.3 139.1m-1.40 0a1.40 1.40 0 1 0 2.80 0a1.40 1.40 0 1 0 -2.80 0M584.1 140.2m-1.40 0a1.40 1.40 0 1 0 2.80 0a1.40 1.40 0 1 0 -2.80 0M594.7 141.8m-1.40 0a1.40 1.40 0 1 0 2.80 0a1.40 1.40 0 1 0 -2.80 0M598.5 140.6m-1.40 0a1.40 1.40 0 1 0 2.80 0a1.40 1.40 0 1 0 -2.80 0M601.2 142.9m-1.40 0a1.40 1.40 0 1 0 2.80 0a1.40 1.40 0 1 0 -2.80 0M560.1 118.8m-1.40 0a1.40 1.40 0 1 0 2.80 0a1.40 1.40 0 1 0 -2.80 0M552.7 123.5m-1.40 0a1.40 1.40 0 1 0 2.80 0a1.40 1.40 0 1 0 -2.80 0M559.1 117.3m-1.40 0a1.40 1.40 0 1 0 2.80 0a1.40 1.40 0 1 0 -2.80 0M547.6 117.5m-1.40 0a1.40 1.40 0 1 0 2.80 0a1.40 1.40 0 1 0 -2.80 0M548.0 117.8m-1.40 0a1.40 1.40 0 1 0 2.80 0a1.40 1.40 0 1 0 -2.80 0M546.0 120.8m-1.40 0a1.40 1.40 0 1 0 2.80 0a1.40 1.40 0 1 0 -2.80 0M555.7 118.8m-1.40 0a1.40 1.40 0 1 0 2.80 0a1.40 1.40 0 1 0 -2.80 0M561.7 117.9m-1.40 0a1.40 1.40 0 1 0 2.80 0a1.40 1.40 0 1 0 -2.80 0M543.3 117.9m-1.40 0a1.40 1.40 0 1 0 2.80 0a1.40 1.40 0 1 0 -2.80 0M559.2 122.0m-1.40 0a1.40 1.40 0 1 0 2.80 0a1.40 1.40 0 1 0 -2.80 0M549.1 118.0m-1.40 0a1.40 1.40 0 1 0 2.80 0a1.40 1.40 0 1 0 -2.80 0M556.0 120.4m-1.40 0a1.40 1.40 0 1 0 2.80 0a1.40 1.40 0 1 0 -2.80 0M559.3 119.9m-1.40 0a1.40 1.40 0 1 0 2.80 0a1.40 1.40 0 1 0 -2.80 0M547.4 120.5m-1.40 0a1.40 1.40 0 1 0 2.80 0a1.40 1.40 0 1 0 -2.80 0M557.6 120.8m-1.40 0a1.40 1.40 0 1 0 2.80 0a1.40 1.40 0 1 0 -2.80 0M552.2 120.7m-1.40 0a1.40 1.40 0 1 0 2.80 0a1.40 1.40 0 1 0 -2.80 0M546.5 118.2m-1.40 0a1.40 1.40 0 1 0 2.80 0a1.40 1.40 0 1 0 -2.80 0M547.0 121.2m-1.40 0a1.40 1.40 0 1 0 2.80 0a1.40 1.40 0 1 0 -2.80 0M561.8 118.3m-1.40 0a1.40 1.40 0 1 0 2.80 0a1.40 1.40 0 1 0 -2.80 0M549.9 118.5m-1.40 0a1.40 1.40 0 1 0 2.80 0a1.40 1.40 0 1 0 -2.80 0M552.1 118.7m-1.40 0a1.40 1.40 0 1 0 2.80 0a1.40 1.40 0 1 0 -2.80 0M547.7 123.5m-1.40 0a1.40 1.40 0 1 0 2.80 0a1.40 1.40 0 1 0 -2.80 0M530.3 102.7m-1.40 0a1.40 1.40 0 1 0 2.80 0a1.40 1.40 0 1 0 -2.80 0M532.1 102.1m-1.40 0a1.40 1.40 0 1 0 2.80 0a1.40 1.40 0 1 0 -2.80 0M535.2 101.5m-1.40 0a1.40 1.40 0 1 0 2.80 0a1.40 1.40 0 1 0 -2.80 0M536.4 100.9m-1.40 0a1.40 1.40 0 1 0 2.80 0a1.40 1.40 0 1 0 -2.80 0M537.6 100.3m-1.40 0a1.40 1.40 0 1 0 2.80 0a1.40 1.40 0 1 0 -2.80 0M538.8 100.9m-1.40 0a1.40 1.40 0 1 0 2.80 0a1.40 1.40 0 1 0 -2.80 0M533.9 104.5m-1.40 0a1.40 1.40 0 1 0 2.80 0a1.40 1.40 0 1 0 -2.80 0M536.4 105.2m-1.40 0a1.40 1.40 0 1 0 2.80 0a1.40 1.40 0 1 0 -2.80 0M538.8 105.8m-1.40 0a1.40 1.40 0 1 0 2.80 0a1.40 1.40 0 1 0 -2.80 0M540.0 107.0m-1.40 0a1.40 1.40 0 1 0 2.80 0a1.40 1.40 0 1 0 -2.80 0M531.5 105.8m-1.40 0a1.40 1.40 0 1 0 2.80 0a1.40 1.40 0 1 0 -2.80 0" fill="#ff7f0e"/>
</g>
<rect x="483.5" y="10.5" width="201.5" height="139.0" fill="none" stroke="#a8a8a8" stroke-width="1"/>
<line x1="539.3" y1="149.5" x2="539.3" y2="151.1" stroke="#a8a8a8" stroke-width="0.8"/>
<text x="539.3" y="159.1" font-size="10.0" text-anchor="middle">0</text>
<line x1="598.2" y1="149.5" x2="598.2" y2="151.1" stroke="#a8a8a8" stroke-width="0.8"/>
<text x="598.2" y="159.1" font-size="10.0" text-anchor="middle">100</text>
<line x1="657.1" y1="149.5" x2="657.1" y2="151.1" stroke="#a8a8a8" stroke-width="0.8"/>
<text x="657.1" y="159.1" font-size="10.0" text-anchor="middle">200</text>
<line x1="481.9" y1="14.7" x2="483.5" y2="14.7" stroke="#a8a8a8" stroke-width="0.8"/>
<text x="480.9" y="18.1" font-size="10.0" text-anchor="end">300</text>
<line x1="481.9" y1="48.6" x2="483.5" y2="48.6" stroke="#a8a8a8" stroke-width="0.8"/>
<text x="480.9" y="52.0" font-size="10.0" text-anchor="end">200</text>
<line x1="481.9" y1="82.5" x2="483.5" y2="82.5" stroke="#a8a8a8" stroke-width="0.8"/>
<text x="480.9" y="85.9" font-size="10.0" text-anchor="end">100</text>
<line x1="481.9" y1="116.4" x2="483.5" y2="116.4" stroke="#a8a8a8" stroke-width="0.8"/>
<text x="480.9" y="119.8" font-size="10.0" text-anchor="end">0</text>
<text x="584.2" y="8.3" font-size="11.8" text-anchor="middle">Isomap</text>
<rect x="639.9" y="15.3" width="40.3" height="30.6" rx="2" fill="#fff" fill-opacity="0.8" stroke="#e4e4e4" stroke-width="0.8"/>
<circle cx="653.7" cy="23.5" r="1.2" fill="#1f77b4"/>
<circle cx="653.7" cy="37.2" r="1.2" fill="#ff7f0e"/>
<text x="673.5" y="26.9" font-size="10.0" text-anchor="middle">1</text>
<text x="673.5" y="40.6" font-size="10.0" text-anchor="middle">2</text>
<clipPath id="c3"><rect x="25.0" y="181.5" width="201.5" height="139.0"/></clipPath>
<g clip-path="url(#c3)">
<path d="M110.3 261.4L113.7 260.4L116.5 259.9L118.7 261.2L120.8 262.3L123.5 262.8L125.9 261.5L126.9 263.2L126.2 266.0L125.0 267.6L126.2 269.2L126.9 272.5L125.8 275.3L123.6 276.9L120.9 277.4L118.1 278.0L115.4 277.4L113.2 276.4L111.5 274.7L110.5 272.5L109.9 270.3L111.2 268.1L111.1 264.9Z" fill="#ff7f0e"/>
<path d="M140.9 187.8m-1.40 0a1.40 1.40 0 1 0 2.80 0a1.40 1.40 0 1 0 -2.80 0M34.1 230.5m-1.40 0a1.40 1.40 0 1 0 2.80 0a1.40 1.40 0 1 0 -2.80 0M103.3 236.4m-1.40 0a1.40 1.40 0 1 0 2.80 0a1.40 1.40 0 1 0 -2.80 0M86.7 243.9m-1.40 0a1.40 1.40 0 1 0 2.80 0a1.40 1.40 0 1 0 -2.80 0M115.6 245.0m-1.40 0a1.40 1.40 0 1 0 2.80 0a1.40 1.40 0 1 0 -2.80 0M107.7 250.9m-1.40 0a1.40 1.40 0 1 0 2.80 0a1.40 1.40 0 1 0 -2.80 0M114.7 253.5m-1.40 0a1.40 1.40 0 1 0 2.80 0a1.40 1.40 0 1 0 -2.80 0M72.4 267.7m-1.40 0a1.40 1.40 0 1 0 2.80 0a1.40 1.40 0 1 0 -2.80 0M94.4 266.2m-1.40 0a1.40 1.40 0 1 0 2.80 0a1.40 1.40 0 1 0 -2.80 0M95.0 268.6m-1.40 0a1.40 1.40 0 1 0 2.80 0a1.40 1.40 0 1 0 -2.80 0M110.1 262.1m-1.40 0a1.40 1.40 0 1 0 2.80 0a1.40 1.40 0 1 0 -2.80 0M113.4 260.9m-1.40 0a1.40 1.40 0 1 0 2.80 0a1.40 1.40 0 1 0 -2.80 0M114.7 259.6m-1.40 0a1.40 1.40 0 1 0 2.80 0a1.40 1.40 0 1 0 -2.80 0M116.9 260.8m-1.40 0a1.40 1.40 0 1 0 2.80 0a1.40 1.40 0 1 0 -2.80 0M119.8 261.6m-1.40 0a1.40 1.40 0 1 0 2.80 0a1.40 1.40 0 1 0 -2.80 0M120.2 263.1m-1.40 0a1.40 1.40 0 1 0 2.80 0a1.40 1.40 0 1 0 -2.80 0M123.8 262.1m-1.40 0a1.40 1.40 0 1 0 2.80 0a1.40 1.40 0 1 0 -2.80 0M125.5 261.1m-1.40 0a1.40 1.40 0 1 0 2.80 0a1.40 1.40 0 1 0 -2.80 0M127.2 264.7m-1.40 0a1.40 1.40 0 1 0 2.80 0a1.40 1.40 0 1 0 -2.80 0M125.2 266.3m-1.40 0a1.40 1.40 0 1 0 2.80 0a1.40 1.40 0 1 0 -2.80 0M125.3 269.1m-1.40 0a1.40 1.40 0 1 0 2.80 0a1.40 1.40 0 1 0 -2.80 0M125.4 268.7m-1.40 0a1.40 1.40 0 1 0 2.80 0a1.40 1.40 0 1 0 -2.80 0M126.1 271.2m-1.40 0a1.40 1.40 0 1 0 2.80 0a1.40 1.40 0 1 0 -2.80 0M126.4 275.1m-1.40 0a1.40 1.40 0 1 0 2.80 0a1.40 1.40 0 1 0 -2.80 0M124.7 275.8m-1.40 0a1.40 1.40 0 1 0 2.80 0a1.40 1.40 0 1 0 -2.80 0M121.1 277.1m-1.40 0a1.40 1.40 0 1 0 2.80 0a1.40 1.40 0 1 0 -2.80 0M119.4 276.8m-1.40 0a1.40 1.40 0 1 0 2.80 0a1.40 1.40 0 1 0 -2.80 0M118.0 278.7m-1.40 0a1.40 1.40 0 1 0 2.80 0a1.40 1.40 0 1 0 -2.80 0M112.5 276.6m-1.40 0a1.40 1.40 0 1 0 2.80 0a1.40 1.40 0 1 0 -2.80 0M112.9 276.1m-1.40 0a1.40 1.40 0 1 0 2.80 0a1.40 1.40 0 1 0 -2.80 0M110.6 274.3m-1.40 0a1.40 1.40 0 1 0 2.80 0a1.40 1.40 0 1 0 -2.80 0M111.1 273.1m-1.40 0a1.40 1.40 0 1 0 2.80 0a1.40 1.40 0 1 0 -2.80 0M110.5 270.9m-1.40 0a1.40 1.40 0 1 0 2.80 0a1.40 1.40 0 1 0 -2.80 0M111.3 268.0m-1.40 0a1.40 1.40 0 1 0 2.80 0a1.40 1.40 0 1 0 -2.80 0M111.7 266.3m-1.40 0a1.40 1.40 0 1 0 2.80 0a1.40 1.40 0 1 0 -2.80 0M111.5 264.3m-1.40 0a1.40 1.40 0 1 0 2.80 0a1.40 1.40 0 1 0 -2.80 0M111.1 261.2m-1.40 0a1.40 1.40 0 1 0 2.80 0a1.40 1.40 0 1 0 -2.80 0M115.6 245.0m-1.40 0a1.40 1.40 0 1 0 2.80 0a1.40 1.40 0 1 0 -2.80 0M107.7 250.8m-1.40 0a1.40 1.40 0 1 0 2.80 0a1.40 1.40 0 1 0 -2.80 0M114.4 253.5m-1.40 0a1.40 1.40 0 1 0 2.80 0a1.40 1.40 0 1 0 -2.80 0M119.3 256.5m-1.40 0a1.40 1.40 0 1 0 2.80 0a1.40 1.40 0 1 0 -2.80 0M123.5 254.7m-1.40 0a1.40 1.40 0 1 0 2.80 0a1.40 1.40 0 1 0 -2.80 0M124.7 253.7m-1.40 0a1.40 1.40 0 1 0 2.80 0a1.40 1.40 0 1 0 -2.80 0M125.3 257.7m-1.40 0a1.40 1.40 0 1 0 2.80 0a1.40 1.40 0 1 0 -2.80 0M129.0 257.1m-1.40 0a1.40 1.40 0 1 0 2.80 0a1.40 1.40 0 1 0 -2.80 0M131.4 249.9m-1.40 0a1.40 1.40 0 1 0 2.80 0a1.40 1.40 0 1 0 -2.80 0M116.2 257.7m-1.40 0a1.40 1.40 0 1 0 2.80 0a1.40 1.40 0 1 0 -2.80 0M134.4 259.6m-1.40 0a1.40 1.40 0 1 0 2.80 0a1.40 1.40 0 1 0 -2.80 0M130.8 261.4m-1.40 0a1.40 1.40 0 1 0 2.80 0a1.40 1.40 0 1 0 -2.80 0M132.6 262.0m-1.40 0a1.40 1.40 0 1 0 2.80 0a1.40 1.40 0 1 0 -2.80 0M99.6 261.6m-1.40 0a1.40 1.40 0 1 0 2.80 0a1.40 1.40 0 1 0 -2.80 0M105.3 263.0m-1.40 0a1.40 1.40 0 1 0 2.80 0a1.40 1.40 0 1 0 -2.80 0M106.5 263.2m-1.40 0a1.40 1.40 0 1 0 2.80 0a1.40 1.40 0 1 0 -2.80 0M102.3 266.8m-1.40 0a1.40 1.40 0 1 0 2.80 0a1.40 1.40 0 1 0 -2.80 0M103.5 268.1m-1.40 0a1.40 1.40 0 1 0 2.80 0a1.40 1.40 0 1 0 -2.80 0M105.3 268.7m-1.40 0a1.40 1.40 0 1 0 2.80 0a1.40 1.40 0 1 0 -2.80 0M107.1 269.9m-1.40 0a1.40 1.40 0 1 0 2.80 0a1.40 1.40 0 1 0 -2.80 0M109.0 266.8m-1.40 0a1.40 1.40 0 1 0 2.80 0a1.40 1.40 0 1 0 -2.80 0M104.7 270.5m-1.40 0a1.40 1.40 0 1 0 2.80 0a1.40 1.40 0 1 0 -2.80 0M104.1 274.1m-1.40 0a1.40 1.40 0 1 0 2.80 0a1.40 1.40 0 1 0 -2.80 0M105.9 273.5m-1.40 0a1.40 1.40 0 1 0 2.80 0a1.40 1.40 0 1 0 -2.80 0M132.6 265.6m-1.40 0a1.40 1.40 0 1 0 2.80 0a1.40 1.40 0 1 0 -2.80 0M133.2 268.1m-1.40 0a1.40 1.40 0 1 0 2.80 0a1.40 1.40 0 1 0 -2.80 0M133.8 271.1m-1.40 0a1.40 1.40 0 1 0 2.80 0a1.40 1.40 0 1 0 -2.80 0M133.8 275.3m-1.40 0a1.40 1.40 0 1 0 2.80 0a1.40 1.40 0 1 0 -2.80 0M132.6 276.6m-1.40 0a1.40 1.40 0 1 0 2.80 0a1.40 1.40 0 1 0 -2.80 0M135.0 277.2m-1.40 0a1.40 1.40 0 1 0 2.80 0a1.40 1.40 0 1 0 -2.80 0M136.3 277.8m-1.40 0a1.40 1.40 0 1 0 2.80 0a1.40 1.40 0 1 0 -2.80 0M136.9 279.6m-1.40 0a1.40 1.40 0 1 0 2.80 0a1.40 1.40 0 1 0 -2.80 0M138.1 279.0m-1.40 0a1.40 1.40 0 1 0 2.80 0a1.40 1.40 0 1 0 -2.80 0M131.4 277.8m-1.40 0a1.40 1.40 0 1 0 2.80 0a1.40 1.40 0 1 0 -2.80 0M129.0 277.8m-1.40 0a1.40 1.40 0 1 0 2.80 0a1.40 1.40 0 1 0 -2.80 0M127.2 282.6m-1.40 0a1.40 1.40 0 1 0 2.80 0a1.40 1.40 0 1 0 -2.80 0M124.1 281.4m-1.40 0a1.40 1.40 0 1 0 2.80 0a1.40 1.40 0 1 0 -2.80 0M121.1 281.4m-1.40 0a1.40 1.40 0 1 0 2.80 0a1.40 1.40 0 1 0 -2.80 0M116.8 283.2m-1.40 0a1.40 1.40 0 1 0 2.80 0a1.40 1.40 0 1 0 -2.80 0M116.2 284.4m-1.40 0a1.40 1.40 0 1 0 2.80 0a1.40 1.40 0 1 0 -2.80 0M95.2 267.5m-1.40 0a1.40 1.40 0 1 0 2.80 0a1.40 1.40 0 1 0 -2.80 0M111.4 262.0m-1.40 0a1.40 1.40 0 1 0 2.80 0a1.40 1.40 0 1 0 -2.80 0M109.6 263.2m-1.40 0a1.40 1.40 0 1 0 2.80 0a1.40 1.40 0 1 0 -2.80 0M112.0 258.3m-1.40 0a1.40 1.40 0 1 0 2.80 0a1.40 1.40 0 1 0 -2.80 0M110.2 260.2m-1.40 0a1.40 1.40 0 1 0 2.80 0a1.40 1.40 0 1 0 -2.80 0M115.0 258.6m-1.40 0a1.40 1.40 0 1 0 2.80 0a1.40 1.40 0 1 0 -2.80 0M120.5 260.5m-1.40 0a1.40 1.40 0 1 0 2.80 0a1.40 1.40 0 1 0 -2.80 0M126.8 262.0m-1.40 0a1.40 1.40 0 1 0 2.80 0a1.40 1.40 0 1 0 -2.80 0M128.0 266.2m-1.40 0a1.40 1.40 0 1 0 2.80 0a1.40 1.40 0 1 0 -2.80 0M128.4 271.1m-1.40 0a1.40 1.40 0 1 0 2.80 0a1.40 1.40 0 1 0 -2.80 0M127.8 274.7m-1.40 0a1.40 1.40 0 1 0 2.80 0a1.40 1.40 0 1 0 -2.80 0M125.3 277.5m-1.40 0a1.40 1.40 0 1 0 2.80 0a1.40 1.40 0 1 0 -2.80 0M122.3 279.2m-1.40 0a1.40 1.40 0 1 0 2.80 0a1.40 1.40 0 1 0 -2.80 0M118.7 279.6m-1.40 0a1.40 1.40 0 1 0 2.80 0a1.40 1.40 0 1 0 -2.80 0M114.4 279.2m-1.40 0a1.40 1.40 0 1 0 2.80 0a1.40 1.40 0 1 0 -2.80 0M112.0 277.8m-1.40 0a1.40 1.40 0 1 0 2.80 0a1.40 1.40 0 1 0 -2.80 0M110.2 275.9m-1.40 0a1.40 1.40 0 1 0 2.80 0a1.40 1.40 0 1 0 -2.80 0M108.6 272.3m-1.40 0a1.40 1.40 0 1 0 2.80 0a1.40 1.40 0 1 0 -2.80 0M108.6 268.7m-1.40 0a1.40 1.40 0 1 0 2.80 0a1.40 1.40 0 1 0 -2.80 0M109.3 265.0m-1.40 0a1.40 1.40 0 1 0 2.80 0a1.40 1.40 0 1 0 -2.80 0M138.9 228.8m-1.40 0a1.40 1.40 0 1 0 2.80 0a1.40 1.40 0 1 0 -2.80 0M142.4 230.3m-1.40 0a1.40 1.40 0 1 0 2.80 0a1.40 1.40 0 1 0 -2.80 0M148.9 262.1m-1.40 0a1.40 1.40 0 1 0 2.80 0a1.40 1.40 0 1 0 -2.80 0M80.6 281.6m-1.40 0a1.40 1.40 0 1 0 2.80 0a1.40 1.40 0 1 0 -2.80 0M90.7 279.7m-1.40 0a1.40 1.40 0 1 0 2.80 0a1.40 1.40 0 1 0 -2.80 0M114.3 291.9m-1.40 0a1.40 1.40 0 1 0 2.80 0a1.40 1.40 0 1 0 -2.80 0M112.0 294.7m-1.40 0a1.40 1.40 0 1 0 2.80 0a1.40 1.40 0 1 0 -2.80 0M124.7 294.0m-1.40 0a1.40 1.40 0 1 0 2.80 0a1.40 1.40 0 1 0 -2.80 0M107.4 301.4m-1.40 0a1.40 1.40 0 1 0 2.80 0a1.40 1.40 0 1 0 -2.80 0M101.5 314.0m-1.40 0a1.40 1.40 0 1 0 2.80 0a1.40 1.40 0 1 0 -2.80 0M158.2 279.0m-1.40 0a1.40 1.40 0 1 0 2.80 0a1.40 1.40 0 1 0 -2.80 0M135.8 287.8m-1.40 0a1.40 1.40 0 1 0 2.80 0a1.40 1.40 0 1 0 -2.80 0M125.8 294.0m-1.40 0a1.40 1.40 0 1 0 2.80 0a1.40 1.40 0 1 0 -2.80 0" fill="#ff7f0e"/>
<path d="M97.0 267.9m-1.40 0a1.40 1.40 0 1 0 2.80 0a1.40 1.40 0 1 0 -2.80 0M131.4 245.6m-1.40 0a1.40 1.40 0 1 0 2.80 0a1.40 1.40 0 1 0 -2.80 0M140.9 247.7m-1.40 0a1.40 1.40 0 1 0 2.80 0a1.40 1.40 0 1 0 -2.80 0M131.4 259.0m-1.40 0a1.40 1.40 0 1 0 2.80 0a1.40 1.40 0 1 0 -2.80 0M127.8 260.8m-1.40 0a1.40 1.40 0 1 0 2.80 0a1.40 1.40 0 1 0 -2.80 0M126.6 263.0m-1.40 0a1.40 1.40 0 1 0 2.80 0a1.40 1.40 0 1 0 -2.80 0M126.8 264.4m-1.40 0a1.40 1.40 0 1 0 2.80 0a1.40 1.40 0 1 0 -2.80 0M122.9 265.6m-1.40 0a1.40 1.40 0 1 0 2.80 0a1.40 1.40 0 1 0 -2.80 0M133.6 268.1m-1.40 0a1.40 1.40 0 1 0 2.80 0a1.40 1.40 0 1 0 -2.80 0M130.2 269.3m-1.40 0a1.40 1.40 0 1 0 2.80 0a1.40 1.40 0 1 0 -2.80 0M129.6 271.1m-1.40 0a1.40 1.40 0 1 0 2.80 0a1.40 1.40 0 1 0 -2.80 0M130.8 272.3m-1.40 0a1.40 1.40 0 1 0 2.80 0a1.40 1.40 0 1 0 -2.80 0M129.0 274.7m-1.40 0a1.40 1.40 0 1 0 2.80 0a1.40 1.40 0 1 0 -2.80 0M127.8 277.2m-1.40 0a1.40 1.40 0 1 0 2.80 0a1.40 1.40 0 1 0 -2.80 0M125.9 277.2m-1.40 0a1.40 1.40 0 1 0 2.80 0a1.40 1.40 0 1 0 -2.80 0M141.1 276.8m-1.40 0a1.40 1.40 0 1 0 2.80 0a1.40 1.40 0 1 0 -2.80 0M142.3 276.3m-1.40 0a1.40 1.40 0 1 0 2.80 0a1.40 1.40 0 1 0 -2.80 0M131.4 278.4m-1.40 0a1.40 1.40 0 1 0 2.80 0a1.40 1.40 0 1 0 -2.80 0M133.8 280.8m-1.40 0a1.40 1.40 0 1 0 2.80 0a1.40 1.40 0 1 0 -2.80 0M113.2 280.2m-1.40 0a1.40 1.40 0 1 0 2.80 0a1.40 1.40 0 1 0 -2.80 0M113.2 278.4m-1.40 0a1.40 1.40 0 1 0 2.80 0a1.40 1.40 0 1 0 -2.80 0M119.3 280.2m-1.40 0a1.40 1.40 0 1 0 2.80 0a1.40 1.40 0 1 0 -2.80 0M133.8 283.2m-1.40 0a1.40 1.40 0 1 0 2.80 0a1.40 1.40 0 1 0 -2.80 0M107.7 272.3m-1.40 0a1.40 1.40 0 1 0 2.80 0a1.40 1.40 0 1 0 -2.80 0M110.8 267.5m-1.40 0a1.40 1.40 0 1 0 2.80 0a1.40 1.40 0 1 0 -2.80 0M112.0 266.8m-1.40 0a1.40 1.40 0 1 0 2.80 0a1.40 1.40 0 1 0 -2.80 0M96.8 267.5m-1.40 0a1.40 1.40 0 1 0 2.80 0a1.40 1.40 0 1 0 -2.80 0M131.4 274.1m-1.40 0a1.40 1.40 0 1 0 2.80 0a1.40 1.40 0 1 0 -2.80 0M131.8 244.7m-1.40 0a1.40 1.40 0 1 0 2.80 0a1.40 1.40 0 1 0 -2.80 0M147.0 248.0m-1.40 0a1.40 1.40 0 1 0 2.80 0a1.40 1.40 0 1 0 -2.80 0M150.0 250.8m-1.40 0a1.40 1.40 0 1 0 2.80 0a1.40 1.40 0 1 0 -2.80 0M158.3 253.5m-1.40 0a1.40 1.40 0 1 0 2.80 0a1.40 1.40 0 1 0 -2.80 0M149.5 264.7m-1.40 0a1.40 1.40 0 1 0 2.80 0a1.40 1.40 0 1 0 -2.80 0M150.0 265.9m-1.40 0a1.40 1.40 0 1 0 2.80 0a1.40 1.40 0 1 0 -2.80 0M148.9 266.7m-1.40 0a1.40 1.40 0 1 0 2.80 0a1.40 1.40 0 1 0 -2.80 0M162.9 273.5m-1.40 0a1.40 1.40 0 1 0 2.80 0a1.40 1.40 0 1 0 -2.80 0M164.4 273.2m-1.40 0a1.40 1.40 0 1 0 2.80 0a1.40 1.40 0 1 0 -2.80 0M167.1 272.9m-1.40 0a1.40 1.40 0 1 0 2.80 0a1.40 1.40 0 1 0 -2.80 0M172.3 272.3m-1.40 0a1.40 1.40 0 1 0 2.80 0a1.40 1.40 0 1 0 -2.80 0M179.8 270.9m-1.40 0a1.40 1.40 0 1 0 2.80 0a1.40 1.40 0 1 0 -2.80 0M181.8 270.6m-1.40 0a1.40 1.40 0 1 0 2.80 0a1.40 1.40 0 1 0 -2.80 0M184.1 270.3m-1.40 0a1.40 1.40 0 1 0 2.80 0a1.40 1.40 0 1 0 -2.80 0M187.1 269.8m-1.40 0a1.40 1.40 0 1 0 2.80 0a1.40 1.40 0 1 0 -2.80 0M190.9 269.4m-1.40 0a1.40 1.40 0 1 0 2.80 0a1.40 1.40 0 1 0 -2.80 0M194.7 268.9m-1.40 0a1.40 1.40 0 1 0 2.80 0a1.40 1.40 0 1 0 -2.80 0M200.8 268.0m-1.40 0a1.40 1.40 0 1 0 2.80 0a1.40 1.40 0 1 0 -2.80 0M217.0 265.5m-1.40 0a1.40 1.40 0 1 0 2.80 0a1.40 1.40 0 1 0 -2.80 0M68.0 277.0m-1.40 0a1.40 1.40 0 1 0 2.80 0a1.40 1.40 0 1 0 -2.80 0M108.5 286.5m-1.40 0a1.40 1.40 0 1 0 2.80 0a1.40 1.40 0 1 0 -2.80 0M145.9 276.2m-1.40 0a1.40 1.40 0 1 0 2.80 0a1.40 1.40 0 1 0 -2.80 0" fill="#1f77b4"/>
</g>
<rect x="25.0" y="181.5" width="201.5" height="139.0" fill="none" stroke="#a8a8a8" stroke-width="1"/>
<line x1="41.4" y1="320.5" x2="41.4" y2="322.1" stroke="#a8a8a8" stroke-width="0.8"/>
<text x="41.4" y="330.1" font-size="10.0" text-anchor="middle">−0.10</text>
<line x1="80.5" y1="320.5" x2="80.5" y2="322.1" stroke="#a8a8a8" stroke-width="0.8"/>
<text x="80.5" y="330.1" font-size="10.0" text-anchor="middle">−0.05</text>
<line x1="119.6" y1="320.5" x2="119.6" y2="322.1" stroke="#a8a8a8" stroke-width="0.8"/>
<text x="119.6" y="330.1" font-size="10.0" text-anchor="middle">0.00</text>
<line x1="158.7" y1="320.5" x2="158.7" y2="322.1" stroke="#a8a8a8" stroke-width="0.8"/>
<text x="158.7" y="330.1" font-size="10.0" text-anchor="middle">0.05</text>
<line x1="197.8" y1="320.5" x2="197.8" y2="322.1" stroke="#a8a8a8" stroke-width="0.8"/>
<text x="197.8" y="330.1" font-size="10.0" text-anchor="middle">0.10</text>
<line x1="23.4" y1="198.6" x2="25.0" y2="198.6" stroke="#a8a8a8" stroke-width="0.8"/>
<text x="22.4" y="202.0" font-size="10.0" text-anchor="end">0.10</text>
<line x1="23.4" y1="234.6" x2="25.0" y2="234.6" stroke="#a8a8a8" stroke-width="0.8"/>
<text x="22.4" y="238.0" font-size="10.0" text-anchor="end">0.05</text>
<line x1="23.4" y1="270.6" x2="25.0" y2="270.6" stroke="#a8a8a8" stroke-width="0.8"/>
<text x="22.4" y="274.0" font-size="10.0" text-anchor="end">0.00</text>
<line x1="23.4" y1="306.6" x2="25.0" y2="306.6" stroke="#a8a8a8" stroke-width="0.8"/>
<text x="22.4" y="310.0" font-size="10.0" text-anchor="end">−0.05</text>
<text x="125.8" y="179.3" font-size="11.8" text-anchor="middle">LLE</text>
<rect x="180.9" y="186.3" width="40.3" height="30.6" rx="2" fill="#fff" fill-opacity="0.8" stroke="#e4e4e4" stroke-width="0.8"/>
<circle cx="194.7" cy="194.5" r="1.2" fill="#1f77b4"/>
<circle cx="194.7" cy="208.2" r="1.2" fill="#ff7f0e"/>
<text x="214.5" y="197.9" font-size="10.0" text-anchor="middle">1</text>
<text x="214.5" y="211.6" font-size="10.0" text-anchor="middle">2</text>
<clipPath id="c4"><rect x="254.5" y="181.5" width="201.0" height="139.0"/></clipPath>
<g clip-path="url(#c4)">
<path d="M342.6 235.8m-1.40 0a1.40 1.40 0 1 0 2.80 0a1.40 1.40 0 1 0 -2.80 0M342.9 235.8m-1.40 0a1.40 1.40 0 1 0 2.80 0a1.40 1.40 0 1 0 -2.80 0M368.6 222.5m-1.40 0a1.40 1.40 0 1 0 2.80 0a1.40 1.40 0 1 0 -2.80 0M369.5 223.2m-1.40 0a1.40 1.40 0 1 0 2.80 0a1.40 1.40 0 1 0 -2.80 0M370.5 224.1m-1.40 0a1.40 1.40 0 1 0 2.80 0a1.40 1.40 0 1 0 -2.80 0M371.7 225.0m-1.40 0a1.40 1.40 0 1 0 2.80 0a1.40 1.40 0 1 0 -2.80 0M372.6 225.9m-1.40 0a1.40 1.40 0 1 0 2.80 0a1.40 1.40 0 1 0 -2.80 0M373.5 226.5m-1.40 0a1.40 1.40 0 1 0 2.80 0a1.40 1.40 0 1 0 -2.80 0M372.9 221.6m-1.40 0a1.40 1.40 0 1 0 2.80 0a1.40 1.40 0 1 0 -2.80 0M373.5 222.5m-1.40 0a1.40 1.40 0 1 0 2.80 0a1.40 1.40 0 1 0 -2.80 0M374.1 223.8m-1.40 0a1.40 1.40 0 1 0 2.80 0a1.40 1.40 0 1 0 -2.80 0M375.0 224.7m-1.40 0a1.40 1.40 0 1 0 2.80 0a1.40 1.40 0 1 0 -2.80 0M380.8 226.5m-1.40 0a1.40 1.40 0 1 0 2.80 0a1.40 1.40 0 1 0 -2.80 0M382.0 227.1m-1.40 0a1.40 1.40 0 1 0 2.80 0a1.40 1.40 0 1 0 -2.80 0M383.2 227.7m-1.40 0a1.40 1.40 0 1 0 2.80 0a1.40 1.40 0 1 0 -2.80 0M384.4 228.3m-1.40 0a1.40 1.40 0 1 0 2.80 0a1.40 1.40 0 1 0 -2.80 0M385.6 229.2m-1.40 0a1.40 1.40 0 1 0 2.80 0a1.40 1.40 0 1 0 -2.80 0M386.8 230.1m-1.40 0a1.40 1.40 0 1 0 2.80 0a1.40 1.40 0 1 0 -2.80 0M387.4 231.0m-1.40 0a1.40 1.40 0 1 0 2.80 0a1.40 1.40 0 1 0 -2.80 0M380.2 227.7m-1.40 0a1.40 1.40 0 1 0 2.80 0a1.40 1.40 0 1 0 -2.80 0M381.1 228.6m-1.40 0a1.40 1.40 0 1 0 2.80 0a1.40 1.40 0 1 0 -2.80 0M379.5 231.0m-1.40 0a1.40 1.40 0 1 0 2.80 0a1.40 1.40 0 1 0 -2.80 0M380.8 231.9m-1.40 0a1.40 1.40 0 1 0 2.80 0a1.40 1.40 0 1 0 -2.80 0M381.4 232.5m-1.40 0a1.40 1.40 0 1 0 2.80 0a1.40 1.40 0 1 0 -2.80 0M375.9 231.9m-1.40 0a1.40 1.40 0 1 0 2.80 0a1.40 1.40 0 1 0 -2.80 0M377.1 232.5m-1.40 0a1.40 1.40 0 1 0 2.80 0a1.40 1.40 0 1 0 -2.80 0M373.5 230.1m-1.40 0a1.40 1.40 0 1 0 2.80 0a1.40 1.40 0 1 0 -2.80 0M374.4 230.7m-1.40 0a1.40 1.40 0 1 0 2.80 0a1.40 1.40 0 1 0 -2.80 0M376.8 225.9m-1.40 0a1.40 1.40 0 1 0 2.80 0a1.40 1.40 0 1 0 -2.80 0M377.7 225.3m-1.40 0a1.40 1.40 0 1 0 2.80 0a1.40 1.40 0 1 0 -2.80 0" fill="#1f77b4"/>
<path d="M354.1 231.6L356.1 229.7L358.7 229.1L361.3 230.5L362.7 232.5L365.8 234.0L368.9 236.0L371.3 237.9L375.1 238.3L379.1 238.8L383.2 239.4L386.5 240.0L388.6 240.6L390.6 241.3L389.9 243.9L388.6 246.5L386.5 247.1L383.1 247.7L379.1 249.0L375.1 250.1L373.3 251.9L374.0 254.6L371.5 256.6L367.7 257.2L364.5 257.9L361.3 258.6L357.4 258.1L354.1 256.8L351.5 254.9L350.2 252.3L351.0 249.0L352.4 247.1L351.7 245.2L353.7 243.3L355.8 241.4L355.0 238.2L353.6 235.5L353.5 233.6Z" fill="#ff7f0e"/>
<path d="M364.3 235.0m-0.90 0a0.90 0.90 0 1 0 1.80 0a0.90 0.90 0 1 0 -1.80 0M367.7 241.8m-0.90 0a0.90 0.90 0 1 0 1.80 0a0.90 0.90 0 1 0 -1.80 0M373.2 240.5m-0.90 0a0.90 0.90 0 1 0 1.80 0a0.90 0.90 0 1 0 -1.80 0M375.9 248.0m-0.90 0a0.90 0.90 0 1 0 1.80 0a0.90 0.90 0 1 0 -1.80 0M382.7 243.2m-0.90 0a0.90 0.90 0 1 0 1.80 0a0.90 0.90 0 1 0 -1.80 0M362.3 249.3m-0.90 0a0.90 0.90 0 1 0 1.80 0a0.90 0.90 0 1 0 -1.80 0M369.1 251.4m-0.90 0a0.90 0.90 0 1 0 1.80 0a0.90 0.90 0 1 0 -1.80 0M380.0 245.9m-0.90 0a0.90 0.90 0 1 0 1.80 0a0.90 0.90 0 1 0 -1.80 0" fill="#fff"/>
<path d="M325.5 188.0m-1.40 0a1.40 1.40 0 1 0 2.80 0a1.40 1.40 0 1 0 -2.80 0M331.0 208.4m-1.40 0a1.40 1.40 0 1 0 2.80 0a1.40 1.40 0 1 0 -2.80 0M353.2 207.2m-1.40 0a1.40 1.40 0 1 0 2.80 0a1.40 1.40 0 1 0 -2.80 0M353.5 215.5m-1.40 0a1.40 1.40 0 1 0 2.80 0a1.40 1.40 0 1 0 -2.80 0M291.1 218.1m-1.40 0a1.40 1.40 0 1 0 2.80 0a1.40 1.40 0 1 0 -2.80 0M292.6 217.4m-1.40 0a1.40 1.40 0 1 0 2.80 0a1.40 1.40 0 1 0 -2.80 0M293.7 218.3m-1.40 0a1.40 1.40 0 1 0 2.80 0a1.40 1.40 0 1 0 -2.80 0M291.9 218.9m-1.40 0a1.40 1.40 0 1 0 2.80 0a1.40 1.40 0 1 0 -2.80 0M263.1 241.9m-1.40 0a1.40 1.40 0 1 0 2.80 0a1.40 1.40 0 1 0 -2.80 0M264.6 241.6m-1.40 0a1.40 1.40 0 1 0 2.80 0a1.40 1.40 0 1 0 -2.80 0M266.1 242.4m-1.40 0a1.40 1.40 0 1 0 2.80 0a1.40 1.40 0 1 0 -2.80 0M267.6 241.9m-1.40 0a1.40 1.40 0 1 0 2.80 0a1.40 1.40 0 1 0 -2.80 0M269.2 242.7m-1.40 0a1.40 1.40 0 1 0 2.80 0a1.40 1.40 0 1 0 -2.80 0M265.4 243.1m-1.40 0a1.40 1.40 0 1 0 2.80 0a1.40 1.40 0 1 0 -2.80 0M267.6 255.5m-1.40 0a1.40 1.40 0 1 0 2.80 0a1.40 1.40 0 1 0 -2.80 0M293.7 244.3m-1.40 0a1.40 1.40 0 1 0 2.80 0a1.40 1.40 0 1 0 -2.80 0M295.2 243.1m-1.40 0a1.40 1.40 0 1 0 2.80 0a1.40 1.40 0 1 0 -2.80 0M296.7 242.8m-1.40 0a1.40 1.40 0 1 0 2.80 0a1.40 1.40 0 1 0 -2.80 0M297.9 244.6m-1.40 0a1.40 1.40 0 1 0 2.80 0a1.40 1.40 0 1 0 -2.80 0M295.7 245.4m-1.40 0a1.40 1.40 0 1 0 2.80 0a1.40 1.40 0 1 0 -2.80 0M294.2 244.9m-1.40 0a1.40 1.40 0 1 0 2.80 0a1.40 1.40 0 1 0 -2.80 0M326.0 258.0m-1.40 0a1.40 1.40 0 1 0 2.80 0a1.40 1.40 0 1 0 -2.80 0M329.5 257.1m-1.40 0a1.40 1.40 0 1 0 2.80 0a1.40 1.40 0 1 0 -2.80 0M330.5 259.0m-1.40 0a1.40 1.40 0 1 0 2.80 0a1.40 1.40 0 1 0 -2.80 0M332.0 259.8m-1.40 0a1.40 1.40 0 1 0 2.80 0a1.40 1.40 0 1 0 -2.80 0M333.5 260.5m-1.40 0a1.40 1.40 0 1 0 2.80 0a1.40 1.40 0 1 0 -2.80 0M331.3 262.1m-1.40 0a1.40 1.40 0 1 0 2.80 0a1.40 1.40 0 1 0 -2.80 0M332.5 263.6m-1.40 0a1.40 1.40 0 1 0 2.80 0a1.40 1.40 0 1 0 -2.80 0M332.0 265.5m-1.40 0a1.40 1.40 0 1 0 2.80 0a1.40 1.40 0 1 0 -2.80 0M331.3 267.7m-1.40 0a1.40 1.40 0 1 0 2.80 0a1.40 1.40 0 1 0 -2.80 0M295.7 278.9m-1.40 0a1.40 1.40 0 1 0 2.80 0a1.40 1.40 0 1 0 -2.80 0M337.0 236.3m-1.40 0a1.40 1.40 0 1 0 2.80 0a1.40 1.40 0 1 0 -2.80 0M338.1 237.8m-1.40 0a1.40 1.40 0 1 0 2.80 0a1.40 1.40 0 1 0 -2.80 0M338.8 235.5m-1.40 0a1.40 1.40 0 1 0 2.80 0a1.40 1.40 0 1 0 -2.80 0M341.1 236.3m-1.40 0a1.40 1.40 0 1 0 2.80 0a1.40 1.40 0 1 0 -2.80 0M343.4 237.1m-1.40 0a1.40 1.40 0 1 0 2.80 0a1.40 1.40 0 1 0 -2.80 0M345.7 238.3m-1.40 0a1.40 1.40 0 1 0 2.80 0a1.40 1.40 0 1 0 -2.80 0M347.9 239.3m-1.40 0a1.40 1.40 0 1 0 2.80 0a1.40 1.40 0 1 0 -2.80 0M349.5 237.8m-1.40 0a1.40 1.40 0 1 0 2.80 0a1.40 1.40 0 1 0 -2.80 0M351.0 240.1m-1.40 0a1.40 1.40 0 1 0 2.80 0a1.40 1.40 0 1 0 -2.80 0M346.4 240.8m-1.40 0a1.40 1.40 0 1 0 2.80 0a1.40 1.40 0 1 0 -2.80 0M337.3 238.6m-1.40 0a1.40 1.40 0 1 0 2.80 0a1.40 1.40 0 1 0 -2.80 0M347.9 244.6m-1.40 0a1.40 1.40 0 1 0 2.80 0a1.40 1.40 0 1 0 -2.80 0M347.2 246.2m-1.40 0a1.40 1.40 0 1 0 2.80 0a1.40 1.40 0 1 0 -2.80 0M349.5 243.1m-1.40 0a1.40 1.40 0 1 0 2.80 0a1.40 1.40 0 1 0 -2.80 0M351.0 247.7m-1.40 0a1.40 1.40 0 1 0 2.80 0a1.40 1.40 0 1 0 -2.80 0M352.5 249.2m-1.40 0a1.40 1.40 0 1 0 2.80 0a1.40 1.40 0 1 0 -2.80 0M353.2 250.7m-1.40 0a1.40 1.40 0 1 0 2.80 0a1.40 1.40 0 1 0 -2.80 0M351.0 252.2m-1.40 0a1.40 1.40 0 1 0 2.80 0a1.40 1.40 0 1 0 -2.80 0M350.2 253.7m-1.40 0a1.40 1.40 0 1 0 2.80 0a1.40 1.40 0 1 0 -2.80 0M352.5 255.2m-1.40 0a1.40 1.40 0 1 0 2.80 0a1.40 1.40 0 1 0 -2.80 0M354.0 254.5m-1.40 0a1.40 1.40 0 1 0 2.80 0a1.40 1.40 0 1 0 -2.80 0M354.0 252.2m-1.40 0a1.40 1.40 0 1 0 2.80 0a1.40 1.40 0 1 0 -2.80 0M353.2 236.3m-1.40 0a1.40 1.40 0 1 0 2.80 0a1.40 1.40 0 1 0 -2.80 0M354.0 233.3m-1.40 0a1.40 1.40 0 1 0 2.80 0a1.40 1.40 0 1 0 -2.80 0M354.8 231.0m-1.40 0a1.40 1.40 0 1 0 2.80 0a1.40 1.40 0 1 0 -2.80 0M357.6 229.6m-1.40 0a1.40 1.40 0 1 0 2.80 0a1.40 1.40 0 1 0 -2.80 0M360.8 231.0m-1.40 0a1.40 1.40 0 1 0 2.80 0a1.40 1.40 0 1 0 -2.80 0M362.7 231.3m-1.40 0a1.40 1.40 0 1 0 2.80 0a1.40 1.40 0 1 0 -2.80 0M363.5 232.1m-1.40 0a1.40 1.40 0 1 0 2.80 0a1.40 1.40 0 1 0 -2.80 0M365.5 234.3m-1.40 0a1.40 1.40 0 1 0 2.80 0a1.40 1.40 0 1 0 -2.80 0M365.8 234.2m-1.40 0a1.40 1.40 0 1 0 2.80 0a1.40 1.40 0 1 0 -2.80 0M367.9 235.8m-1.40 0a1.40 1.40 0 1 0 2.80 0a1.40 1.40 0 1 0 -2.80 0M370.9 238.0m-1.40 0a1.40 1.40 0 1 0 2.80 0a1.40 1.40 0 1 0 -2.80 0M372.2 238.7m-1.40 0a1.40 1.40 0 1 0 2.80 0a1.40 1.40 0 1 0 -2.80 0M374.1 238.4m-1.40 0a1.40 1.40 0 1 0 2.80 0a1.40 1.40 0 1 0 -2.80 0M377.3 237.9m-1.40 0a1.40 1.40 0 1 0 2.80 0a1.40 1.40 0 1 0 -2.80 0M377.8 239.0m-1.40 0a1.40 1.40 0 1 0 2.80 0a1.40 1.40 0 1 0 -2.80 0M380.6 238.8m-1.40 0a1.40 1.40 0 1 0 2.80 0a1.40 1.40 0 1 0 -2.80 0M382.6 239.0m-1.40 0a1.40 1.40 0 1 0 2.80 0a1.40 1.40 0 1 0 -2.80 0M382.4 239.6m-1.40 0a1.40 1.40 0 1 0 2.80 0a1.40 1.40 0 1 0 -2.80 0M385.5 240.3m-1.40 0a1.40 1.40 0 1 0 2.80 0a1.40 1.40 0 1 0 -2.80 0M386.7 240.3m-1.40 0a1.40 1.40 0 1 0 2.80 0a1.40 1.40 0 1 0 -2.80 0M390.1 241.7m-1.40 0a1.40 1.40 0 1 0 2.80 0a1.40 1.40 0 1 0 -2.80 0M390.6 243.1m-1.40 0a1.40 1.40 0 1 0 2.80 0a1.40 1.40 0 1 0 -2.80 0M389.3 246.1m-1.40 0a1.40 1.40 0 1 0 2.80 0a1.40 1.40 0 1 0 -2.80 0M387.6 245.7m-1.40 0a1.40 1.40 0 1 0 2.80 0a1.40 1.40 0 1 0 -2.80 0M386.1 247.4m-1.40 0a1.40 1.40 0 1 0 2.80 0a1.40 1.40 0 1 0 -2.80 0M382.8 248.3m-1.40 0a1.40 1.40 0 1 0 2.80 0a1.40 1.40 0 1 0 -2.80 0M383.5 247.6m-1.40 0a1.40 1.40 0 1 0 2.80 0a1.40 1.40 0 1 0 -2.80 0M379.8 248.0m-1.40 0a1.40 1.40 0 1 0 2.80 0a1.40 1.40 0 1 0 -2.80 0M377.9 250.1m-1.40 0a1.40 1.40 0 1 0 2.80 0a1.40 1.40 0 1 0 -2.80 0M376.5 249.1m-1.40 0a1.40 1.40 0 1 0 2.80 0a1.40 1.40 0 1 0 -2.80 0M375.2 250.3m-1.40 0a1.40 1.40 0 1 0 2.80 0a1.40 1.40 0 1 0 -2.80 0M374.0 251.9m-1.40 0a1.40 1.40 0 1 0 2.80 0a1.40 1.40 0 1 0 -2.80 0M372.0 257.3m-1.40 0a1.40 1.40 0 1 0 2.80 0a1.40 1.40 0 1 0 -2.80 0M371.3 256.9m-1.40 0a1.40 1.40 0 1 0 2.80 0a1.40 1.40 0 1 0 -2.80 0M368.1 257.1m-1.40 0a1.40 1.40 0 1 0 2.80 0a1.40 1.40 0 1 0 -2.80 0M367.0 258.1m-1.40 0a1.40 1.40 0 1 0 2.80 0a1.40 1.40 0 1 0 -2.80 0M366.6 258.0m-1.40 0a1.40 1.40 0 1 0 2.80 0a1.40 1.40 0 1 0 -2.80 0M364.1 258.6m-1.40 0a1.40 1.40 0 1 0 2.80 0a1.40 1.40 0 1 0 -2.80 0M362.1 258.5m-1.40 0a1.40 1.40 0 1 0 2.80 0a1.40 1.40 0 1 0 -2.80 0M361.8 259.0m-1.40 0a1.40 1.40 0 1 0 2.80 0a1.40 1.40 0 1 0 -2.80 0M358.5 258.6m-1.40 0a1.40 1.40 0 1 0 2.80 0a1.40 1.40 0 1 0 -2.80 0M356.1 257.1m-1.40 0a1.40 1.40 0 1 0 2.80 0a1.40 1.40 0 1 0 -2.80 0M355.3 257.9m-1.40 0a1.40 1.40 0 1 0 2.80 0a1.40 1.40 0 1 0 -2.80 0M352.7 255.3m-1.40 0a1.40 1.40 0 1 0 2.80 0a1.40 1.40 0 1 0 -2.80 0M351.5 255.9m-1.40 0a1.40 1.40 0 1 0 2.80 0a1.40 1.40 0 1 0 -2.80 0M352.2 255.0m-1.40 0a1.40 1.40 0 1 0 2.80 0a1.40 1.40 0 1 0 -2.80 0M349.4 252.5m-1.40 0a1.40 1.40 0 1 0 2.80 0a1.40 1.40 0 1 0 -2.80 0M350.0 250.3m-1.40 0a1.40 1.40 0 1 0 2.80 0a1.40 1.40 0 1 0 -2.80 0M350.5 248.8m-1.40 0a1.40 1.40 0 1 0 2.80 0a1.40 1.40 0 1 0 -2.80 0M352.4 245.0m-1.40 0a1.40 1.40 0 1 0 2.80 0a1.40 1.40 0 1 0 -2.80 0M351.7 245.5m-1.40 0a1.40 1.40 0 1 0 2.80 0a1.40 1.40 0 1 0 -2.80 0M354.3 242.2m-1.40 0a1.40 1.40 0 1 0 2.80 0a1.40 1.40 0 1 0 -2.80 0M356.1 240.7m-1.40 0a1.40 1.40 0 1 0 2.80 0a1.40 1.40 0 1 0 -2.80 0M354.5 239.7m-1.40 0a1.40 1.40 0 1 0 2.80 0a1.40 1.40 0 1 0 -2.80 0M354.1 236.9m-1.40 0a1.40 1.40 0 1 0 2.80 0a1.40 1.40 0 1 0 -2.80 0M354.0 234.0m-1.40 0a1.40 1.40 0 1 0 2.80 0a1.40 1.40 0 1 0 -2.80 0M353.1 232.2m-1.40 0a1.40 1.40 0 1 0 2.80 0a1.40 1.40 0 1 0 -2.80 0M336.8 235.8m-1.40 0a1.40 1.40 0 1 0 2.80 0a1.40 1.40 0 1 0 -2.80 0M338.3 236.5m-1.40 0a1.40 1.40 0 1 0 2.80 0a1.40 1.40 0 1 0 -2.80 0M339.1 238.0m-1.40 0a1.40 1.40 0 1 0 2.80 0a1.40 1.40 0 1 0 -2.80 0M340.6 237.3m-1.40 0a1.40 1.40 0 1 0 2.80 0a1.40 1.40 0 1 0 -2.80 0M342.1 238.8m-1.40 0a1.40 1.40 0 1 0 2.80 0a1.40 1.40 0 1 0 -2.80 0M343.6 238.0m-1.40 0a1.40 1.40 0 1 0 2.80 0a1.40 1.40 0 1 0 -2.80 0M345.2 238.8m-1.40 0a1.40 1.40 0 1 0 2.80 0a1.40 1.40 0 1 0 -2.80 0M346.7 239.5m-1.40 0a1.40 1.40 0 1 0 2.80 0a1.40 1.40 0 1 0 -2.80 0M348.2 240.3m-1.40 0a1.40 1.40 0 1 0 2.80 0a1.40 1.40 0 1 0 -2.80 0M348.9 238.0m-1.40 0a1.40 1.40 0 1 0 2.80 0a1.40 1.40 0 1 0 -2.80 0M337.6 238.8m-1.40 0a1.40 1.40 0 1 0 2.80 0a1.40 1.40 0 1 0 -2.80 0M339.8 239.5m-1.40 0a1.40 1.40 0 1 0 2.80 0a1.40 1.40 0 1 0 -2.80 0M330.8 257.0m-1.40 0a1.40 1.40 0 1 0 2.80 0a1.40 1.40 0 1 0 -2.80 0M332.3 258.5m-1.40 0a1.40 1.40 0 1 0 2.80 0a1.40 1.40 0 1 0 -2.80 0M371.1 224.1m-1.40 0a1.40 1.40 0 1 0 2.80 0a1.40 1.40 0 1 0 -2.80 0M370.8 223.5m-1.40 0a1.40 1.40 0 1 0 2.80 0a1.40 1.40 0 1 0 -2.80 0M375.6 222.8m-1.40 0a1.40 1.40 0 1 0 2.80 0a1.40 1.40 0 1 0 -2.80 0M376.5 223.5m-1.40 0a1.40 1.40 0 1 0 2.80 0a1.40 1.40 0 1 0 -2.80 0M377.7 221.6m-1.40 0a1.40 1.40 0 1 0 2.80 0a1.40 1.40 0 1 0 -2.80 0M378.6 221.0m-1.40 0a1.40 1.40 0 1 0 2.80 0a1.40 1.40 0 1 0 -2.80 0M379.2 222.2m-1.40 0a1.40 1.40 0 1 0 2.80 0a1.40 1.40 0 1 0 -2.80 0M378.0 222.8m-1.40 0a1.40 1.40 0 1 0 2.80 0a1.40 1.40 0 1 0 -2.80 0M376.8 227.1m-1.40 0a1.40 1.40 0 1 0 2.80 0a1.40 1.40 0 1 0 -2.80 0M377.7 228.0m-1.40 0a1.40 1.40 0 1 0 2.80 0a1.40 1.40 0 1 0 -2.80 0M378.6 228.9m-1.40 0a1.40 1.40 0 1 0 2.80 0a1.40 1.40 0 1 0 -2.80 0M379.5 229.5m-1.40 0a1.40 1.40 0 1 0 2.80 0a1.40 1.40 0 1 0 -2.80 0M376.2 229.2m-1.40 0a1.40 1.40 0 1 0 2.80 0a1.40 1.40 0 1 0 -2.80 0M377.1 229.8m-1.40 0a1.40 1.40 0 1 0 2.80 0a1.40 1.40 0 1 0 -2.80 0M378.0 230.1m-1.40 0a1.40 1.40 0 1 0 2.80 0a1.40 1.40 0 1 0 -2.80 0M378.9 228.6m-1.40 0a1.40 1.40 0 1 0 2.80 0a1.40 1.40 0 1 0 -2.80 0M379.8 226.2m-1.40 0a1.40 1.40 0 1 0 2.80 0a1.40 1.40 0 1 0 -2.80 0M379.2 225.6m-1.40 0a1.40 1.40 0 1 0 2.80 0a1.40 1.40 0 1 0 -2.80 0M383.2 229.8m-1.40 0a1.40 1.40 0 1 0 2.80 0a1.40 1.40 0 1 0 -2.80 0M384.4 230.1m-1.40 0a1.40 1.40 0 1 0 2.80 0a1.40 1.40 0 1 0 -2.80 0M385.6 231.0m-1.40 0a1.40 1.40 0 1 0 2.80 0a1.40 1.40 0 1 0 -2.80 0M386.5 231.9m-1.40 0a1.40 1.40 0 1 0 2.80 0a1.40 1.40 0 1 0 -2.80 0M385.0 232.5m-1.40 0a1.40 1.40 0 1 0 2.80 0a1.40 1.40 0 1 0 -2.80 0M383.2 233.2m-1.40 0a1.40 1.40 0 1 0 2.80 0a1.40 1.40 0 1 0 -2.80 0M382.0 233.8m-1.40 0a1.40 1.40 0 1 0 2.80 0a1.40 1.40 0 1 0 -2.80 0M378.9 232.8m-1.40 0a1.40 1.40 0 1 0 2.80 0a1.40 1.40 0 1 0 -2.80 0M378.3 234.4m-1.40 0a1.40 1.40 0 1 0 2.80 0a1.40 1.40 0 1 0 -2.80 0M378.0 235.6m-1.40 0a1.40 1.40 0 1 0 2.80 0a1.40 1.40 0 1 0 -2.80 0M379.5 236.2m-1.40 0a1.40 1.40 0 1 0 2.80 0a1.40 1.40 0 1 0 -2.80 0M371.7 229.8m-1.40 0a1.40 1.40 0 1 0 2.80 0a1.40 1.40 0 1 0 -2.80 0M372.3 230.4m-1.40 0a1.40 1.40 0 1 0 2.80 0a1.40 1.40 0 1 0 -2.80 0M372.9 231.6m-1.40 0a1.40 1.40 0 1 0 2.80 0a1.40 1.40 0 1 0 -2.80 0M373.5 232.2m-1.40 0a1.40 1.40 0 1 0 2.80 0a1.40 1.40 0 1 0 -2.80 0M372.3 232.8m-1.40 0a1.40 1.40 0 1 0 2.80 0a1.40 1.40 0 1 0 -2.80 0M390.5 229.2m-1.40 0a1.40 1.40 0 1 0 2.80 0a1.40 1.40 0 1 0 -2.80 0M391.7 229.5m-1.40 0a1.40 1.40 0 1 0 2.80 0a1.40 1.40 0 1 0 -2.80 0M392.9 229.2m-1.40 0a1.40 1.40 0 1 0 2.80 0a1.40 1.40 0 1 0 -2.80 0M394.1 228.9m-1.40 0a1.40 1.40 0 1 0 2.80 0a1.40 1.40 0 1 0 -2.80 0M394.7 228.6m-1.40 0a1.40 1.40 0 1 0 2.80 0a1.40 1.40 0 1 0 -2.80 0M389.5 230.1m-1.40 0a1.40 1.40 0 1 0 2.80 0a1.40 1.40 0 1 0 -2.80 0M386.2 236.2m-1.40 0a1.40 1.40 0 1 0 2.80 0a1.40 1.40 0 1 0 -2.80 0M382.6 235.0m-1.40 0a1.40 1.40 0 1 0 2.80 0a1.40 1.40 0 1 0 -2.80 0M402.6 221.5m-1.40 0a1.40 1.40 0 1 0 2.80 0a1.40 1.40 0 1 0 -2.80 0M404.8 218.9m-1.40 0a1.40 1.40 0 1 0 2.80 0a1.40 1.40 0 1 0 -2.80 0M406.4 218.2m-1.40 0a1.40 1.40 0 1 0 2.80 0a1.40 1.40 0 1 0 -2.80 0M407.9 217.4m-1.40 0a1.40 1.40 0 1 0 2.80 0a1.40 1.40 0 1 0 -2.80 0M409.4 215.9m-1.40 0a1.40 1.40 0 1 0 2.80 0a1.40 1.40 0 1 0 -2.80 0M410.9 215.2m-1.40 0a1.40 1.40 0 1 0 2.80 0a1.40 1.40 0 1 0 -2.80 0M412.4 214.8m-1.40 0a1.40 1.40 0 1 0 2.80 0a1.40 1.40 0 1 0 -2.80 0M407.1 219.7m-1.40 0a1.40 1.40 0 1 0 2.80 0a1.40 1.40 0 1 0 -2.80 0M408.6 218.9m-1.40 0a1.40 1.40 0 1 0 2.80 0a1.40 1.40 0 1 0 -2.80 0M410.2 217.9m-1.40 0a1.40 1.40 0 1 0 2.80 0a1.40 1.40 0 1 0 -2.80 0M405.6 220.5m-1.40 0a1.40 1.40 0 1 0 2.80 0a1.40 1.40 0 1 0 -2.80 0M391.2 230.3m-1.40 0a1.40 1.40 0 1 0 2.80 0a1.40 1.40 0 1 0 -2.80 0M392.7 230.0m-1.40 0a1.40 1.40 0 1 0 2.80 0a1.40 1.40 0 1 0 -2.80 0M394.2 229.5m-1.40 0a1.40 1.40 0 1 0 2.80 0a1.40 1.40 0 1 0 -2.80 0M395.5 229.1m-1.40 0a1.40 1.40 0 1 0 2.80 0a1.40 1.40 0 1 0 -2.80 0M390.5 231.1m-1.40 0a1.40 1.40 0 1 0 2.80 0a1.40 1.40 0 1 0 -2.80 0M391.2 240.9m-1.40 0a1.40 1.40 0 1 0 2.80 0a1.40 1.40 0 1 0 -2.80 0M390.5 237.9m-1.40 0a1.40 1.40 0 1 0 2.80 0a1.40 1.40 0 1 0 -2.80 0M392.7 248.2m-1.40 0a1.40 1.40 0 1 0 2.80 0a1.40 1.40 0 1 0 -2.80 0M390.5 243.9m-1.40 0a1.40 1.40 0 1 0 2.80 0a1.40 1.40 0 1 0 -2.80 0M391.2 236.4m-1.40 0a1.40 1.40 0 1 0 2.80 0a1.40 1.40 0 1 0 -2.80 0M355.5 259.4m-1.40 0a1.40 1.40 0 1 0 2.80 0a1.40 1.40 0 1 0 -2.80 0M357.3 265.9m-1.40 0a1.40 1.40 0 1 0 2.80 0a1.40 1.40 0 1 0 -2.80 0M366.1 263.6m-1.40 0a1.40 1.40 0 1 0 2.80 0a1.40 1.40 0 1 0 -2.80 0M370.9 263.9m-1.40 0a1.40 1.40 0 1 0 2.80 0a1.40 1.40 0 1 0 -2.80 0M375.5 261.4m-1.40 0a1.40 1.40 0 1 0 2.80 0a1.40 1.40 0 1 0 -2.80 0M368.6 268.2m-1.40 0a1.40 1.40 0 1 0 2.80 0a1.40 1.40 0 1 0 -2.80 0M372.4 275.5m-1.40 0a1.40 1.40 0 1 0 2.80 0a1.40 1.40 0 1 0 -2.80 0M390.6 272.4m-1.40 0a1.40 1.40 0 1 0 2.80 0a1.40 1.40 0 1 0 -2.80 0M392.1 273.5m-1.40 0a1.40 1.40 0 1 0 2.80 0a1.40 1.40 0 1 0 -2.80 0M393.6 274.2m-1.40 0a1.40 1.40 0 1 0 2.80 0a1.40 1.40 0 1 0 -2.80 0M394.4 273.0m-1.40 0a1.40 1.40 0 1 0 2.80 0a1.40 1.40 0 1 0 -2.80 0M392.9 275.0m-1.40 0a1.40 1.40 0 1 0 2.80 0a1.40 1.40 0 1 0 -2.80 0M361.6 289.7m-1.40 0a1.40 1.40 0 1 0 2.80 0a1.40 1.40 0 1 0 -2.80 0M362.8 289.1m-1.40 0a1.40 1.40 0 1 0 2.80 0a1.40 1.40 0 1 0 -2.80 0M363.4 290.8m-1.40 0a1.40 1.40 0 1 0 2.80 0a1.40 1.40 0 1 0 -2.80 0M366.3 294.9m-1.40 0a1.40 1.40 0 1 0 2.80 0a1.40 1.40 0 1 0 -2.80 0M367.5 295.7m-1.40 0a1.40 1.40 0 1 0 2.80 0a1.40 1.40 0 1 0 -2.80 0M363.4 297.5m-1.40 0a1.40 1.40 0 1 0 2.80 0a1.40 1.40 0 1 0 -2.80 0M380.3 290.3m-1.40 0a1.40 1.40 0 1 0 2.80 0a1.40 1.40 0 1 0 -2.80 0M382.1 291.4m-1.40 0a1.40 1.40 0 1 0 2.80 0a1.40 1.40 0 1 0 -2.80 0M383.2 293.8m-1.40 0a1.40 1.40 0 1 0 2.80 0a1.40 1.40 0 1 0 -2.80 0M385.0 294.3m-1.40 0a1.40 1.40 0 1 0 2.80 0a1.40 1.40 0 1 0 -2.80 0M386.7 294.1m-1.40 0a1.40 1.40 0 1 0 2.80 0a1.40 1.40 0 1 0 -2.80 0M388.5 293.8m-1.40 0a1.40 1.40 0 1 0 2.80 0a1.40 1.40 0 1 0 -2.80 0M390.2 293.4m-1.40 0a1.40 1.40 0 1 0 2.80 0a1.40 1.40 0 1 0 -2.80 0M391.4 294.1m-1.40 0a1.40 1.40 0 1 0 2.80 0a1.40 1.40 0 1 0 -2.80 0M384.4 299.6m-1.40 0a1.40 1.40 0 1 0 2.80 0a1.40 1.40 0 1 0 -2.80 0M384.4 301.4m-1.40 0a1.40 1.40 0 1 0 2.80 0a1.40 1.40 0 1 0 -2.80 0M397.2 310.1m-1.40 0a1.40 1.40 0 1 0 2.80 0a1.40 1.40 0 1 0 -2.80 0M397.8 311.9m-1.40 0a1.40 1.40 0 1 0 2.80 0a1.40 1.40 0 1 0 -2.80 0M399.0 313.6m-1.40 0a1.40 1.40 0 1 0 2.80 0a1.40 1.40 0 1 0 -2.80 0M405.4 314.0m-1.40 0a1.40 1.40 0 1 0 2.80 0a1.40 1.40 0 1 0 -2.80 0M406.8 307.5m-1.40 0a1.40 1.40 0 1 0 2.80 0a1.40 1.40 0 1 0 -2.80 0M424.0 279.7m-1.40 0a1.40 1.40 0 1 0 2.80 0a1.40 1.40 0 1 0 -2.80 0M426.1 279.0m-1.40 0a1.40 1.40 0 1 0 2.80 0a1.40 1.40 0 1 0 -2.80 0M428.3 279.2m-1.40 0a1.40 1.40 0 1 0 2.80 0a1.40 1.40 0 1 0 -2.80 0M445.0 272.6m-1.40 0a1.40 1.40 0 1 0 2.80 0a1.40 1.40 0 1 0 -2.80 0M446.5 275.8m-1.40 0a1.40 1.40 0 1 0 2.80 0a1.40 1.40 0 1 0 -2.80 0M300.1 292.4m-1.40 0a1.40 1.40 0 1 0 2.80 0a1.40 1.40 0 1 0 -2.80 0M317.4 290.1m-1.40 0a1.40 1.40 0 1 0 2.80 0a1.40 1.40 0 1 0 -2.80 0M318.6 292.9m-1.40 0a1.40 1.40 0 1 0 2.80 0a1.40 1.40 0 1 0 -2.80 0M319.7 293.5m-1.40 0a1.40 1.40 0 1 0 2.80 0a1.40 1.40 0 1 0 -2.80 0M318.9 294.0m-1.40 0a1.40 1.40 0 1 0 2.80 0a1.40 1.40 0 1 0 -2.80 0M323.6 294.0m-1.40 0a1.40 1.40 0 1 0 2.80 0a1.40 1.40 0 1 0 -2.80 0M381.3 195.4m-1.40 0a1.40 1.40 0 1 0 2.80 0a1.40 1.40 0 1 0 -2.80 0M382.8 194.3m-1.40 0a1.40 1.40 0 1 0 2.80 0a1.40 1.40 0 1 0 -2.80 0M382.0 194.9m-1.40 0a1.40 1.40 0 1 0 2.80 0a1.40 1.40 0 1 0 -2.80 0M377.3 251.6m-1.40 0a1.40 1.40 0 1 0 2.80 0a1.40 1.40 0 1 0 -2.80 0M380.0 251.1m-1.40 0a1.40 1.40 0 1 0 2.80 0a1.40 1.40 0 1 0 -2.80 0M382.2 251.8m-1.40 0a1.40 1.40 0 1 0 2.80 0a1.40 1.40 0 1 0 -2.80 0M378.7 253.4m-1.40 0a1.40 1.40 0 1 0 2.80 0a1.40 1.40 0 1 0 -2.80 0M375.9 254.1m-1.40 0a1.40 1.40 0 1 0 2.80 0a1.40 1.40 0 1 0 -2.80 0M381.0 253.5m-1.40 0a1.40 1.40 0 1 0 2.80 0a1.40 1.40 0 1 0 -2.80 0M383.5 250.5m-1.40 0a1.40 1.40 0 1 0 2.80 0a1.40 1.40 0 1 0 -2.80 0" fill="#ff7f0e"/>
<path d="M364.6 235.0m-1.40 0a1.40 1.40 0 1 0 2.80 0a1.40 1.40 0 1 0 -2.80 0M373.1 240.3m-1.40 0a1.40 1.40 0 1 0 2.80 0a1.40 1.40 0 1 0 -2.80 0M381.6 243.5m-1.40 0a1.40 1.40 0 1 0 2.80 0a1.40 1.40 0 1 0 -2.80 0M362.5 251.0m-1.40 0a1.40 1.40 0 1 0 2.80 0a1.40 1.40 0 1 0 -2.80 0M357.2 240.3m-1.40 0a1.40 1.40 0 1 0 2.80 0a1.40 1.40 0 1 0 -2.80 0" fill="#1f77b4"/>
</g>
<rect x="254.5" y="181.5" width="201.0" height="139.0" fill="none" stroke="#a8a8a8" stroke-width="1"/>
<line x1="261.4" y1="320.5" x2="261.4" y2="322.1" stroke="#a8a8a8" stroke-width="0.8"/>
<text x="261.4" y="330.1" font-size="10.0" text-anchor="middle">−10</text>
<line x1="313.8" y1="320.5" x2="313.8" y2="322.1" stroke="#a8a8a8" stroke-width="0.8"/>
<text x="313.8" y="330.1" font-size="10.0" text-anchor="middle">0</text>
<line x1="366.2" y1="320.5" x2="366.2" y2="322.1" stroke="#a8a8a8" stroke-width="0.8"/>
<text x="366.2" y="330.1" font-size="10.0" text-anchor="middle">10</text>
<line x1="418.6" y1="320.5" x2="418.6" y2="322.1" stroke="#a8a8a8" stroke-width="0.8"/>
<text x="418.6" y="330.1" font-size="10.0" text-anchor="middle">20</text>
<line x1="252.9" y1="187.1" x2="254.5" y2="187.1" stroke="#a8a8a8" stroke-width="0.8"/>
<text x="251.9" y="190.5" font-size="10.0" text-anchor="end">20</text>
<line x1="252.9" y1="222.4" x2="254.5" y2="222.4" stroke="#a8a8a8" stroke-width="0.8"/>
<text x="251.9" y="225.8" font-size="10.0" text-anchor="end">10</text>
<line x1="252.9" y1="257.7" x2="254.5" y2="257.7" stroke="#a8a8a8" stroke-width="0.8"/>
<text x="251.9" y="261.1" font-size="10.0" text-anchor="end">0</text>
<line x1="252.9" y1="293.0" x2="254.5" y2="293.0" stroke="#a8a8a8" stroke-width="0.8"/>
<text x="251.9" y="296.4" font-size="10.0" text-anchor="end">−10</text>
<text x="355.0" y="179.3" font-size="11.8" text-anchor="middle">UMAP</text>
<rect x="259.5" y="285.0" width="40.3" height="30.6" rx="2" fill="#fff" fill-opacity="0.8" stroke="#e4e4e4" stroke-width="0.8"/>
<circle cx="273.3" cy="293.2" r="1.2" fill="#1f77b4"/>
<circle cx="273.3" cy="306.9" r="1.2" fill="#ff7f0e"/>
<text x="293.1" y="296.6" font-size="10.0" text-anchor="middle">1</text>
<text x="293.1" y="310.3" font-size="10.0" text-anchor="middle">2</text>
</svg></body></html>
